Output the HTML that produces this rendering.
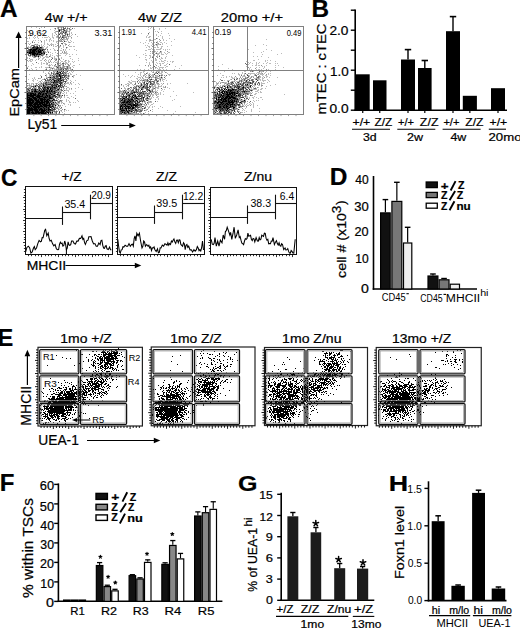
<!DOCTYPE html><html><head><meta charset="utf-8"><title>Figure</title><style>html,body{margin:0;padding:0;background:#fff;}body{width:520px;height:629px;overflow:hidden;font-family:"Liberation Sans",sans-serif;}svg{display:block;}text.k{stroke:#000;stroke-width:.22px;}</style></head><body><svg width="520" height="629" viewBox="0 0 520 629" font-family="Liberation Sans, sans-serif"><defs><filter id="soft" x="-5%" y="-5%" width="110%" height="110%"><feGaussianBlur stdDeviation="0.5"/></filter></defs><g><path fill="#000" d="M59 30h1v1h-1zM33 47h1v1h-1zM37 47h1v1h-1zM40 47h1v1h-1zM36 48h2v1h-2zM30 49h2v1h-2zM33 49h4v1h-4zM39 49h1v1h-1zM30 50h1v1h-1zM32 50h4v1h-4zM38 50h1v1h-1zM40 50h1v1h-1zM42 50h1v1h-1zM30 51h1v1h-1zM32 51h3v1h-3zM36 51h1v1h-1zM38 51h3v1h-3zM27 52h1v1h-1zM29 52h6v1h-6zM38 52h3v1h-3zM29 53h2v1h-2zM32 53h4v1h-4zM37 53h1v1h-1zM41 53h1v1h-1zM44 53h1v1h-1zM32 54h3v1h-3zM36 54h2v1h-2zM39 54h2v1h-2zM34 55h1v1h-1zM38 56h1v1h-1zM57 71h1v1h-1zM60 72h1v1h-1zM57 73h1v1h-1zM59 74h1v1h-1zM59 75h1v1h-1zM60 76h1v1h-1zM50 77h1v1h-1zM60 77h1v1h-1zM60 78h1v1h-1zM54 80h1v1h-1zM58 80h1v1h-1zM61 80h1v1h-1zM54 81h1v1h-1zM53 82h1v1h-1zM57 84h1v1h-1zM60 84h1v1h-1zM43 85h1v1h-1zM35 86h1v1h-1zM52 86h1v1h-1zM56 86h1v1h-1zM58 86h1v1h-1zM44 87h1v1h-1zM47 87h1v1h-1zM54 87h1v1h-1zM47 88h2v1h-2zM50 88h1v1h-1zM35 89h1v1h-1zM43 89h1v1h-1zM50 89h1v1h-1zM58 89h1v1h-1zM35 90h1v1h-1zM39 90h1v1h-1zM44 90h1v1h-1zM47 90h1v1h-1zM49 90h1v1h-1zM51 90h1v1h-1zM32 91h1v1h-1zM34 91h3v1h-3zM40 91h1v1h-1zM42 91h3v1h-3zM46 91h2v1h-2zM49 91h1v1h-1zM51 91h1v1h-1zM54 91h1v1h-1zM39 92h1v1h-1zM41 92h1v1h-1zM47 92h1v1h-1zM27 93h1v1h-1zM30 93h4v1h-4zM35 93h1v1h-1zM38 93h3v1h-3zM43 93h1v1h-1zM45 93h2v1h-2zM50 93h1v1h-1zM54 93h1v1h-1zM27 94h1v1h-1zM30 94h2v1h-2zM33 94h3v1h-3zM38 94h1v1h-1zM40 94h1v1h-1zM42 94h2v1h-2zM46 94h1v1h-1zM51 94h1v1h-1zM57 94h1v1h-1zM27 95h9v1h-9zM37 95h3v1h-3zM42 95h1v1h-1zM46 95h2v1h-2zM49 95h1v1h-1zM54 95h1v1h-1zM27 96h1v1h-1zM30 96h4v1h-4zM36 96h7v1h-7zM45 96h1v1h-1zM47 96h1v1h-1zM49 96h1v1h-1zM27 97h3v1h-3zM32 97h4v1h-4zM37 97h3v1h-3zM43 97h4v1h-4zM49 97h2v1h-2zM27 98h1v1h-1zM29 98h3v1h-3zM33 98h4v1h-4zM39 98h4v1h-4zM44 98h1v1h-1zM49 98h3v1h-3zM27 99h6v1h-6zM34 99h3v1h-3zM38 99h1v1h-1zM40 99h6v1h-6zM47 99h2v1h-2zM53 99h1v1h-1zM27 100h7v1h-7zM35 100h4v1h-4zM40 100h3v1h-3zM44 100h1v1h-1zM46 100h2v1h-2zM49 100h1v1h-1zM52 100h1v1h-1zM27 101h4v1h-4zM32 101h2v1h-2zM36 101h4v1h-4zM41 101h2v1h-2zM44 101h5v1h-5zM27 102h7v1h-7zM35 102h10v1h-10zM46 102h3v1h-3zM53 102h1v1h-1zM27 103h6v1h-6zM34 103h4v1h-4zM39 103h4v1h-4zM44 103h1v1h-1zM46 103h2v1h-2zM49 103h1v1h-1zM51 103h1v1h-1zM27 104h1v1h-1zM29 104h3v1h-3zM33 104h8v1h-8zM42 104h5v1h-5zM49 104h1v1h-1zM27 105h6v1h-6zM34 105h2v1h-2zM37 105h2v1h-2zM40 105h2v1h-2zM43 105h7v1h-7zM55 105h1v1h-1zM27 106h1v1h-1zM30 106h1v1h-1zM32 106h11v1h-11zM44 106h3v1h-3zM49 106h1v1h-1zM52 106h1v1h-1zM27 107h3v1h-3zM31 107h1v1h-1zM33 107h7v1h-7zM43 107h1v1h-1zM46 107h1v1h-1zM48 107h1v1h-1zM50 107h1v1h-1zM28 108h5v1h-5zM34 108h3v1h-3zM38 108h1v1h-1zM40 108h2v1h-2zM44 108h1v1h-1zM48 108h1v1h-1zM27 109h11v1h-11zM39 109h4v1h-4zM44 109h1v1h-1zM46 109h1v1h-1zM48 109h3v1h-3zM27 110h6v1h-6zM34 110h4v1h-4zM39 110h1v1h-1zM41 110h5v1h-5zM48 110h1v1h-1zM27 111h3v1h-3zM32 111h1v1h-1zM35 111h4v1h-4zM41 111h4v1h-4zM46 111h1v1h-1zM27 112h3v1h-3zM31 112h3v1h-3zM35 112h9v1h-9zM45 112h1v1h-1zM47 112h2v1h-2zM50 112h1v1h-1zM52 112h1v1h-1zM27 113h3v1h-3zM32 113h5v1h-5zM38 113h2v1h-2zM41 113h5v1h-5zM48 113h1v1h-1z"/><path fill="#383838" d="M63 29h1v1h-1zM64 30h1v1h-1zM59 31h1v1h-1zM63 32h1v1h-1zM65 32h1v1h-1zM59 34h1v1h-1zM67 34h1v1h-1zM58 36h1v1h-1zM62 37h1v1h-1zM64 41h1v1h-1zM34 46h1v1h-1zM37 46h1v1h-1zM32 47h1v1h-1zM34 47h3v1h-3zM38 47h1v1h-1zM41 47h1v1h-1zM27 48h1v1h-1zM32 48h4v1h-4zM38 48h2v1h-2zM29 49h1v1h-1zM32 49h1v1h-1zM37 49h2v1h-2zM40 49h1v1h-1zM42 49h2v1h-2zM29 50h1v1h-1zM31 50h1v1h-1zM36 50h2v1h-2zM39 50h1v1h-1zM41 50h1v1h-1zM29 51h1v1h-1zM31 51h1v1h-1zM35 51h1v1h-1zM37 51h1v1h-1zM41 51h1v1h-1zM43 51h1v1h-1zM28 52h1v1h-1zM35 52h3v1h-3zM41 52h1v1h-1zM43 52h2v1h-2zM31 53h1v1h-1zM36 53h1v1h-1zM38 53h2v1h-2zM42 53h1v1h-1zM30 54h1v1h-1zM35 54h1v1h-1zM38 54h1v1h-1zM46 54h1v1h-1zM30 55h1v1h-1zM36 55h1v1h-1zM35 56h1v1h-1zM57 67h1v1h-1zM63 69h1v1h-1zM58 70h1v1h-1zM61 71h1v1h-1zM63 71h1v1h-1zM59 72h1v1h-1zM56 73h1v1h-1zM58 73h1v1h-1zM60 73h1v1h-1zM62 73h1v1h-1zM56 75h1v1h-1zM60 75h1v1h-1zM62 75h2v1h-2zM65 75h1v1h-1zM53 76h1v1h-1zM56 76h2v1h-2zM59 76h1v1h-1zM64 76h1v1h-1zM54 77h1v1h-1zM62 77h1v1h-1zM55 78h1v1h-1zM58 78h2v1h-2zM50 79h1v1h-1zM52 79h2v1h-2zM57 79h4v1h-4zM45 80h1v1h-1zM51 80h1v1h-1zM55 80h2v1h-2zM60 80h1v1h-1zM63 80h1v1h-1zM56 81h2v1h-2zM59 81h2v1h-2zM65 81h1v1h-1zM46 82h1v1h-1zM51 82h1v1h-1zM54 82h4v1h-4zM60 82h2v1h-2zM45 83h1v1h-1zM53 83h1v1h-1zM59 83h3v1h-3zM43 84h1v1h-1zM46 84h1v1h-1zM48 84h3v1h-3zM52 84h1v1h-1zM54 84h1v1h-1zM56 84h1v1h-1zM51 85h6v1h-6zM58 85h3v1h-3zM33 86h1v1h-1zM38 86h1v1h-1zM41 86h1v1h-1zM43 86h1v1h-1zM45 86h1v1h-1zM48 86h1v1h-1zM60 86h1v1h-1zM39 87h1v1h-1zM42 87h1v1h-1zM45 87h2v1h-2zM48 87h6v1h-6zM55 87h1v1h-1zM61 87h1v1h-1zM40 88h1v1h-1zM43 88h3v1h-3zM51 88h2v1h-2zM54 88h2v1h-2zM59 88h1v1h-1zM28 89h1v1h-1zM31 89h2v1h-2zM34 89h1v1h-1zM37 89h1v1h-1zM39 89h1v1h-1zM41 89h1v1h-1zM44 89h5v1h-5zM52 89h1v1h-1zM57 89h1v1h-1zM29 90h1v1h-1zM34 90h1v1h-1zM42 90h2v1h-2zM45 90h2v1h-2zM52 90h1v1h-1zM56 90h1v1h-1zM27 91h1v1h-1zM31 91h1v1h-1zM37 91h2v1h-2zM41 91h1v1h-1zM48 91h1v1h-1zM50 91h1v1h-1zM52 91h2v1h-2zM28 92h5v1h-5zM34 92h5v1h-5zM40 92h1v1h-1zM42 92h3v1h-3zM46 92h1v1h-1zM48 92h3v1h-3zM52 92h1v1h-1zM54 92h2v1h-2zM58 92h1v1h-1zM28 93h2v1h-2zM34 93h1v1h-1zM41 93h2v1h-2zM44 93h1v1h-1zM47 93h3v1h-3zM53 93h1v1h-1zM28 94h2v1h-2zM32 94h1v1h-1zM36 94h2v1h-2zM39 94h1v1h-1zM41 94h1v1h-1zM44 94h2v1h-2zM48 94h2v1h-2zM52 94h1v1h-1zM36 95h1v1h-1zM40 95h2v1h-2zM43 95h3v1h-3zM48 95h1v1h-1zM50 95h1v1h-1zM53 95h1v1h-1zM59 95h1v1h-1zM62 95h1v1h-1zM28 96h2v1h-2zM35 96h1v1h-1zM43 96h2v1h-2zM46 96h1v1h-1zM48 96h1v1h-1zM50 96h1v1h-1zM52 96h2v1h-2zM55 96h2v1h-2zM30 97h2v1h-2zM36 97h1v1h-1zM40 97h3v1h-3zM47 97h2v1h-2zM51 97h2v1h-2zM55 97h1v1h-1zM28 98h1v1h-1zM32 98h1v1h-1zM37 98h2v1h-2zM43 98h1v1h-1zM45 98h4v1h-4zM52 98h1v1h-1zM33 99h1v1h-1zM37 99h1v1h-1zM39 99h1v1h-1zM46 99h1v1h-1zM49 99h1v1h-1zM54 99h1v1h-1zM34 100h1v1h-1zM39 100h1v1h-1zM43 100h1v1h-1zM45 100h1v1h-1zM48 100h1v1h-1zM50 100h1v1h-1zM54 100h1v1h-1zM56 100h1v1h-1zM31 101h1v1h-1zM34 101h2v1h-2zM40 101h1v1h-1zM43 101h1v1h-1zM50 101h2v1h-2zM34 102h1v1h-1zM45 102h1v1h-1zM49 102h2v1h-2zM55 102h1v1h-1zM33 103h1v1h-1zM38 103h1v1h-1zM43 103h1v1h-1zM45 103h1v1h-1zM48 103h1v1h-1zM28 104h1v1h-1zM32 104h1v1h-1zM41 104h1v1h-1zM47 104h2v1h-2zM50 104h4v1h-4zM33 105h1v1h-1zM36 105h1v1h-1zM39 105h1v1h-1zM42 105h1v1h-1zM50 105h1v1h-1zM52 105h1v1h-1zM58 105h1v1h-1zM28 106h2v1h-2zM31 106h1v1h-1zM43 106h1v1h-1zM47 106h2v1h-2zM50 106h2v1h-2zM53 106h1v1h-1zM30 107h1v1h-1zM32 107h1v1h-1zM40 107h3v1h-3zM44 107h2v1h-2zM47 107h1v1h-1zM49 107h1v1h-1zM51 107h1v1h-1zM53 107h1v1h-1zM27 108h1v1h-1zM33 108h1v1h-1zM37 108h1v1h-1zM39 108h1v1h-1zM42 108h2v1h-2zM45 108h3v1h-3zM49 108h1v1h-1zM52 108h1v1h-1zM54 108h1v1h-1zM38 109h1v1h-1zM43 109h1v1h-1zM45 109h1v1h-1zM47 109h1v1h-1zM53 109h2v1h-2zM33 110h1v1h-1zM38 110h1v1h-1zM40 110h1v1h-1zM46 110h2v1h-2zM49 110h4v1h-4zM30 111h2v1h-2zM33 111h2v1h-2zM39 111h2v1h-2zM47 111h3v1h-3zM30 112h1v1h-1zM34 112h1v1h-1zM44 112h1v1h-1zM46 112h1v1h-1zM59 112h1v1h-1zM30 113h2v1h-2zM37 113h1v1h-1zM40 113h1v1h-1zM46 113h1v1h-1zM50 113h1v1h-1z"/><path fill="#666" d="M63 27h1v1h-1zM55 28h1v1h-1zM63 28h3v1h-3zM67 28h1v1h-1zM69 28h1v1h-1zM72 28h1v1h-1zM59 29h1v1h-1zM61 29h1v1h-1zM58 31h1v1h-1zM63 31h1v1h-1zM66 31h1v1h-1zM58 32h1v1h-1zM66 32h1v1h-1zM60 33h1v1h-1zM62 33h1v1h-1zM65 33h1v1h-1zM65 34h1v1h-1zM28 35h1v1h-1zM63 35h2v1h-2zM67 35h1v1h-1zM60 36h1v1h-1zM62 36h1v1h-1zM59 37h1v1h-1zM63 37h1v1h-1zM61 38h1v1h-1zM62 39h1v1h-1zM41 41h1v1h-1zM32 42h1v1h-1zM61 43h2v1h-2zM32 45h2v1h-2zM39 45h1v1h-1zM60 45h1v1h-1zM33 46h1v1h-1zM36 46h1v1h-1zM39 46h1v1h-1zM39 47h1v1h-1zM66 47h1v1h-1zM31 48h1v1h-1zM40 48h2v1h-2zM28 49h1v1h-1zM41 49h1v1h-1zM44 49h2v1h-2zM47 49h1v1h-1zM27 50h2v1h-2zM57 50h1v1h-1zM27 51h2v1h-2zM48 52h1v1h-1zM28 53h1v1h-1zM40 53h1v1h-1zM43 53h1v1h-1zM28 54h1v1h-1zM31 54h1v1h-1zM41 54h1v1h-1zM43 54h1v1h-1zM28 55h1v1h-1zM32 55h2v1h-2zM35 55h1v1h-1zM38 55h1v1h-1zM41 55h2v1h-2zM34 56h1v1h-1zM36 56h1v1h-1zM49 56h1v1h-1zM52 58h1v1h-1zM51 59h1v1h-1zM56 59h1v1h-1zM59 59h1v1h-1zM36 62h1v1h-1zM57 63h1v1h-1zM62 63h2v1h-2zM55 64h1v1h-1zM59 65h1v1h-1zM63 65h1v1h-1zM56 66h1v1h-1zM67 66h1v1h-1zM49 67h1v1h-1zM60 67h1v1h-1zM67 67h1v1h-1zM27 68h1v1h-1zM52 68h1v1h-1zM61 68h1v1h-1zM65 68h1v1h-1zM67 68h1v1h-1zM46 69h1v1h-1zM58 69h1v1h-1zM60 69h2v1h-2zM66 69h1v1h-1zM72 69h1v1h-1zM52 70h1v1h-1zM59 70h1v1h-1zM61 70h1v1h-1zM63 70h2v1h-2zM67 71h1v1h-1zM51 72h1v1h-1zM57 72h2v1h-2zM62 72h1v1h-1zM64 72h1v1h-1zM51 73h1v1h-1zM53 73h1v1h-1zM61 73h1v1h-1zM63 73h1v1h-1zM65 73h1v1h-1zM53 74h1v1h-1zM55 74h1v1h-1zM57 74h2v1h-2zM60 74h1v1h-1zM63 74h1v1h-1zM45 75h1v1h-1zM50 75h1v1h-1zM52 75h1v1h-1zM57 75h2v1h-2zM61 75h1v1h-1zM64 75h1v1h-1zM66 75h1v1h-1zM68 75h1v1h-1zM41 76h1v1h-1zM54 76h1v1h-1zM58 76h1v1h-1zM61 76h1v1h-1zM68 76h1v1h-1zM72 76h1v1h-1zM41 77h1v1h-1zM48 77h2v1h-2zM52 77h2v1h-2zM56 77h2v1h-2zM61 77h1v1h-1zM63 77h2v1h-2zM66 77h1v1h-1zM46 78h1v1h-1zM53 78h2v1h-2zM56 78h2v1h-2zM61 78h1v1h-1zM65 78h1v1h-1zM67 78h2v1h-2zM44 79h2v1h-2zM47 79h1v1h-1zM49 79h1v1h-1zM56 79h1v1h-1zM62 79h2v1h-2zM66 79h1v1h-1zM47 80h3v1h-3zM53 80h1v1h-1zM57 80h1v1h-1zM59 80h1v1h-1zM62 80h1v1h-1zM50 81h1v1h-1zM55 81h1v1h-1zM58 81h1v1h-1zM63 81h2v1h-2zM45 82h1v1h-1zM48 82h1v1h-1zM52 82h1v1h-1zM58 82h2v1h-2zM62 82h1v1h-1zM65 82h1v1h-1zM27 83h1v1h-1zM41 83h1v1h-1zM43 83h1v1h-1zM46 83h1v1h-1zM50 83h1v1h-1zM54 83h3v1h-3zM64 83h1v1h-1zM38 84h1v1h-1zM45 84h1v1h-1zM47 84h1v1h-1zM51 84h1v1h-1zM55 84h1v1h-1zM35 85h3v1h-3zM39 85h1v1h-1zM44 85h1v1h-1zM46 85h1v1h-1zM61 85h2v1h-2zM64 85h1v1h-1zM31 86h2v1h-2zM39 86h1v1h-1zM44 86h1v1h-1zM47 86h1v1h-1zM49 86h3v1h-3zM54 86h2v1h-2zM59 86h1v1h-1zM62 86h2v1h-2zM33 87h1v1h-1zM38 87h1v1h-1zM43 87h1v1h-1zM56 87h2v1h-2zM59 87h1v1h-1zM63 87h1v1h-1zM27 88h1v1h-1zM29 88h2v1h-2zM32 88h1v1h-1zM34 88h2v1h-2zM38 88h2v1h-2zM42 88h1v1h-1zM53 88h1v1h-1zM56 88h1v1h-1zM27 89h1v1h-1zM33 89h1v1h-1zM36 89h1v1h-1zM49 89h1v1h-1zM51 89h1v1h-1zM53 89h3v1h-3zM61 89h1v1h-1zM28 90h1v1h-1zM31 90h3v1h-3zM36 90h1v1h-1zM38 90h1v1h-1zM40 90h2v1h-2zM48 90h1v1h-1zM50 90h1v1h-1zM54 90h2v1h-2zM57 90h2v1h-2zM61 90h2v1h-2zM64 90h1v1h-1zM29 91h1v1h-1zM33 91h1v1h-1zM39 91h1v1h-1zM45 91h1v1h-1zM55 91h1v1h-1zM27 92h1v1h-1zM33 92h1v1h-1zM45 92h1v1h-1zM51 92h1v1h-1zM53 92h1v1h-1zM56 92h1v1h-1zM60 92h1v1h-1zM36 93h2v1h-2zM51 93h2v1h-2zM55 93h1v1h-1zM58 93h1v1h-1zM60 93h1v1h-1zM47 94h1v1h-1zM50 94h1v1h-1zM53 94h1v1h-1zM56 94h1v1h-1zM58 94h1v1h-1zM52 95h1v1h-1zM55 95h1v1h-1zM58 95h1v1h-1zM64 95h1v1h-1zM34 96h1v1h-1zM51 96h1v1h-1zM54 96h1v1h-1zM59 96h1v1h-1zM57 97h1v1h-1zM53 98h1v1h-1zM75 98h1v1h-1zM51 100h1v1h-1zM53 100h1v1h-1zM55 100h1v1h-1zM60 100h1v1h-1zM49 101h1v1h-1zM52 101h1v1h-1zM59 101h1v1h-1zM52 102h1v1h-1zM58 102h1v1h-1zM52 103h2v1h-2zM56 103h1v1h-1zM54 104h1v1h-1zM57 104h1v1h-1zM53 105h1v1h-1zM54 107h2v1h-2zM61 107h1v1h-1zM51 108h1v1h-1zM51 109h2v1h-2zM55 109h1v1h-1zM64 109h1v1h-1zM45 111h1v1h-1zM50 111h1v1h-1zM52 111h1v1h-1zM54 111h1v1h-1zM56 111h1v1h-1zM59 111h1v1h-1zM49 112h1v1h-1zM56 112h1v1h-1zM52 113h1v1h-1zM56 113h1v1h-1z"/><path fill="#939393" d="M44 27h1v1h-1zM61 27h1v1h-1zM65 27h1v1h-1zM39 28h1v1h-1zM61 28h1v1h-1zM60 29h1v1h-1zM62 29h1v1h-1zM64 29h1v1h-1zM66 29h1v1h-1zM69 29h2v1h-2zM58 30h1v1h-1zM60 30h2v1h-2zM63 30h1v1h-1zM65 30h2v1h-2zM56 31h2v1h-2zM61 31h2v1h-2zM65 31h1v1h-1zM69 31h1v1h-1zM60 32h2v1h-2zM58 33h1v1h-1zM61 33h1v1h-1zM64 33h1v1h-1zM69 33h1v1h-1zM56 34h1v1h-1zM62 34h1v1h-1zM69 34h1v1h-1zM75 34h1v1h-1zM62 35h1v1h-1zM65 35h1v1h-1zM57 36h1v1h-1zM63 36h1v1h-1zM68 36h1v1h-1zM64 37h3v1h-3zM71 37h1v1h-1zM59 38h1v1h-1zM63 38h1v1h-1zM66 38h1v1h-1zM60 39h1v1h-1zM67 39h1v1h-1zM58 40h2v1h-2zM61 40h1v1h-1zM32 41h1v1h-1zM60 41h3v1h-3zM34 42h1v1h-1zM69 42h1v1h-1zM29 44h1v1h-1zM35 44h1v1h-1zM37 44h1v1h-1zM65 44h2v1h-2zM31 45h1v1h-1zM34 45h1v1h-1zM49 45h1v1h-1zM51 45h1v1h-1zM57 45h1v1h-1zM68 45h1v1h-1zM35 46h1v1h-1zM27 47h1v1h-1zM30 47h1v1h-1zM42 47h1v1h-1zM28 48h1v1h-1zM30 48h1v1h-1zM42 48h1v1h-1zM63 49h1v1h-1zM43 50h2v1h-2zM44 51h1v1h-1zM64 51h1v1h-1zM42 52h1v1h-1zM62 52h1v1h-1zM64 52h1v1h-1zM57 53h1v1h-1zM42 54h1v1h-1zM44 54h1v1h-1zM29 55h1v1h-1zM37 55h1v1h-1zM39 55h1v1h-1zM32 56h1v1h-1zM37 56h1v1h-1zM34 57h1v1h-1zM38 57h1v1h-1zM29 58h1v1h-1zM38 59h1v1h-1zM45 59h1v1h-1zM27 60h1v1h-1zM44 60h1v1h-1zM55 60h1v1h-1zM65 60h1v1h-1zM50 61h1v1h-1zM49 62h1v1h-1zM47 63h1v1h-1zM57 64h1v1h-1zM63 64h1v1h-1zM65 64h1v1h-1zM68 64h1v1h-1zM49 65h1v1h-1zM54 65h1v1h-1zM60 65h1v1h-1zM68 65h2v1h-2zM63 66h2v1h-2zM66 66h1v1h-1zM58 67h1v1h-1zM62 67h2v1h-2zM70 67h1v1h-1zM60 68h1v1h-1zM62 68h3v1h-3zM66 68h1v1h-1zM70 68h1v1h-1zM56 69h1v1h-1zM59 69h1v1h-1zM65 69h1v1h-1zM55 70h1v1h-1zM60 70h1v1h-1zM62 70h1v1h-1zM66 70h3v1h-3zM53 71h1v1h-1zM59 71h1v1h-1zM54 72h1v1h-1zM56 72h1v1h-1zM63 72h1v1h-1zM65 72h2v1h-2zM48 73h1v1h-1zM55 73h1v1h-1zM68 73h1v1h-1zM54 74h1v1h-1zM56 74h1v1h-1zM61 74h1v1h-1zM64 74h1v1h-1zM66 74h1v1h-1zM54 75h1v1h-1zM55 76h1v1h-1zM62 76h1v1h-1zM65 76h1v1h-1zM51 77h1v1h-1zM58 77h1v1h-1zM38 78h1v1h-1zM50 78h3v1h-3zM63 78h1v1h-1zM54 79h1v1h-1zM61 79h1v1h-1zM64 79h1v1h-1zM41 80h1v1h-1zM46 80h1v1h-1zM66 80h1v1h-1zM40 81h1v1h-1zM46 81h1v1h-1zM48 81h1v1h-1zM51 81h3v1h-3zM66 81h1v1h-1zM43 82h1v1h-1zM47 82h1v1h-1zM49 82h2v1h-2zM70 82h1v1h-1zM36 83h1v1h-1zM44 83h1v1h-1zM47 83h3v1h-3zM57 83h1v1h-1zM62 83h1v1h-1zM33 84h1v1h-1zM36 84h1v1h-1zM40 84h1v1h-1zM42 84h1v1h-1zM53 84h1v1h-1zM62 84h1v1h-1zM27 85h1v1h-1zM29 85h1v1h-1zM40 85h2v1h-2zM45 85h1v1h-1zM47 85h1v1h-1zM34 86h1v1h-1zM40 86h1v1h-1zM46 86h1v1h-1zM53 86h1v1h-1zM57 86h1v1h-1zM66 86h1v1h-1zM30 87h1v1h-1zM34 87h1v1h-1zM60 87h1v1h-1zM28 88h1v1h-1zM46 88h1v1h-1zM57 88h2v1h-2zM66 88h1v1h-1zM71 88h1v1h-1zM38 89h1v1h-1zM59 89h2v1h-2zM27 90h1v1h-1zM37 90h1v1h-1zM53 90h1v1h-1zM28 91h1v1h-1zM56 91h2v1h-2zM59 91h1v1h-1zM63 91h1v1h-1zM57 92h1v1h-1zM57 93h1v1h-1zM54 94h2v1h-2zM59 94h1v1h-1zM51 95h1v1h-1zM57 95h1v1h-1zM60 95h1v1h-1zM58 96h1v1h-1zM61 96h1v1h-1zM53 97h1v1h-1zM58 97h2v1h-2zM61 97h1v1h-1zM56 98h2v1h-2zM60 98h1v1h-1zM50 99h3v1h-3zM58 99h1v1h-1zM57 100h1v1h-1zM61 100h1v1h-1zM57 101h2v1h-2zM61 101h1v1h-1zM51 102h1v1h-1zM59 102h1v1h-1zM54 103h1v1h-1zM63 103h1v1h-1zM55 104h1v1h-1zM51 105h1v1h-1zM60 105h1v1h-1zM55 106h1v1h-1zM57 107h1v1h-1zM59 107h1v1h-1zM56 108h2v1h-2zM60 108h1v1h-1zM58 109h1v1h-1zM62 109h1v1h-1zM53 110h2v1h-2zM61 110h1v1h-1zM53 111h1v1h-1zM55 111h1v1h-1zM57 111h1v1h-1zM51 112h1v1h-1zM55 112h1v1h-1zM51 113h1v1h-1zM59 113h1v1h-1z"/><path fill="#bbbbbb" d="M31 27h1v1h-1zM36 27h1v1h-1zM41 27h1v1h-1zM57 27h1v1h-1zM59 27h2v1h-2zM62 27h1v1h-1zM67 27h1v1h-1zM70 27h1v1h-1zM54 28h1v1h-1zM57 28h1v1h-1zM68 28h1v1h-1zM74 28h1v1h-1zM50 29h1v1h-1zM55 29h1v1h-1zM67 29h1v1h-1zM71 29h1v1h-1zM27 30h1v1h-1zM43 30h1v1h-1zM54 30h1v1h-1zM67 30h1v1h-1zM69 30h2v1h-2zM28 31h2v1h-2zM36 31h1v1h-1zM39 31h1v1h-1zM55 31h1v1h-1zM64 31h1v1h-1zM67 31h2v1h-2zM39 32h1v1h-1zM54 32h2v1h-2zM62 32h1v1h-1zM64 32h1v1h-1zM69 32h1v1h-1zM71 32h1v1h-1zM32 33h1v1h-1zM37 33h1v1h-1zM39 33h1v1h-1zM42 33h1v1h-1zM52 33h1v1h-1zM55 33h1v1h-1zM59 33h1v1h-1zM66 33h2v1h-2zM71 33h1v1h-1zM30 34h1v1h-1zM33 34h1v1h-1zM44 34h1v1h-1zM52 34h1v1h-1zM61 34h1v1h-1zM66 34h1v1h-1zM68 34h1v1h-1zM72 34h1v1h-1zM40 35h1v1h-1zM52 35h1v1h-1zM54 35h1v1h-1zM57 35h2v1h-2zM60 35h1v1h-1zM69 35h1v1h-1zM71 35h1v1h-1zM34 36h1v1h-1zM37 36h1v1h-1zM48 36h1v1h-1zM52 36h1v1h-1zM56 36h1v1h-1zM64 36h4v1h-4zM69 36h2v1h-2zM77 36h1v1h-1zM29 37h1v1h-1zM33 37h1v1h-1zM35 37h1v1h-1zM37 37h1v1h-1zM42 37h1v1h-1zM44 37h4v1h-4zM49 37h1v1h-1zM52 37h2v1h-2zM56 37h3v1h-3zM60 37h2v1h-2zM68 37h1v1h-1zM27 38h1v1h-1zM29 38h1v1h-1zM34 38h1v1h-1zM38 38h1v1h-1zM50 38h1v1h-1zM53 38h1v1h-1zM64 38h1v1h-1zM67 38h2v1h-2zM71 38h1v1h-1zM46 39h1v1h-1zM49 39h2v1h-2zM61 39h1v1h-1zM63 39h4v1h-4zM33 40h1v1h-1zM35 40h1v1h-1zM38 40h1v1h-1zM40 40h1v1h-1zM44 40h1v1h-1zM46 40h1v1h-1zM49 40h1v1h-1zM51 40h1v1h-1zM53 40h1v1h-1zM60 40h1v1h-1zM63 40h2v1h-2zM67 40h1v1h-1zM70 40h1v1h-1zM27 41h2v1h-2zM44 41h1v1h-1zM49 41h1v1h-1zM53 41h1v1h-1zM56 41h2v1h-2zM59 41h1v1h-1zM65 41h2v1h-2zM68 41h1v1h-1zM71 41h1v1h-1zM38 42h1v1h-1zM41 42h1v1h-1zM44 42h1v1h-1zM56 42h1v1h-1zM63 42h1v1h-1zM68 42h1v1h-1zM70 42h1v1h-1zM73 42h1v1h-1zM28 43h1v1h-1zM30 43h1v1h-1zM44 43h1v1h-1zM47 43h1v1h-1zM51 43h1v1h-1zM57 43h2v1h-2zM64 43h2v1h-2zM34 44h1v1h-1zM36 44h1v1h-1zM41 44h1v1h-1zM44 44h1v1h-1zM47 44h2v1h-2zM50 44h4v1h-4zM55 44h1v1h-1zM62 44h1v1h-1zM69 44h1v1h-1zM36 45h3v1h-3zM41 45h1v1h-1zM43 45h1v1h-1zM53 45h1v1h-1zM63 45h1v1h-1zM65 45h1v1h-1zM28 46h1v1h-1zM30 46h2v1h-2zM41 46h2v1h-2zM44 46h1v1h-1zM47 46h1v1h-1zM53 46h1v1h-1zM55 46h2v1h-2zM59 46h2v1h-2zM63 46h1v1h-1zM69 46h3v1h-3zM73 46h2v1h-2zM28 47h2v1h-2zM31 47h1v1h-1zM43 47h1v1h-1zM46 47h2v1h-2zM58 47h2v1h-2zM63 47h1v1h-1zM67 47h1v1h-1zM43 48h1v1h-1zM45 48h2v1h-2zM53 48h1v1h-1zM61 48h1v1h-1zM66 48h1v1h-1zM50 49h1v1h-1zM54 49h1v1h-1zM65 49h1v1h-1zM69 49h1v1h-1zM74 49h1v1h-1zM47 50h1v1h-1zM54 50h2v1h-2zM58 50h1v1h-1zM60 50h2v1h-2zM63 50h1v1h-1zM65 50h1v1h-1zM76 50h1v1h-1zM42 51h1v1h-1zM45 51h1v1h-1zM47 51h2v1h-2zM62 51h1v1h-1zM66 51h1v1h-1zM45 52h2v1h-2zM50 52h1v1h-1zM55 52h1v1h-1zM65 52h2v1h-2zM27 53h1v1h-1zM52 53h1v1h-1zM60 53h2v1h-2zM63 53h5v1h-5zM27 54h1v1h-1zM47 54h1v1h-1zM50 54h1v1h-1zM66 54h1v1h-1zM69 54h1v1h-1zM72 54h1v1h-1zM76 54h1v1h-1zM31 55h1v1h-1zM40 55h1v1h-1zM43 55h1v1h-1zM46 55h1v1h-1zM50 55h1v1h-1zM52 55h1v1h-1zM56 55h2v1h-2zM59 55h2v1h-2zM65 55h1v1h-1zM29 56h2v1h-2zM33 56h1v1h-1zM39 56h2v1h-2zM42 56h1v1h-1zM45 56h3v1h-3zM50 56h1v1h-1zM54 56h1v1h-1zM57 56h1v1h-1zM69 56h2v1h-2zM27 57h1v1h-1zM33 57h1v1h-1zM35 57h1v1h-1zM40 57h1v1h-1zM43 57h2v1h-2zM46 57h3v1h-3zM51 57h2v1h-2zM54 57h1v1h-1zM61 57h1v1h-1zM27 58h1v1h-1zM38 58h2v1h-2zM42 58h2v1h-2zM54 58h3v1h-3zM58 58h2v1h-2zM61 58h1v1h-1zM70 58h1v1h-1zM78 58h1v1h-1zM30 59h3v1h-3zM36 59h1v1h-1zM42 59h1v1h-1zM49 59h1v1h-1zM54 59h2v1h-2zM58 59h1v1h-1zM63 59h1v1h-1zM72 59h1v1h-1zM29 60h2v1h-2zM32 60h1v1h-1zM35 60h1v1h-1zM40 60h2v1h-2zM46 60h1v1h-1zM48 60h1v1h-1zM50 60h1v1h-1zM56 60h1v1h-1zM58 60h1v1h-1zM60 60h1v1h-1zM66 60h1v1h-1zM68 60h1v1h-1zM78 60h1v1h-1zM28 61h1v1h-1zM30 61h2v1h-2zM45 61h1v1h-1zM48 61h1v1h-1zM54 61h1v1h-1zM57 61h1v1h-1zM61 61h2v1h-2zM64 61h2v1h-2zM68 61h2v1h-2zM72 61h1v1h-1zM74 61h1v1h-1zM41 62h1v1h-1zM46 62h1v1h-1zM48 62h1v1h-1zM51 62h1v1h-1zM53 62h1v1h-1zM55 62h3v1h-3zM60 62h1v1h-1zM63 62h1v1h-1zM65 62h2v1h-2zM68 62h1v1h-1zM73 62h1v1h-1zM32 63h1v1h-1zM38 63h1v1h-1zM41 63h1v1h-1zM43 63h2v1h-2zM46 63h1v1h-1zM59 63h2v1h-2zM64 63h4v1h-4zM70 63h1v1h-1zM33 64h1v1h-1zM41 64h1v1h-1zM46 64h2v1h-2zM49 64h1v1h-1zM51 64h1v1h-1zM58 64h1v1h-1zM60 64h3v1h-3zM67 64h1v1h-1zM70 64h1v1h-1zM79 64h1v1h-1zM31 65h1v1h-1zM48 65h1v1h-1zM50 65h1v1h-1zM52 65h1v1h-1zM55 65h1v1h-1zM57 65h2v1h-2zM62 65h1v1h-1zM73 65h2v1h-2zM28 66h1v1h-1zM41 66h1v1h-1zM49 66h1v1h-1zM54 66h2v1h-2zM57 66h4v1h-4zM62 66h1v1h-1zM65 66h1v1h-1zM68 66h2v1h-2zM72 66h1v1h-1zM27 67h1v1h-1zM35 67h2v1h-2zM39 67h1v1h-1zM41 67h1v1h-1zM45 67h4v1h-4zM50 67h2v1h-2zM53 67h1v1h-1zM56 67h1v1h-1zM59 67h1v1h-1zM61 67h1v1h-1zM64 67h1v1h-1zM66 67h1v1h-1zM68 67h2v1h-2zM73 67h1v1h-1zM31 68h1v1h-1zM46 68h1v1h-1zM50 68h2v1h-2zM53 68h2v1h-2zM56 68h4v1h-4zM68 68h2v1h-2zM29 69h1v1h-1zM32 69h1v1h-1zM36 69h1v1h-1zM45 69h1v1h-1zM49 69h2v1h-2zM52 69h1v1h-1zM54 69h2v1h-2zM57 69h1v1h-1zM62 69h1v1h-1zM67 69h2v1h-2zM70 69h2v1h-2zM47 70h1v1h-1zM65 70h1v1h-1zM70 70h1v1h-1zM76 70h1v1h-1zM43 71h1v1h-1zM49 71h1v1h-1zM54 71h3v1h-3zM58 71h1v1h-1zM60 71h1v1h-1zM62 71h1v1h-1zM65 71h2v1h-2zM71 71h1v1h-1zM73 71h1v1h-1zM43 72h1v1h-1zM48 72h1v1h-1zM53 72h1v1h-1zM69 72h1v1h-1zM72 72h1v1h-1zM45 73h1v1h-1zM49 73h1v1h-1zM52 73h1v1h-1zM54 73h1v1h-1zM59 73h1v1h-1zM64 73h1v1h-1zM66 73h2v1h-2zM70 73h1v1h-1zM29 74h1v1h-1zM46 74h1v1h-1zM49 74h3v1h-3zM65 74h1v1h-1zM68 74h1v1h-1zM70 74h2v1h-2zM76 74h1v1h-1zM40 75h1v1h-1zM46 75h1v1h-1zM49 75h1v1h-1zM51 75h1v1h-1zM53 75h1v1h-1zM55 75h1v1h-1zM67 75h1v1h-1zM69 75h1v1h-1zM73 75h2v1h-2zM80 75h1v1h-1zM46 76h1v1h-1zM49 76h4v1h-4zM66 76h2v1h-2zM69 76h1v1h-1zM73 76h1v1h-1zM34 77h1v1h-1zM46 77h2v1h-2zM55 77h1v1h-1zM65 77h1v1h-1zM67 77h2v1h-2zM73 77h1v1h-1zM32 78h1v1h-1zM34 78h1v1h-1zM39 78h2v1h-2zM44 78h1v1h-1zM47 78h1v1h-1zM49 78h1v1h-1zM62 78h1v1h-1zM28 79h1v1h-1zM33 79h1v1h-1zM35 79h1v1h-1zM42 79h2v1h-2zM48 79h1v1h-1zM51 79h1v1h-1zM55 79h1v1h-1zM65 79h1v1h-1zM68 79h1v1h-1zM32 80h2v1h-2zM37 80h1v1h-1zM50 80h1v1h-1zM52 80h1v1h-1zM67 80h1v1h-1zM70 80h1v1h-1zM75 80h1v1h-1zM33 81h1v1h-1zM39 81h1v1h-1zM42 81h1v1h-1zM44 81h2v1h-2zM47 81h1v1h-1zM49 81h1v1h-1zM61 81h2v1h-2zM71 81h1v1h-1zM38 82h1v1h-1zM40 82h2v1h-2zM44 82h1v1h-1zM63 82h1v1h-1zM67 82h2v1h-2zM73 82h1v1h-1zM28 83h2v1h-2zM31 83h3v1h-3zM35 83h1v1h-1zM37 83h1v1h-1zM39 83h2v1h-2zM42 83h1v1h-1zM51 83h2v1h-2zM58 83h1v1h-1zM65 83h4v1h-4zM70 83h2v1h-2zM78 83h1v1h-1zM29 84h1v1h-1zM31 84h1v1h-1zM39 84h1v1h-1zM41 84h1v1h-1zM44 84h1v1h-1zM58 84h1v1h-1zM61 84h1v1h-1zM63 84h3v1h-3zM69 84h1v1h-1zM71 84h1v1h-1zM75 84h1v1h-1zM79 84h1v1h-1zM28 85h1v1h-1zM30 85h2v1h-2zM33 85h2v1h-2zM42 85h1v1h-1zM48 85h3v1h-3zM57 85h1v1h-1zM27 86h1v1h-1zM29 86h2v1h-2zM36 86h2v1h-2zM42 86h1v1h-1zM61 86h1v1h-1zM64 86h2v1h-2zM28 87h2v1h-2zM31 87h1v1h-1zM35 87h2v1h-2zM40 87h1v1h-1zM58 87h1v1h-1zM62 87h1v1h-1zM67 87h2v1h-2zM78 87h1v1h-1zM33 88h1v1h-1zM36 88h1v1h-1zM41 88h1v1h-1zM49 88h1v1h-1zM61 88h1v1h-1zM63 88h2v1h-2zM69 88h1v1h-1zM75 88h1v1h-1zM29 89h2v1h-2zM40 89h1v1h-1zM42 89h1v1h-1zM56 89h1v1h-1zM63 89h1v1h-1zM66 89h1v1h-1zM69 89h1v1h-1zM71 89h1v1h-1zM82 89h1v1h-1zM30 90h1v1h-1zM59 90h2v1h-2zM65 90h4v1h-4zM30 91h1v1h-1zM58 91h1v1h-1zM60 91h2v1h-2zM68 91h1v1h-1zM75 91h1v1h-1zM59 92h1v1h-1zM61 92h1v1h-1zM64 92h1v1h-1zM66 92h1v1h-1zM59 93h1v1h-1zM62 93h2v1h-2zM66 93h1v1h-1zM70 93h1v1h-1zM73 93h1v1h-1zM60 94h1v1h-1zM64 94h1v1h-1zM61 95h1v1h-1zM66 95h2v1h-2zM75 95h1v1h-1zM57 96h1v1h-1zM60 96h1v1h-1zM64 96h1v1h-1zM71 96h1v1h-1zM54 97h1v1h-1zM56 97h1v1h-1zM60 97h1v1h-1zM64 97h1v1h-1zM67 97h2v1h-2zM73 97h1v1h-1zM54 98h1v1h-1zM69 98h1v1h-1zM56 99h1v1h-1zM66 99h1v1h-1zM59 100h1v1h-1zM62 100h1v1h-1zM66 100h1v1h-1zM68 100h1v1h-1zM77 100h1v1h-1zM53 101h3v1h-3zM60 101h1v1h-1zM66 101h1v1h-1zM69 101h1v1h-1zM78 101h1v1h-1zM54 102h1v1h-1zM56 102h2v1h-2zM61 102h2v1h-2zM69 102h2v1h-2zM73 102h1v1h-1zM75 102h1v1h-1zM50 103h1v1h-1zM55 103h1v1h-1zM57 103h3v1h-3zM61 103h1v1h-1zM64 103h1v1h-1zM56 104h1v1h-1zM58 104h1v1h-1zM64 104h1v1h-1zM68 104h1v1h-1zM70 104h1v1h-1zM54 105h1v1h-1zM56 105h1v1h-1zM59 105h1v1h-1zM62 105h1v1h-1zM70 105h1v1h-1zM54 106h1v1h-1zM57 106h4v1h-4zM65 106h1v1h-1zM52 107h1v1h-1zM56 107h1v1h-1zM79 107h1v1h-1zM53 108h1v1h-1zM55 108h1v1h-1zM58 108h1v1h-1zM61 108h1v1h-1zM59 109h1v1h-1zM65 109h1v1h-1zM56 110h1v1h-1zM58 110h1v1h-1zM60 110h1v1h-1zM64 110h1v1h-1zM66 110h1v1h-1zM68 110h1v1h-1zM51 111h1v1h-1zM61 111h1v1h-1zM64 111h1v1h-1zM54 112h1v1h-1zM62 112h1v1h-1zM47 113h1v1h-1zM49 113h1v1h-1zM53 113h3v1h-3zM58 113h1v1h-1zM64 113h1v1h-1z"/></g>
<g><path fill="#000" d="M143 86h1v1h-1zM141 89h1v1h-1zM149 90h1v1h-1zM128 92h1v1h-1zM134 92h1v1h-1zM132 93h1v1h-1zM129 95h1v1h-1zM133 95h1v1h-1zM135 95h1v1h-1zM126 96h1v1h-1zM132 96h1v1h-1zM135 96h1v1h-1zM126 97h1v1h-1zM133 97h1v1h-1zM136 97h1v1h-1zM143 97h1v1h-1zM123 98h2v1h-2zM136 98h2v1h-2zM122 99h1v1h-1zM128 99h1v1h-1zM131 99h2v1h-2zM121 100h1v1h-1zM124 100h1v1h-1zM129 100h1v1h-1zM133 100h1v1h-1zM136 100h1v1h-1zM124 101h1v1h-1zM127 101h2v1h-2zM130 101h1v1h-1zM137 101h1v1h-1zM122 102h3v1h-3zM126 102h2v1h-2zM129 102h1v1h-1zM135 103h1v1h-1zM122 104h1v1h-1zM124 104h2v1h-2zM128 104h3v1h-3zM133 104h2v1h-2zM137 104h1v1h-1zM121 105h1v1h-1zM125 105h1v1h-1zM131 105h1v1h-1zM133 105h4v1h-4zM120 106h2v1h-2zM124 106h1v1h-1zM126 106h4v1h-4zM131 106h1v1h-1zM135 106h1v1h-1zM120 107h1v1h-1zM122 107h1v1h-1zM125 107h1v1h-1zM128 107h1v1h-1zM130 107h1v1h-1zM132 107h2v1h-2zM120 108h1v1h-1zM122 108h1v1h-1zM125 108h2v1h-2zM128 108h2v1h-2zM132 108h2v1h-2zM120 109h1v1h-1zM126 109h1v1h-1zM121 110h4v1h-4zM126 110h1v1h-1zM129 110h1v1h-1zM127 111h1v1h-1zM131 111h1v1h-1zM122 112h1v1h-1zM124 112h1v1h-1zM128 112h1v1h-1z"/><path fill="#383838" d="M157 73h1v1h-1zM154 74h1v1h-1zM159 75h1v1h-1zM149 77h1v1h-1zM161 77h1v1h-1zM151 79h1v1h-1zM149 81h1v1h-1zM157 81h1v1h-1zM144 82h1v1h-1zM150 82h1v1h-1zM146 83h2v1h-2zM141 84h1v1h-1zM147 84h1v1h-1zM150 84h1v1h-1zM141 85h1v1h-1zM138 86h1v1h-1zM149 86h1v1h-1zM139 87h1v1h-1zM142 87h2v1h-2zM147 87h1v1h-1zM136 89h1v1h-1zM147 89h1v1h-1zM124 90h1v1h-1zM132 90h1v1h-1zM136 91h1v1h-1zM142 91h1v1h-1zM144 91h1v1h-1zM150 91h1v1h-1zM125 92h1v1h-1zM133 92h1v1h-1zM135 92h1v1h-1zM137 92h1v1h-1zM141 92h1v1h-1zM126 93h1v1h-1zM131 93h1v1h-1zM140 93h1v1h-1zM143 93h1v1h-1zM126 94h1v1h-1zM130 94h1v1h-1zM137 94h1v1h-1zM139 94h1v1h-1zM123 95h1v1h-1zM128 95h1v1h-1zM134 95h1v1h-1zM138 95h1v1h-1zM141 95h1v1h-1zM147 95h1v1h-1zM123 96h2v1h-2zM129 96h1v1h-1zM134 96h1v1h-1zM137 96h4v1h-4zM149 96h1v1h-1zM122 97h1v1h-1zM125 97h1v1h-1zM129 97h1v1h-1zM131 97h2v1h-2zM147 97h1v1h-1zM120 98h1v1h-1zM127 98h2v1h-2zM131 98h2v1h-2zM134 98h2v1h-2zM140 98h2v1h-2zM143 98h1v1h-1zM147 98h1v1h-1zM124 99h3v1h-3zM129 99h2v1h-2zM138 99h1v1h-1zM143 99h1v1h-1zM122 100h1v1h-1zM125 100h1v1h-1zM127 100h2v1h-2zM130 100h3v1h-3zM143 100h1v1h-1zM147 100h1v1h-1zM120 101h1v1h-1zM123 101h1v1h-1zM125 101h2v1h-2zM129 101h1v1h-1zM131 101h5v1h-5zM139 101h2v1h-2zM142 101h1v1h-1zM121 102h1v1h-1zM125 102h1v1h-1zM128 102h1v1h-1zM130 102h3v1h-3zM135 102h1v1h-1zM137 102h3v1h-3zM121 103h1v1h-1zM123 103h1v1h-1zM125 103h8v1h-8zM136 103h2v1h-2zM120 104h1v1h-1zM123 104h1v1h-1zM127 104h1v1h-1zM131 104h2v1h-2zM135 104h2v1h-2zM141 104h1v1h-1zM120 105h1v1h-1zM122 105h2v1h-2zM126 105h2v1h-2zM130 105h1v1h-1zM132 105h1v1h-1zM137 105h2v1h-2zM122 106h2v1h-2zM125 106h1v1h-1zM132 106h2v1h-2zM136 106h2v1h-2zM142 106h1v1h-1zM127 107h1v1h-1zM129 107h1v1h-1zM134 107h1v1h-1zM138 107h1v1h-1zM121 108h1v1h-1zM124 108h1v1h-1zM127 108h1v1h-1zM130 108h2v1h-2zM144 108h1v1h-1zM121 109h3v1h-3zM128 109h1v1h-1zM131 109h2v1h-2zM135 109h2v1h-2zM128 110h1v1h-1zM133 110h1v1h-1zM135 110h2v1h-2zM120 111h3v1h-3zM125 111h1v1h-1zM128 111h1v1h-1zM127 112h1v1h-1zM121 113h1v1h-1zM124 113h2v1h-2zM128 113h1v1h-1z"/><path fill="#666" d="M148 33h1v1h-1zM156 38h1v1h-1zM156 42h1v1h-1zM156 44h1v1h-1zM153 46h1v1h-1zM160 51h1v1h-1zM156 53h1v1h-1zM159 56h1v1h-1zM152 57h1v1h-1zM169 64h1v1h-1zM154 66h1v1h-1zM156 72h1v1h-1zM158 72h1v1h-1zM146 73h1v1h-1zM149 75h1v1h-1zM161 75h1v1h-1zM166 75h1v1h-1zM150 76h1v1h-1zM155 77h1v1h-1zM164 77h1v1h-1zM147 79h1v1h-1zM150 79h1v1h-1zM155 79h2v1h-2zM160 79h1v1h-1zM143 80h1v1h-1zM147 80h1v1h-1zM156 80h1v1h-1zM137 81h1v1h-1zM147 81h1v1h-1zM150 81h1v1h-1zM152 81h2v1h-2zM154 82h1v1h-1zM135 83h1v1h-1zM138 83h1v1h-1zM141 83h1v1h-1zM144 83h1v1h-1zM150 83h2v1h-2zM121 84h1v1h-1zM144 84h2v1h-2zM152 84h2v1h-2zM144 85h1v1h-1zM146 85h2v1h-2zM136 86h1v1h-1zM140 86h1v1h-1zM144 86h1v1h-1zM146 86h2v1h-2zM150 86h1v1h-1zM130 87h1v1h-1zM133 87h1v1h-1zM135 87h1v1h-1zM145 87h2v1h-2zM148 87h1v1h-1zM150 87h1v1h-1zM121 88h1v1h-1zM128 88h1v1h-1zM134 88h1v1h-1zM136 88h1v1h-1zM141 88h2v1h-2zM145 88h3v1h-3zM149 88h1v1h-1zM154 88h1v1h-1zM161 88h1v1h-1zM133 89h1v1h-1zM138 89h1v1h-1zM142 89h1v1h-1zM146 89h1v1h-1zM148 89h1v1h-1zM133 90h1v1h-1zM136 90h1v1h-1zM138 90h1v1h-1zM140 90h1v1h-1zM148 90h1v1h-1zM152 90h1v1h-1zM123 91h1v1h-1zM125 91h1v1h-1zM131 91h1v1h-1zM133 91h2v1h-2zM138 91h1v1h-1zM143 91h1v1h-1zM145 91h1v1h-1zM147 91h1v1h-1zM152 91h1v1h-1zM123 92h1v1h-1zM127 92h1v1h-1zM131 92h2v1h-2zM136 92h1v1h-1zM139 92h2v1h-2zM143 92h1v1h-1zM150 92h1v1h-1zM155 92h1v1h-1zM122 93h1v1h-1zM124 93h1v1h-1zM127 93h1v1h-1zM130 93h1v1h-1zM134 93h1v1h-1zM138 93h2v1h-2zM141 93h2v1h-2zM145 93h1v1h-1zM147 93h1v1h-1zM149 93h1v1h-1zM151 93h1v1h-1zM122 94h2v1h-2zM128 94h2v1h-2zM133 94h3v1h-3zM143 94h2v1h-2zM127 95h1v1h-1zM132 95h1v1h-1zM139 95h1v1h-1zM142 95h1v1h-1zM144 95h1v1h-1zM121 96h2v1h-2zM125 96h1v1h-1zM128 96h1v1h-1zM130 96h1v1h-1zM136 96h1v1h-1zM141 96h2v1h-2zM144 96h1v1h-1zM123 97h1v1h-1zM128 97h1v1h-1zM134 97h2v1h-2zM141 97h2v1h-2zM144 97h1v1h-1zM121 98h2v1h-2zM125 98h2v1h-2zM129 98h2v1h-2zM138 98h2v1h-2zM146 98h1v1h-1zM148 98h1v1h-1zM120 99h1v1h-1zM127 99h1v1h-1zM134 99h2v1h-2zM137 99h1v1h-1zM139 99h1v1h-1zM141 99h1v1h-1zM120 100h1v1h-1zM123 100h1v1h-1zM126 100h1v1h-1zM135 100h1v1h-1zM137 100h1v1h-1zM139 100h1v1h-1zM141 100h1v1h-1zM146 100h1v1h-1zM122 101h1v1h-1zM144 101h1v1h-1zM155 101h1v1h-1zM120 102h1v1h-1zM134 102h1v1h-1zM147 102h1v1h-1zM122 103h1v1h-1zM124 103h1v1h-1zM133 103h1v1h-1zM140 103h1v1h-1zM145 103h1v1h-1zM121 104h1v1h-1zM126 104h1v1h-1zM138 104h3v1h-3zM146 104h1v1h-1zM124 105h1v1h-1zM128 105h2v1h-2zM139 105h1v1h-1zM130 106h1v1h-1zM143 106h1v1h-1zM123 107h1v1h-1zM126 107h1v1h-1zM135 107h3v1h-3zM139 107h1v1h-1zM145 107h1v1h-1zM123 108h1v1h-1zM134 108h2v1h-2zM137 108h1v1h-1zM142 108h1v1h-1zM124 109h2v1h-2zM130 109h1v1h-1zM138 109h2v1h-2zM120 110h1v1h-1zM125 110h1v1h-1zM127 110h1v1h-1zM130 110h3v1h-3zM137 110h1v1h-1zM140 110h2v1h-2zM144 110h1v1h-1zM150 110h1v1h-1zM123 111h2v1h-2zM126 111h1v1h-1zM129 111h2v1h-2zM132 111h1v1h-1zM134 111h1v1h-1zM136 111h2v1h-2zM139 111h3v1h-3zM120 112h2v1h-2zM123 112h1v1h-1zM125 112h2v1h-2zM133 112h2v1h-2zM136 112h1v1h-1zM120 113h1v1h-1zM126 113h1v1h-1zM129 113h2v1h-2zM143 113h1v1h-1z"/><path fill="#939393" d="M158 32h1v1h-1zM159 39h1v1h-1zM150 40h1v1h-1zM160 40h1v1h-1zM158 43h1v1h-1zM160 44h1v1h-1zM152 46h1v1h-1zM150 51h1v1h-1zM152 51h1v1h-1zM154 51h1v1h-1zM167 51h1v1h-1zM152 53h1v1h-1zM154 54h1v1h-1zM156 56h1v1h-1zM157 57h1v1h-1zM155 58h1v1h-1zM145 65h1v1h-1zM148 65h1v1h-1zM150 65h1v1h-1zM156 65h1v1h-1zM160 65h1v1h-1zM155 67h1v1h-1zM138 70h1v1h-1zM147 70h1v1h-1zM154 70h2v1h-2zM157 70h1v1h-1zM160 70h1v1h-1zM163 70h2v1h-2zM153 72h1v1h-1zM165 72h1v1h-1zM155 73h1v1h-1zM145 74h1v1h-1zM143 75h1v1h-1zM153 75h1v1h-1zM155 75h1v1h-1zM162 75h1v1h-1zM164 75h1v1h-1zM145 76h1v1h-1zM153 76h1v1h-1zM158 76h1v1h-1zM142 77h1v1h-1zM151 77h1v1h-1zM156 77h1v1h-1zM148 78h1v1h-1zM155 78h1v1h-1zM157 78h2v1h-2zM145 79h1v1h-1zM149 79h1v1h-1zM138 80h1v1h-1zM140 80h1v1h-1zM142 80h1v1h-1zM144 80h1v1h-1zM146 80h1v1h-1zM148 80h1v1h-1zM150 80h1v1h-1zM154 80h2v1h-2zM158 80h1v1h-1zM160 80h1v1h-1zM144 81h1v1h-1zM151 81h1v1h-1zM154 81h1v1h-1zM158 81h1v1h-1zM143 82h1v1h-1zM148 82h1v1h-1zM153 82h1v1h-1zM156 82h1v1h-1zM143 83h1v1h-1zM152 83h3v1h-3zM157 83h2v1h-2zM163 83h1v1h-1zM134 84h2v1h-2zM151 84h1v1h-1zM128 85h1v1h-1zM136 85h2v1h-2zM140 85h1v1h-1zM149 85h1v1h-1zM152 85h1v1h-1zM134 86h1v1h-1zM145 86h1v1h-1zM158 86h1v1h-1zM165 86h1v1h-1zM131 87h1v1h-1zM136 87h1v1h-1zM141 87h1v1h-1zM144 87h1v1h-1zM155 87h1v1h-1zM165 87h1v1h-1zM129 88h1v1h-1zM133 88h1v1h-1zM135 88h1v1h-1zM153 88h1v1h-1zM127 89h2v1h-2zM130 89h1v1h-1zM135 89h1v1h-1zM137 89h1v1h-1zM149 89h1v1h-1zM152 89h1v1h-1zM126 90h1v1h-1zM131 90h1v1h-1zM135 90h1v1h-1zM146 90h2v1h-2zM150 90h1v1h-1zM120 91h2v1h-2zM132 91h1v1h-1zM135 91h1v1h-1zM140 91h1v1h-1zM149 91h1v1h-1zM151 91h1v1h-1zM124 92h1v1h-1zM130 92h1v1h-1zM138 92h1v1h-1zM142 92h1v1h-1zM146 92h1v1h-1zM149 92h1v1h-1zM153 92h1v1h-1zM157 92h1v1h-1zM129 93h1v1h-1zM144 93h1v1h-1zM146 93h1v1h-1zM148 93h1v1h-1zM121 94h1v1h-1zM127 94h1v1h-1zM131 94h2v1h-2zM140 94h3v1h-3zM147 94h2v1h-2zM121 95h1v1h-1zM140 95h1v1h-1zM146 95h1v1h-1zM148 95h1v1h-1zM150 95h1v1h-1zM156 95h1v1h-1zM120 96h1v1h-1zM127 96h1v1h-1zM131 96h1v1h-1zM148 96h1v1h-1zM124 97h1v1h-1zM142 98h1v1h-1zM145 98h1v1h-1zM121 99h1v1h-1zM123 99h1v1h-1zM133 99h1v1h-1zM145 99h2v1h-2zM150 99h1v1h-1zM140 100h1v1h-1zM142 100h1v1h-1zM144 100h1v1h-1zM121 101h1v1h-1zM136 101h1v1h-1zM141 101h1v1h-1zM150 101h1v1h-1zM133 102h1v1h-1zM120 103h1v1h-1zM138 103h1v1h-1zM144 104h1v1h-1zM140 105h2v1h-2zM139 106h2v1h-2zM121 107h1v1h-1zM124 107h1v1h-1zM131 107h1v1h-1zM141 107h1v1h-1zM144 107h1v1h-1zM129 109h1v1h-1zM134 109h1v1h-1zM140 109h1v1h-1zM142 109h1v1h-1zM147 109h1v1h-1zM134 110h1v1h-1zM138 110h1v1h-1zM142 110h1v1h-1zM138 111h1v1h-1zM148 111h1v1h-1zM129 112h1v1h-1zM131 112h1v1h-1zM123 113h1v1h-1zM131 113h2v1h-2zM136 113h1v1h-1zM138 113h1v1h-1z"/><path fill="#bbbbbb" d="M148 27h1v1h-1zM151 27h1v1h-1zM150 28h1v1h-1zM159 28h1v1h-1zM165 28h1v1h-1zM148 29h1v1h-1zM154 29h1v1h-1zM159 29h1v1h-1zM155 31h1v1h-1zM157 31h1v1h-1zM161 31h1v1h-1zM149 32h1v1h-1zM141 33h1v1h-1zM161 33h1v1h-1zM168 33h1v1h-1zM148 34h1v1h-1zM156 34h1v1h-1zM147 35h1v1h-1zM156 35h1v1h-1zM160 35h1v1h-1zM169 35h1v1h-1zM146 36h1v1h-1zM149 36h2v1h-2zM153 36h1v1h-1zM158 36h1v1h-1zM162 36h1v1h-1zM146 37h1v1h-1zM148 37h2v1h-2zM162 37h1v1h-1zM157 38h1v1h-1zM162 38h1v1h-1zM169 38h1v1h-1zM149 39h2v1h-2zM153 39h3v1h-3zM163 39h1v1h-1zM174 39h1v1h-1zM146 40h1v1h-1zM149 40h1v1h-1zM151 40h2v1h-2zM163 40h1v1h-1zM166 40h1v1h-1zM149 41h1v1h-1zM157 41h1v1h-1zM159 41h1v1h-1zM171 41h1v1h-1zM140 42h1v1h-1zM145 42h1v1h-1zM151 42h1v1h-1zM154 42h1v1h-1zM157 42h1v1h-1zM160 42h2v1h-2zM164 42h1v1h-1zM143 43h1v1h-1zM148 43h1v1h-1zM152 43h1v1h-1zM157 43h1v1h-1zM162 43h1v1h-1zM166 43h1v1h-1zM152 44h1v1h-1zM155 44h1v1h-1zM157 44h3v1h-3zM162 44h1v1h-1zM145 45h1v1h-1zM147 45h1v1h-1zM151 45h1v1h-1zM154 45h1v1h-1zM156 45h2v1h-2zM171 45h1v1h-1zM148 46h2v1h-2zM157 46h1v1h-1zM161 46h2v1h-2zM167 46h1v1h-1zM146 47h1v1h-1zM149 47h1v1h-1zM154 47h2v1h-2zM157 47h2v1h-2zM161 47h1v1h-1zM151 48h1v1h-1zM160 48h2v1h-2zM148 49h3v1h-3zM152 49h3v1h-3zM156 49h5v1h-5zM163 49h1v1h-1zM165 49h1v1h-1zM167 49h1v1h-1zM169 49h1v1h-1zM145 50h2v1h-2zM154 50h1v1h-1zM165 50h1v1h-1zM153 51h1v1h-1zM155 51h1v1h-1zM157 51h1v1h-1zM161 51h1v1h-1zM152 52h1v1h-1zM154 52h1v1h-1zM156 52h1v1h-1zM159 52h3v1h-3zM164 52h1v1h-1zM168 52h2v1h-2zM145 53h1v1h-1zM150 53h1v1h-1zM155 53h1v1h-1zM157 53h3v1h-3zM161 53h1v1h-1zM165 53h1v1h-1zM167 53h1v1h-1zM143 54h1v1h-1zM157 54h2v1h-2zM161 54h3v1h-3zM166 54h1v1h-1zM136 55h1v1h-1zM145 55h2v1h-2zM149 55h2v1h-2zM153 55h2v1h-2zM157 55h1v1h-1zM159 55h1v1h-1zM172 55h1v1h-1zM150 56h1v1h-1zM152 56h2v1h-2zM157 56h1v1h-1zM166 56h1v1h-1zM139 57h1v1h-1zM145 57h1v1h-1zM150 57h1v1h-1zM161 57h1v1h-1zM165 57h1v1h-1zM149 58h1v1h-1zM159 58h1v1h-1zM161 58h2v1h-2zM165 58h1v1h-1zM145 59h2v1h-2zM155 59h2v1h-2zM160 59h1v1h-1zM146 60h1v1h-1zM151 60h1v1h-1zM155 60h2v1h-2zM161 60h1v1h-1zM164 60h2v1h-2zM152 61h2v1h-2zM159 61h1v1h-1zM161 61h3v1h-3zM167 61h1v1h-1zM170 61h1v1h-1zM172 61h2v1h-2zM146 62h1v1h-1zM149 62h1v1h-1zM152 62h1v1h-1zM156 62h1v1h-1zM164 62h1v1h-1zM172 62h1v1h-1zM149 63h1v1h-1zM153 63h1v1h-1zM157 63h1v1h-1zM159 63h2v1h-2zM162 63h2v1h-2zM167 63h1v1h-1zM149 64h1v1h-1zM155 64h1v1h-1zM160 64h1v1h-1zM166 64h1v1h-1zM139 65h1v1h-1zM164 65h2v1h-2zM181 65h1v1h-1zM148 66h1v1h-1zM158 66h1v1h-1zM166 66h2v1h-2zM175 66h1v1h-1zM150 67h1v1h-1zM152 67h1v1h-1zM156 67h1v1h-1zM159 67h5v1h-5zM165 67h1v1h-1zM150 68h2v1h-2zM155 68h1v1h-1zM157 68h1v1h-1zM159 68h1v1h-1zM162 68h1v1h-1zM179 68h1v1h-1zM137 69h1v1h-1zM140 69h1v1h-1zM144 69h1v1h-1zM148 69h1v1h-1zM158 69h3v1h-3zM163 69h1v1h-1zM166 69h1v1h-1zM174 69h1v1h-1zM140 70h1v1h-1zM148 70h1v1h-1zM150 70h3v1h-3zM156 70h1v1h-1zM158 70h2v1h-2zM161 70h1v1h-1zM165 70h2v1h-2zM168 70h1v1h-1zM170 70h1v1h-1zM143 71h2v1h-2zM151 71h1v1h-1zM153 71h1v1h-1zM156 71h4v1h-4zM161 71h2v1h-2zM164 71h1v1h-1zM135 72h1v1h-1zM140 72h2v1h-2zM143 72h1v1h-1zM147 72h1v1h-1zM152 72h1v1h-1zM155 72h1v1h-1zM159 72h1v1h-1zM161 72h2v1h-2zM166 72h1v1h-1zM140 73h1v1h-1zM144 73h1v1h-1zM147 73h1v1h-1zM149 73h1v1h-1zM154 73h1v1h-1zM156 73h1v1h-1zM159 73h3v1h-3zM167 73h1v1h-1zM123 74h1v1h-1zM138 74h1v1h-1zM140 74h1v1h-1zM144 74h1v1h-1zM148 74h3v1h-3zM152 74h2v1h-2zM158 74h1v1h-1zM161 74h2v1h-2zM168 74h3v1h-3zM128 75h1v1h-1zM132 75h1v1h-1zM140 75h1v1h-1zM144 75h1v1h-1zM146 75h1v1h-1zM148 75h1v1h-1zM151 75h2v1h-2zM156 75h2v1h-2zM160 75h1v1h-1zM169 75h1v1h-1zM125 76h1v1h-1zM131 76h1v1h-1zM134 76h1v1h-1zM137 76h1v1h-1zM141 76h1v1h-1zM143 76h1v1h-1zM148 76h2v1h-2zM152 76h1v1h-1zM155 76h3v1h-3zM159 76h1v1h-1zM161 76h1v1h-1zM165 76h1v1h-1zM130 77h1v1h-1zM138 77h3v1h-3zM145 77h4v1h-4zM150 77h1v1h-1zM152 77h3v1h-3zM157 77h1v1h-1zM159 77h2v1h-2zM162 77h1v1h-1zM136 78h2v1h-2zM140 78h1v1h-1zM142 78h2v1h-2zM149 78h1v1h-1zM151 78h1v1h-1zM156 78h1v1h-1zM159 78h4v1h-4zM165 78h1v1h-1zM137 79h1v1h-1zM139 79h1v1h-1zM141 79h1v1h-1zM143 79h2v1h-2zM146 79h1v1h-1zM152 79h2v1h-2zM159 79h1v1h-1zM162 79h3v1h-3zM131 80h1v1h-1zM141 80h1v1h-1zM145 80h1v1h-1zM157 80h1v1h-1zM162 80h1v1h-1zM166 80h1v1h-1zM128 81h2v1h-2zM132 81h4v1h-4zM139 81h1v1h-1zM142 81h1v1h-1zM145 81h2v1h-2zM148 81h1v1h-1zM156 81h1v1h-1zM160 81h1v1h-1zM163 81h1v1h-1zM129 82h3v1h-3zM135 82h1v1h-1zM137 82h1v1h-1zM139 82h2v1h-2zM142 82h1v1h-1zM146 82h1v1h-1zM149 82h1v1h-1zM151 82h1v1h-1zM157 82h1v1h-1zM127 83h2v1h-2zM130 83h2v1h-2zM140 83h1v1h-1zM148 83h1v1h-1zM156 83h1v1h-1zM161 83h1v1h-1zM167 83h1v1h-1zM170 83h1v1h-1zM187 83h1v1h-1zM125 84h2v1h-2zM128 84h2v1h-2zM132 84h1v1h-1zM140 84h1v1h-1zM142 84h2v1h-2zM146 84h1v1h-1zM149 84h1v1h-1zM154 84h2v1h-2zM157 84h3v1h-3zM162 84h1v1h-1zM167 84h1v1h-1zM121 85h1v1h-1zM123 85h1v1h-1zM127 85h1v1h-1zM133 85h1v1h-1zM138 85h2v1h-2zM142 85h2v1h-2zM145 85h1v1h-1zM151 85h1v1h-1zM154 85h2v1h-2zM158 85h1v1h-1zM161 85h1v1h-1zM123 86h1v1h-1zM126 86h1v1h-1zM128 86h1v1h-1zM135 86h1v1h-1zM137 86h1v1h-1zM139 86h1v1h-1zM141 86h2v1h-2zM151 86h5v1h-5zM159 86h3v1h-3zM163 86h1v1h-1zM124 87h1v1h-1zM134 87h1v1h-1zM138 87h1v1h-1zM140 87h1v1h-1zM149 87h1v1h-1zM152 87h2v1h-2zM156 87h3v1h-3zM163 87h2v1h-2zM167 87h1v1h-1zM124 88h2v1h-2zM127 88h1v1h-1zM131 88h1v1h-1zM138 88h3v1h-3zM143 88h2v1h-2zM152 88h1v1h-1zM155 88h1v1h-1zM157 88h2v1h-2zM169 88h1v1h-1zM125 89h1v1h-1zM132 89h1v1h-1zM139 89h1v1h-1zM143 89h1v1h-1zM151 89h1v1h-1zM153 89h1v1h-1zM155 89h1v1h-1zM162 89h1v1h-1zM164 89h1v1h-1zM120 90h1v1h-1zM122 90h2v1h-2zM125 90h1v1h-1zM128 90h3v1h-3zM137 90h1v1h-1zM142 90h1v1h-1zM151 90h1v1h-1zM155 90h1v1h-1zM157 90h1v1h-1zM161 90h1v1h-1zM122 91h1v1h-1zM124 91h1v1h-1zM126 91h5v1h-5zM137 91h1v1h-1zM139 91h1v1h-1zM153 91h4v1h-4zM163 91h1v1h-1zM173 91h1v1h-1zM120 92h3v1h-3zM126 92h1v1h-1zM144 92h2v1h-2zM148 92h1v1h-1zM151 92h2v1h-2zM156 92h1v1h-1zM160 92h1v1h-1zM193 92h1v1h-1zM120 93h2v1h-2zM123 93h1v1h-1zM125 93h1v1h-1zM128 93h1v1h-1zM133 93h1v1h-1zM136 93h2v1h-2zM154 93h3v1h-3zM158 93h1v1h-1zM160 93h1v1h-1zM124 94h1v1h-1zM138 94h1v1h-1zM145 94h2v1h-2zM149 94h5v1h-5zM155 94h4v1h-4zM160 94h1v1h-1zM163 94h1v1h-1zM120 95h1v1h-1zM125 95h2v1h-2zM130 95h2v1h-2zM136 95h1v1h-1zM145 95h1v1h-1zM152 95h2v1h-2zM176 95h1v1h-1zM133 96h1v1h-1zM145 96h3v1h-3zM150 96h1v1h-1zM152 96h1v1h-1zM157 96h2v1h-2zM170 96h1v1h-1zM121 97h1v1h-1zM130 97h1v1h-1zM137 97h3v1h-3zM146 97h1v1h-1zM149 97h1v1h-1zM151 97h1v1h-1zM153 97h1v1h-1zM156 97h2v1h-2zM133 98h1v1h-1zM149 98h3v1h-3zM158 98h1v1h-1zM136 99h1v1h-1zM140 99h1v1h-1zM142 99h1v1h-1zM147 99h3v1h-3zM155 99h1v1h-1zM158 99h1v1h-1zM174 99h1v1h-1zM134 100h1v1h-1zM138 100h1v1h-1zM148 100h1v1h-1zM172 100h1v1h-1zM138 101h1v1h-1zM143 101h1v1h-1zM145 101h1v1h-1zM148 101h2v1h-2zM151 101h1v1h-1zM157 101h1v1h-1zM136 102h1v1h-1zM142 102h1v1h-1zM144 102h2v1h-2zM148 102h4v1h-4zM139 103h1v1h-1zM141 103h2v1h-2zM147 103h2v1h-2zM153 103h1v1h-1zM142 104h2v1h-2zM148 104h1v1h-1zM151 104h2v1h-2zM144 105h3v1h-3zM150 105h1v1h-1zM134 106h1v1h-1zM138 106h1v1h-1zM141 106h1v1h-1zM145 106h1v1h-1zM147 106h1v1h-1zM149 106h1v1h-1zM152 106h1v1h-1zM154 106h1v1h-1zM160 106h1v1h-1zM180 106h1v1h-1zM140 107h1v1h-1zM148 107h2v1h-2zM152 107h1v1h-1zM162 107h1v1h-1zM138 108h1v1h-1zM140 108h2v1h-2zM143 108h1v1h-1zM145 108h1v1h-1zM148 108h1v1h-1zM158 108h1v1h-1zM127 109h1v1h-1zM133 109h1v1h-1zM137 109h1v1h-1zM141 109h1v1h-1zM146 109h1v1h-1zM152 109h1v1h-1zM139 110h1v1h-1zM145 110h2v1h-2zM167 110h1v1h-1zM135 111h1v1h-1zM152 111h1v1h-1zM175 111h1v1h-1zM130 112h1v1h-1zM132 112h1v1h-1zM135 112h1v1h-1zM139 112h2v1h-2zM145 112h1v1h-1zM195 112h1v1h-1zM122 113h1v1h-1zM127 113h1v1h-1zM133 113h3v1h-3zM137 113h1v1h-1zM140 113h2v1h-2zM144 113h1v1h-1zM148 113h1v1h-1zM173 113h1v1h-1z"/></g>
<g><path fill="#000" d="M247 84h1v1h-1zM224 86h1v1h-1zM227 86h1v1h-1zM250 86h1v1h-1zM227 87h1v1h-1zM243 87h1v1h-1zM238 88h1v1h-1zM219 89h1v1h-1zM224 89h1v1h-1zM226 89h1v1h-1zM228 89h1v1h-1zM232 89h2v1h-2zM223 90h1v1h-1zM228 90h1v1h-1zM230 90h2v1h-2zM219 91h1v1h-1zM222 91h1v1h-1zM224 91h1v1h-1zM226 91h1v1h-1zM230 91h1v1h-1zM237 91h1v1h-1zM244 91h1v1h-1zM221 92h2v1h-2zM224 92h1v1h-1zM226 92h2v1h-2zM229 92h1v1h-1zM231 92h4v1h-4zM217 93h1v1h-1zM222 93h2v1h-2zM227 93h1v1h-1zM229 93h4v1h-4zM234 93h1v1h-1zM236 93h2v1h-2zM221 94h1v1h-1zM226 94h5v1h-5zM232 94h1v1h-1zM234 94h1v1h-1zM221 95h1v1h-1zM223 95h1v1h-1zM227 95h2v1h-2zM231 95h1v1h-1zM234 95h1v1h-1zM236 95h1v1h-1zM238 95h1v1h-1zM220 96h1v1h-1zM222 96h1v1h-1zM226 96h4v1h-4zM231 96h2v1h-2zM218 97h2v1h-2zM223 97h1v1h-1zM225 97h3v1h-3zM229 97h6v1h-6zM216 98h1v1h-1zM221 98h2v1h-2zM224 98h3v1h-3zM228 98h3v1h-3zM233 98h3v1h-3zM216 99h1v1h-1zM218 99h1v1h-1zM220 99h2v1h-2zM223 99h3v1h-3zM228 99h1v1h-1zM231 99h1v1h-1zM237 99h1v1h-1zM221 100h1v1h-1zM223 100h1v1h-1zM225 100h2v1h-2zM228 100h1v1h-1zM230 100h1v1h-1zM232 100h1v1h-1zM234 100h1v1h-1zM244 100h1v1h-1zM215 101h1v1h-1zM218 101h2v1h-2zM222 101h5v1h-5zM228 101h2v1h-2zM231 101h2v1h-2zM234 101h1v1h-1zM236 101h1v1h-1zM217 102h2v1h-2zM220 102h3v1h-3zM228 102h6v1h-6zM240 102h1v1h-1zM217 103h1v1h-1zM221 103h1v1h-1zM223 103h1v1h-1zM226 103h2v1h-2zM229 103h1v1h-1zM232 103h1v1h-1zM219 104h2v1h-2zM222 104h1v1h-1zM225 104h1v1h-1zM227 104h2v1h-2zM230 104h3v1h-3zM234 104h1v1h-1zM219 105h1v1h-1zM224 105h1v1h-1zM226 105h1v1h-1zM230 105h1v1h-1zM219 106h2v1h-2zM223 106h1v1h-1zM226 106h2v1h-2zM230 106h1v1h-1zM232 106h1v1h-1zM218 107h3v1h-3zM223 107h2v1h-2zM226 107h1v1h-1zM229 107h1v1h-1zM233 107h2v1h-2zM216 108h1v1h-1zM222 108h1v1h-1zM227 108h2v1h-2zM233 108h1v1h-1zM227 109h1v1h-1zM220 110h1v1h-1zM226 110h1v1h-1z"/><path fill="#383838" d="M247 75h1v1h-1zM234 79h1v1h-1zM256 79h1v1h-1zM246 80h1v1h-1zM249 80h1v1h-1zM257 80h1v1h-1zM228 81h1v1h-1zM246 81h1v1h-1zM253 81h1v1h-1zM232 82h1v1h-1zM238 82h1v1h-1zM250 82h1v1h-1zM258 82h1v1h-1zM243 83h1v1h-1zM250 83h1v1h-1zM238 84h1v1h-1zM240 84h1v1h-1zM245 84h1v1h-1zM255 84h1v1h-1zM237 85h1v1h-1zM242 85h1v1h-1zM250 85h1v1h-1zM230 86h1v1h-1zM235 86h1v1h-1zM237 86h3v1h-3zM243 86h1v1h-1zM214 87h1v1h-1zM217 87h1v1h-1zM221 87h1v1h-1zM230 87h1v1h-1zM234 87h1v1h-1zM236 87h1v1h-1zM238 87h2v1h-2zM242 87h1v1h-1zM247 87h1v1h-1zM218 88h1v1h-1zM225 88h1v1h-1zM232 88h1v1h-1zM242 88h2v1h-2zM245 88h1v1h-1zM217 89h1v1h-1zM221 89h2v1h-2zM229 89h2v1h-2zM234 89h3v1h-3zM239 89h3v1h-3zM243 89h1v1h-1zM246 89h1v1h-1zM249 89h1v1h-1zM220 90h1v1h-1zM227 90h1v1h-1zM229 90h1v1h-1zM232 90h2v1h-2zM235 90h1v1h-1zM238 90h1v1h-1zM243 90h1v1h-1zM251 90h1v1h-1zM218 91h1v1h-1zM223 91h1v1h-1zM225 91h1v1h-1zM227 91h3v1h-3zM231 91h2v1h-2zM234 91h1v1h-1zM242 91h2v1h-2zM246 91h1v1h-1zM214 92h2v1h-2zM219 92h1v1h-1zM228 92h1v1h-1zM230 92h1v1h-1zM235 92h1v1h-1zM237 92h2v1h-2zM244 92h1v1h-1zM219 93h1v1h-1zM224 93h3v1h-3zM233 93h1v1h-1zM235 93h1v1h-1zM239 93h1v1h-1zM215 94h1v1h-1zM217 94h1v1h-1zM219 94h2v1h-2zM223 94h3v1h-3zM233 94h1v1h-1zM235 94h1v1h-1zM238 94h3v1h-3zM243 94h1v1h-1zM215 95h2v1h-2zM218 95h3v1h-3zM222 95h1v1h-1zM224 95h3v1h-3zM229 95h2v1h-2zM232 95h2v1h-2zM239 95h2v1h-2zM242 95h1v1h-1zM216 96h1v1h-1zM223 96h3v1h-3zM230 96h1v1h-1zM233 96h1v1h-1zM235 96h2v1h-2zM239 96h1v1h-1zM214 97h1v1h-1zM216 97h1v1h-1zM220 97h3v1h-3zM228 97h1v1h-1zM235 97h1v1h-1zM241 97h3v1h-3zM218 98h1v1h-1zM223 98h1v1h-1zM227 98h1v1h-1zM232 98h1v1h-1zM236 98h2v1h-2zM244 98h1v1h-1zM219 99h1v1h-1zM222 99h1v1h-1zM226 99h2v1h-2zM229 99h1v1h-1zM232 99h1v1h-1zM234 99h3v1h-3zM241 99h1v1h-1zM218 100h3v1h-3zM222 100h1v1h-1zM224 100h1v1h-1zM227 100h1v1h-1zM229 100h1v1h-1zM231 100h1v1h-1zM233 100h1v1h-1zM236 100h1v1h-1zM214 101h1v1h-1zM216 101h1v1h-1zM220 101h1v1h-1zM227 101h1v1h-1zM230 101h1v1h-1zM233 101h1v1h-1zM235 101h1v1h-1zM238 101h1v1h-1zM241 101h2v1h-2zM214 102h3v1h-3zM219 102h1v1h-1zM223 102h5v1h-5zM236 102h1v1h-1zM214 103h1v1h-1zM218 103h1v1h-1zM220 103h1v1h-1zM222 103h1v1h-1zM224 103h2v1h-2zM228 103h1v1h-1zM230 103h1v1h-1zM233 103h1v1h-1zM236 103h1v1h-1zM241 103h1v1h-1zM216 104h1v1h-1zM218 104h1v1h-1zM221 104h1v1h-1zM223 104h2v1h-2zM226 104h1v1h-1zM229 104h1v1h-1zM233 104h1v1h-1zM237 104h3v1h-3zM215 105h4v1h-4zM220 105h4v1h-4zM225 105h1v1h-1zM227 105h3v1h-3zM232 105h1v1h-1zM234 105h2v1h-2zM238 105h1v1h-1zM215 106h1v1h-1zM217 106h2v1h-2zM221 106h2v1h-2zM224 106h2v1h-2zM228 106h1v1h-1zM231 106h1v1h-1zM233 106h1v1h-1zM214 107h1v1h-1zM217 107h1v1h-1zM221 107h1v1h-1zM225 107h1v1h-1zM227 107h2v1h-2zM230 107h1v1h-1zM239 107h1v1h-1zM215 108h1v1h-1zM217 108h1v1h-1zM219 108h3v1h-3zM224 108h3v1h-3zM219 109h5v1h-5zM225 109h1v1h-1zM229 109h2v1h-2zM238 109h1v1h-1zM216 110h1v1h-1zM222 110h2v1h-2zM228 110h1v1h-1zM232 110h1v1h-1zM234 110h1v1h-1zM219 111h1v1h-1zM224 111h1v1h-1zM227 111h1v1h-1zM234 111h1v1h-1zM215 112h1v1h-1zM224 112h1v1h-1zM226 112h1v1h-1zM228 112h2v1h-2zM220 113h2v1h-2zM224 113h2v1h-2z"/><path fill="#666" d="M245 63h1v1h-1zM246 64h1v1h-1zM255 70h1v1h-1zM252 71h1v1h-1zM259 71h1v1h-1zM245 73h1v1h-1zM241 75h1v1h-1zM255 75h2v1h-2zM248 76h1v1h-1zM258 76h1v1h-1zM247 77h1v1h-1zM257 77h2v1h-2zM237 78h1v1h-1zM245 78h1v1h-1zM236 79h1v1h-1zM244 79h1v1h-1zM248 79h1v1h-1zM252 79h1v1h-1zM221 80h2v1h-2zM241 80h1v1h-1zM244 80h1v1h-1zM251 80h2v1h-2zM239 81h1v1h-1zM241 81h1v1h-1zM252 81h1v1h-1zM256 81h1v1h-1zM231 82h1v1h-1zM237 82h1v1h-1zM243 82h3v1h-3zM247 82h3v1h-3zM252 82h2v1h-2zM228 83h1v1h-1zM231 83h1v1h-1zM233 83h1v1h-1zM240 83h1v1h-1zM251 83h2v1h-2zM255 83h1v1h-1zM259 83h1v1h-1zM227 84h1v1h-1zM231 84h1v1h-1zM236 84h1v1h-1zM242 84h2v1h-2zM257 84h1v1h-1zM259 84h1v1h-1zM228 85h2v1h-2zM232 85h3v1h-3zM241 85h1v1h-1zM245 85h3v1h-3zM251 85h1v1h-1zM222 86h1v1h-1zM229 86h1v1h-1zM234 86h1v1h-1zM240 86h1v1h-1zM218 87h1v1h-1zM220 87h1v1h-1zM222 87h1v1h-1zM225 87h1v1h-1zM228 87h1v1h-1zM231 87h1v1h-1zM237 87h1v1h-1zM244 87h2v1h-2zM248 87h1v1h-1zM250 87h1v1h-1zM214 88h1v1h-1zM219 88h1v1h-1zM221 88h1v1h-1zM223 88h2v1h-2zM227 88h1v1h-1zM231 88h1v1h-1zM237 88h1v1h-1zM240 88h2v1h-2zM248 88h1v1h-1zM254 88h2v1h-2zM216 89h1v1h-1zM231 89h1v1h-1zM238 89h1v1h-1zM242 89h1v1h-1zM247 89h1v1h-1zM215 90h1v1h-1zM217 90h1v1h-1zM221 90h2v1h-2zM225 90h1v1h-1zM234 90h1v1h-1zM236 90h2v1h-2zM240 90h1v1h-1zM245 90h1v1h-1zM250 90h1v1h-1zM221 91h1v1h-1zM233 91h1v1h-1zM235 91h2v1h-2zM238 91h2v1h-2zM241 91h1v1h-1zM245 91h1v1h-1zM247 91h3v1h-3zM217 92h1v1h-1zM220 92h1v1h-1zM225 92h1v1h-1zM236 92h1v1h-1zM240 92h1v1h-1zM242 92h1v1h-1zM220 93h1v1h-1zM228 93h1v1h-1zM238 93h1v1h-1zM240 93h1v1h-1zM245 93h3v1h-3zM216 94h1v1h-1zM218 94h1v1h-1zM231 94h1v1h-1zM247 94h1v1h-1zM214 95h1v1h-1zM235 95h1v1h-1zM237 95h1v1h-1zM245 95h1v1h-1zM250 95h1v1h-1zM215 96h1v1h-1zM217 96h3v1h-3zM221 96h1v1h-1zM234 96h1v1h-1zM237 96h2v1h-2zM240 96h1v1h-1zM245 96h1v1h-1zM224 97h1v1h-1zM236 97h1v1h-1zM240 97h1v1h-1zM214 98h2v1h-2zM219 98h1v1h-1zM231 98h1v1h-1zM239 98h1v1h-1zM246 98h2v1h-2zM217 99h1v1h-1zM230 99h1v1h-1zM233 99h1v1h-1zM238 99h1v1h-1zM248 99h1v1h-1zM215 100h3v1h-3zM235 100h1v1h-1zM237 100h2v1h-2zM221 101h1v1h-1zM237 101h1v1h-1zM243 101h3v1h-3zM250 101h1v1h-1zM234 102h1v1h-1zM237 102h1v1h-1zM239 102h1v1h-1zM241 102h1v1h-1zM244 102h1v1h-1zM215 103h2v1h-2zM219 103h1v1h-1zM231 103h1v1h-1zM235 103h1v1h-1zM217 104h1v1h-1zM235 104h2v1h-2zM231 105h1v1h-1zM233 105h1v1h-1zM236 105h1v1h-1zM239 105h1v1h-1zM216 106h1v1h-1zM229 106h1v1h-1zM234 106h2v1h-2zM240 106h1v1h-1zM242 106h1v1h-1zM215 107h2v1h-2zM222 107h1v1h-1zM231 107h1v1h-1zM214 108h1v1h-1zM218 108h1v1h-1zM223 108h1v1h-1zM234 108h1v1h-1zM236 108h1v1h-1zM215 109h1v1h-1zM224 109h1v1h-1zM226 109h1v1h-1zM231 109h1v1h-1zM233 109h2v1h-2zM221 110h1v1h-1zM224 110h2v1h-2zM227 110h1v1h-1zM231 110h1v1h-1zM214 111h1v1h-1zM217 111h1v1h-1zM220 111h2v1h-2zM226 111h1v1h-1zM228 111h2v1h-2zM237 111h1v1h-1zM219 112h2v1h-2zM225 112h1v1h-1zM231 112h1v1h-1zM233 112h1v1h-1zM238 112h1v1h-1zM214 113h1v1h-1zM217 113h1v1h-1zM227 113h1v1h-1zM230 113h2v1h-2zM234 113h1v1h-1zM239 113h1v1h-1z"/><path fill="#939393" d="M261 65h1v1h-1zM248 67h1v1h-1zM255 68h1v1h-1zM266 69h1v1h-1zM248 70h1v1h-1zM254 70h1v1h-1zM250 71h1v1h-1zM263 71h1v1h-1zM248 73h1v1h-1zM262 73h1v1h-1zM247 74h1v1h-1zM255 74h1v1h-1zM258 74h1v1h-1zM266 74h1v1h-1zM244 75h1v1h-1zM248 75h1v1h-1zM235 76h1v1h-1zM251 76h1v1h-1zM256 76h1v1h-1zM259 76h1v1h-1zM240 77h1v1h-1zM245 77h1v1h-1zM248 77h1v1h-1zM251 77h1v1h-1zM253 77h1v1h-1zM264 77h1v1h-1zM239 78h1v1h-1zM241 78h1v1h-1zM243 78h1v1h-1zM246 78h1v1h-1zM250 78h1v1h-1zM256 78h1v1h-1zM258 78h1v1h-1zM220 79h1v1h-1zM231 79h1v1h-1zM242 79h1v1h-1zM247 79h1v1h-1zM251 79h1v1h-1zM253 79h1v1h-1zM255 79h1v1h-1zM239 80h2v1h-2zM247 80h1v1h-1zM214 81h1v1h-1zM232 81h1v1h-1zM234 81h1v1h-1zM245 81h1v1h-1zM248 81h1v1h-1zM222 82h2v1h-2zM228 82h1v1h-1zM230 82h1v1h-1zM235 82h1v1h-1zM241 82h1v1h-1zM246 82h1v1h-1zM255 82h1v1h-1zM217 83h1v1h-1zM220 83h1v1h-1zM225 83h1v1h-1zM229 83h1v1h-1zM232 83h1v1h-1zM236 83h1v1h-1zM238 83h2v1h-2zM242 83h1v1h-1zM244 83h1v1h-1zM247 83h3v1h-3zM254 83h1v1h-1zM257 83h1v1h-1zM230 84h1v1h-1zM232 84h1v1h-1zM234 84h1v1h-1zM237 84h1v1h-1zM239 84h1v1h-1zM241 84h1v1h-1zM246 84h1v1h-1zM249 84h1v1h-1zM252 84h1v1h-1zM254 84h1v1h-1zM223 85h1v1h-1zM227 85h1v1h-1zM235 85h2v1h-2zM238 85h2v1h-2zM243 85h1v1h-1zM248 85h1v1h-1zM261 85h2v1h-2zM225 86h1v1h-1zM231 86h2v1h-2zM236 86h1v1h-1zM241 86h1v1h-1zM246 86h1v1h-1zM249 86h1v1h-1zM252 86h1v1h-1zM226 87h1v1h-1zM229 87h1v1h-1zM235 87h1v1h-1zM241 87h1v1h-1zM257 87h1v1h-1zM228 88h1v1h-1zM234 88h1v1h-1zM239 88h1v1h-1zM225 89h1v1h-1zM237 89h1v1h-1zM219 90h1v1h-1zM239 90h1v1h-1zM247 90h1v1h-1zM252 90h1v1h-1zM214 91h1v1h-1zM240 91h1v1h-1zM216 92h1v1h-1zM243 92h1v1h-1zM245 92h2v1h-2zM214 93h2v1h-2zM241 93h4v1h-4zM248 93h1v1h-1zM251 93h1v1h-1zM214 94h1v1h-1zM241 94h1v1h-1zM245 94h1v1h-1zM248 94h1v1h-1zM217 95h1v1h-1zM241 95h1v1h-1zM251 95h2v1h-2zM214 96h1v1h-1zM242 96h1v1h-1zM215 97h1v1h-1zM217 97h1v1h-1zM238 97h2v1h-2zM239 99h1v1h-1zM214 100h1v1h-1zM240 100h1v1h-1zM243 100h1v1h-1zM245 100h1v1h-1zM217 101h1v1h-1zM247 101h1v1h-1zM235 102h1v1h-1zM238 102h1v1h-1zM249 102h1v1h-1zM234 103h1v1h-1zM237 103h1v1h-1zM239 103h1v1h-1zM244 103h1v1h-1zM214 104h2v1h-2zM242 104h1v1h-1zM214 105h1v1h-1zM250 105h1v1h-1zM236 106h1v1h-1zM239 106h1v1h-1zM241 106h1v1h-1zM246 106h1v1h-1zM232 107h1v1h-1zM235 107h1v1h-1zM238 107h1v1h-1zM229 108h1v1h-1zM232 108h1v1h-1zM235 108h1v1h-1zM237 108h1v1h-1zM242 108h1v1h-1zM216 109h1v1h-1zM218 109h1v1h-1zM228 109h1v1h-1zM235 109h1v1h-1zM214 110h2v1h-2zM218 110h2v1h-2zM229 110h1v1h-1zM233 110h1v1h-1zM237 110h1v1h-1zM216 111h1v1h-1zM222 111h2v1h-2zM231 111h1v1h-1zM238 111h1v1h-1zM223 112h1v1h-1zM230 112h1v1h-1zM240 112h1v1h-1zM218 113h2v1h-2zM223 113h1v1h-1zM226 113h1v1h-1zM228 113h1v1h-1zM233 113h1v1h-1z"/><path fill="#bbbbbb" d="M266 39h1v1h-1zM263 44h1v1h-1zM255 45h1v1h-1zM266 45h1v1h-1zM248 49h1v1h-1zM266 49h1v1h-1zM271 50h1v1h-1zM263 51h1v1h-1zM253 52h1v1h-1zM261 52h1v1h-1zM281 53h1v1h-1zM262 54h1v1h-1zM277 54h1v1h-1zM253 56h1v1h-1zM257 56h1v1h-1zM261 56h1v1h-1zM268 57h1v1h-1zM247 59h1v1h-1zM258 59h1v1h-1zM253 60h2v1h-2zM265 60h1v1h-1zM267 60h1v1h-1zM270 60h1v1h-1zM246 61h1v1h-1zM265 61h1v1h-1zM275 61h1v1h-1zM248 62h1v1h-1zM250 62h1v1h-1zM256 62h1v1h-1zM259 62h1v1h-1zM267 62h1v1h-1zM249 63h1v1h-1zM252 63h1v1h-1zM256 63h1v1h-1zM258 63h1v1h-1zM263 63h1v1h-1zM266 63h1v1h-1zM269 63h2v1h-2zM275 63h1v1h-1zM277 63h1v1h-1zM222 64h1v1h-1zM248 64h1v1h-1zM256 64h1v1h-1zM252 65h1v1h-1zM255 65h2v1h-2zM258 65h2v1h-2zM266 65h1v1h-1zM275 65h1v1h-1zM278 65h1v1h-1zM218 66h1v1h-1zM246 66h1v1h-1zM262 66h1v1h-1zM264 66h1v1h-1zM250 67h1v1h-1zM256 67h1v1h-1zM259 67h1v1h-1zM264 67h1v1h-1zM275 67h1v1h-1zM283 67h1v1h-1zM228 68h1v1h-1zM247 68h1v1h-1zM249 68h1v1h-1zM263 68h1v1h-1zM218 69h1v1h-1zM232 69h1v1h-1zM249 69h1v1h-1zM251 69h1v1h-1zM256 69h1v1h-1zM258 69h2v1h-2zM261 69h1v1h-1zM268 69h1v1h-1zM275 69h1v1h-1zM223 70h1v1h-1zM237 70h1v1h-1zM243 70h1v1h-1zM245 70h1v1h-1zM250 70h1v1h-1zM252 70h2v1h-2zM258 70h1v1h-1zM262 70h1v1h-1zM268 70h1v1h-1zM224 71h1v1h-1zM244 71h2v1h-2zM251 71h1v1h-1zM253 71h1v1h-1zM260 71h3v1h-3zM266 71h1v1h-1zM270 71h1v1h-1zM242 72h1v1h-1zM257 72h3v1h-3zM261 72h1v1h-1zM265 72h1v1h-1zM220 73h1v1h-1zM232 73h1v1h-1zM234 73h1v1h-1zM238 73h1v1h-1zM242 73h1v1h-1zM244 73h1v1h-1zM249 73h6v1h-6zM256 73h1v1h-1zM258 73h4v1h-4zM264 73h1v1h-1zM268 73h1v1h-1zM270 73h1v1h-1zM238 74h2v1h-2zM241 74h1v1h-1zM244 74h1v1h-1zM246 74h1v1h-1zM250 74h1v1h-1zM254 74h1v1h-1zM257 74h1v1h-1zM260 74h4v1h-4zM268 74h1v1h-1zM217 75h1v1h-1zM222 75h2v1h-2zM239 75h1v1h-1zM243 75h1v1h-1zM249 75h1v1h-1zM254 75h1v1h-1zM259 75h1v1h-1zM262 75h1v1h-1zM265 75h2v1h-2zM270 75h1v1h-1zM226 76h1v1h-1zM229 76h1v1h-1zM231 76h1v1h-1zM240 76h1v1h-1zM242 76h4v1h-4zM249 76h1v1h-1zM252 76h2v1h-2zM260 76h1v1h-1zM263 76h1v1h-1zM266 76h2v1h-2zM221 77h1v1h-1zM223 77h1v1h-1zM226 77h1v1h-1zM231 77h2v1h-2zM234 77h1v1h-1zM236 77h1v1h-1zM242 77h1v1h-1zM246 77h1v1h-1zM250 77h1v1h-1zM256 77h1v1h-1zM259 77h2v1h-2zM262 77h1v1h-1zM266 77h1v1h-1zM269 77h1v1h-1zM277 77h1v1h-1zM232 78h3v1h-3zM236 78h1v1h-1zM244 78h1v1h-1zM247 78h1v1h-1zM249 78h1v1h-1zM254 78h2v1h-2zM257 78h1v1h-1zM259 78h1v1h-1zM262 78h2v1h-2zM230 79h1v1h-1zM237 79h1v1h-1zM239 79h1v1h-1zM241 79h1v1h-1zM243 79h1v1h-1zM245 79h1v1h-1zM249 79h1v1h-1zM257 79h4v1h-4zM262 79h1v1h-1zM267 79h1v1h-1zM224 80h1v1h-1zM227 80h3v1h-3zM234 80h2v1h-2zM242 80h2v1h-2zM245 80h1v1h-1zM250 80h1v1h-1zM253 80h1v1h-1zM258 80h1v1h-1zM260 80h1v1h-1zM262 80h4v1h-4zM268 80h1v1h-1zM215 81h1v1h-1zM219 81h1v1h-1zM227 81h1v1h-1zM231 81h1v1h-1zM233 81h1v1h-1zM236 81h3v1h-3zM240 81h1v1h-1zM242 81h2v1h-2zM247 81h1v1h-1zM249 81h1v1h-1zM254 81h1v1h-1zM263 81h1v1h-1zM269 81h1v1h-1zM216 82h1v1h-1zM218 82h1v1h-1zM220 82h2v1h-2zM224 82h3v1h-3zM233 82h1v1h-1zM239 82h1v1h-1zM251 82h1v1h-1zM256 82h1v1h-1zM259 82h1v1h-1zM261 82h1v1h-1zM267 82h1v1h-1zM216 83h1v1h-1zM218 83h1v1h-1zM224 83h1v1h-1zM226 83h2v1h-2zM230 83h1v1h-1zM235 83h1v1h-1zM237 83h1v1h-1zM241 83h1v1h-1zM245 83h2v1h-2zM258 83h1v1h-1zM261 83h4v1h-4zM216 84h2v1h-2zM224 84h1v1h-1zM226 84h1v1h-1zM228 84h2v1h-2zM248 84h1v1h-1zM261 84h1v1h-1zM275 84h1v1h-1zM215 85h2v1h-2zM218 85h1v1h-1zM220 85h1v1h-1zM222 85h1v1h-1zM224 85h3v1h-3zM244 85h1v1h-1zM249 85h1v1h-1zM253 85h3v1h-3zM258 85h2v1h-2zM270 85h1v1h-1zM214 86h2v1h-2zM219 86h2v1h-2zM223 86h1v1h-1zM228 86h1v1h-1zM233 86h1v1h-1zM242 86h1v1h-1zM244 86h2v1h-2zM247 86h2v1h-2zM254 86h1v1h-1zM261 86h1v1h-1zM266 86h1v1h-1zM215 87h2v1h-2zM219 87h1v1h-1zM232 87h2v1h-2zM240 87h1v1h-1zM246 87h1v1h-1zM249 87h1v1h-1zM251 87h1v1h-1zM253 87h1v1h-1zM255 87h1v1h-1zM258 87h1v1h-1zM216 88h2v1h-2zM222 88h1v1h-1zM229 88h2v1h-2zM233 88h1v1h-1zM236 88h1v1h-1zM244 88h1v1h-1zM246 88h1v1h-1zM249 88h1v1h-1zM251 88h1v1h-1zM253 88h1v1h-1zM256 88h1v1h-1zM261 88h2v1h-2zM265 88h1v1h-1zM215 89h1v1h-1zM218 89h1v1h-1zM220 89h1v1h-1zM227 89h1v1h-1zM245 89h1v1h-1zM250 89h7v1h-7zM258 89h1v1h-1zM260 89h2v1h-2zM224 90h1v1h-1zM226 90h1v1h-1zM241 90h2v1h-2zM244 90h1v1h-1zM246 90h1v1h-1zM248 90h2v1h-2zM257 90h2v1h-2zM215 91h3v1h-3zM220 91h1v1h-1zM251 91h1v1h-1zM255 91h3v1h-3zM260 91h1v1h-1zM223 92h1v1h-1zM239 92h1v1h-1zM241 92h1v1h-1zM247 92h4v1h-4zM252 92h1v1h-1zM258 92h1v1h-1zM260 92h2v1h-2zM216 93h1v1h-1zM218 93h1v1h-1zM221 93h1v1h-1zM249 93h2v1h-2zM255 93h2v1h-2zM222 94h1v1h-1zM236 94h2v1h-2zM242 94h1v1h-1zM244 94h1v1h-1zM246 94h1v1h-1zM250 94h1v1h-1zM254 94h2v1h-2zM284 94h1v1h-1zM246 95h1v1h-1zM243 96h2v1h-2zM246 96h2v1h-2zM254 96h1v1h-1zM237 97h1v1h-1zM245 97h3v1h-3zM249 97h1v1h-1zM252 97h2v1h-2zM256 97h1v1h-1zM260 97h2v1h-2zM217 98h1v1h-1zM220 98h1v1h-1zM238 98h1v1h-1zM240 98h1v1h-1zM249 98h1v1h-1zM253 98h1v1h-1zM258 98h1v1h-1zM214 99h1v1h-1zM240 99h1v1h-1zM242 99h1v1h-1zM244 99h3v1h-3zM262 99h1v1h-1zM239 100h1v1h-1zM241 100h2v1h-2zM253 100h1v1h-1zM256 100h1v1h-1zM258 100h1v1h-1zM240 101h1v1h-1zM254 101h1v1h-1zM242 102h2v1h-2zM245 102h1v1h-1zM252 102h1v1h-1zM240 103h1v1h-1zM242 103h1v1h-1zM247 103h1v1h-1zM250 103h1v1h-1zM253 103h1v1h-1zM240 104h1v1h-1zM244 104h1v1h-1zM246 104h1v1h-1zM249 104h1v1h-1zM251 104h1v1h-1zM253 104h1v1h-1zM237 105h1v1h-1zM240 105h1v1h-1zM242 105h2v1h-2zM245 105h1v1h-1zM247 105h2v1h-2zM253 105h1v1h-1zM257 105h1v1h-1zM214 106h1v1h-1zM238 106h1v1h-1zM243 106h2v1h-2zM253 106h1v1h-1zM236 107h1v1h-1zM240 107h2v1h-2zM246 107h1v1h-1zM253 107h1v1h-1zM231 108h1v1h-1zM245 108h1v1h-1zM259 108h1v1h-1zM214 109h1v1h-1zM217 109h1v1h-1zM232 109h1v1h-1zM236 109h2v1h-2zM239 109h1v1h-1zM243 109h1v1h-1zM251 109h1v1h-1zM230 110h1v1h-1zM242 110h1v1h-1zM244 110h1v1h-1zM251 110h1v1h-1zM215 111h1v1h-1zM225 111h1v1h-1zM230 111h1v1h-1zM232 111h1v1h-1zM235 111h1v1h-1zM239 111h1v1h-1zM246 111h1v1h-1zM251 111h1v1h-1zM259 111h1v1h-1zM214 112h1v1h-1zM216 112h1v1h-1zM218 112h1v1h-1zM221 112h1v1h-1zM235 112h1v1h-1zM241 112h2v1h-2zM244 112h1v1h-1zM215 113h2v1h-2zM222 113h1v1h-1zM240 113h1v1h-1z"/></g>
<rect x="26.5" y="26.5" width="88" height="88" fill="none" stroke="#808080" stroke-width="1"/>
<line x1="58.5" y1="26.5" x2="58.5" y2="70.5" stroke="#808080" stroke-width="1"/>
<line x1="26.5" y1="70.5" x2="114.5" y2="70.5" stroke="#808080" stroke-width="1"/>
<line x1="25.3" y1="32.5" x2="26.5" y2="32.5" stroke="#555" stroke-width="0.9"/>
<line x1="25.3" y1="37.5" x2="26.5" y2="37.5" stroke="#555" stroke-width="0.9"/>
<line x1="25.3" y1="43.5" x2="26.5" y2="43.5" stroke="#555" stroke-width="0.9"/>
<line x1="24.5" y1="48.5" x2="26.5" y2="48.5" stroke="#555" stroke-width="0.9"/>
<line x1="25.3" y1="54.5" x2="26.5" y2="54.5" stroke="#555" stroke-width="0.9"/>
<line x1="25.3" y1="59.5" x2="26.5" y2="59.5" stroke="#555" stroke-width="0.9"/>
<line x1="25.3" y1="65.5" x2="26.5" y2="65.5" stroke="#555" stroke-width="0.9"/>
<line x1="24.5" y1="70.5" x2="26.5" y2="70.5" stroke="#555" stroke-width="0.9"/>
<line x1="25.3" y1="76.5" x2="26.5" y2="76.5" stroke="#555" stroke-width="0.9"/>
<line x1="25.3" y1="81.5" x2="26.5" y2="81.5" stroke="#555" stroke-width="0.9"/>
<line x1="25.3" y1="87.5" x2="26.5" y2="87.5" stroke="#555" stroke-width="0.9"/>
<line x1="24.5" y1="92.5" x2="26.5" y2="92.5" stroke="#555" stroke-width="0.9"/>
<line x1="25.3" y1="98.5" x2="26.5" y2="98.5" stroke="#555" stroke-width="0.9"/>
<line x1="25.3" y1="103.5" x2="26.5" y2="103.5" stroke="#555" stroke-width="0.9"/>
<line x1="25.3" y1="109.5" x2="26.5" y2="109.5" stroke="#555" stroke-width="0.9"/>
<line x1="33.83" y1="114.5" x2="33.83" y2="116.1" stroke="#888" stroke-width="0.8"/>
<line x1="41.17" y1="114.5" x2="41.17" y2="116.1" stroke="#888" stroke-width="0.8"/>
<line x1="48.5" y1="114.5" x2="48.5" y2="116.1" stroke="#888" stroke-width="0.8"/>
<line x1="55.83" y1="114.5" x2="55.83" y2="116.1" stroke="#888" stroke-width="0.8"/>
<line x1="63.17" y1="114.5" x2="63.17" y2="116.1" stroke="#888" stroke-width="0.8"/>
<line x1="70.5" y1="114.5" x2="70.5" y2="116.1" stroke="#888" stroke-width="0.8"/>
<line x1="77.83" y1="114.5" x2="77.83" y2="116.1" stroke="#888" stroke-width="0.8"/>
<line x1="85.17" y1="114.5" x2="85.17" y2="116.1" stroke="#888" stroke-width="0.8"/>
<line x1="92.5" y1="114.5" x2="92.5" y2="116.1" stroke="#888" stroke-width="0.8"/>
<line x1="99.83" y1="114.5" x2="99.83" y2="116.1" stroke="#888" stroke-width="0.8"/>
<line x1="107.17" y1="114.5" x2="107.17" y2="116.1" stroke="#888" stroke-width="0.8"/>
<rect x="119.5" y="26.5" width="89" height="88" fill="none" stroke="#808080" stroke-width="1"/>
<line x1="153.5" y1="26.5" x2="153.5" y2="70.5" stroke="#808080" stroke-width="1"/>
<line x1="119.5" y1="70.5" x2="208.5" y2="70.5" stroke="#808080" stroke-width="1"/>
<line x1="118.3" y1="32.5" x2="119.5" y2="32.5" stroke="#555" stroke-width="0.9"/>
<line x1="118.3" y1="37.5" x2="119.5" y2="37.5" stroke="#555" stroke-width="0.9"/>
<line x1="118.3" y1="43.5" x2="119.5" y2="43.5" stroke="#555" stroke-width="0.9"/>
<line x1="117.5" y1="48.5" x2="119.5" y2="48.5" stroke="#555" stroke-width="0.9"/>
<line x1="118.3" y1="54.5" x2="119.5" y2="54.5" stroke="#555" stroke-width="0.9"/>
<line x1="118.3" y1="59.5" x2="119.5" y2="59.5" stroke="#555" stroke-width="0.9"/>
<line x1="118.3" y1="65.5" x2="119.5" y2="65.5" stroke="#555" stroke-width="0.9"/>
<line x1="117.5" y1="70.5" x2="119.5" y2="70.5" stroke="#555" stroke-width="0.9"/>
<line x1="118.3" y1="76.5" x2="119.5" y2="76.5" stroke="#555" stroke-width="0.9"/>
<line x1="118.3" y1="81.5" x2="119.5" y2="81.5" stroke="#555" stroke-width="0.9"/>
<line x1="118.3" y1="87.5" x2="119.5" y2="87.5" stroke="#555" stroke-width="0.9"/>
<line x1="117.5" y1="92.5" x2="119.5" y2="92.5" stroke="#555" stroke-width="0.9"/>
<line x1="118.3" y1="98.5" x2="119.5" y2="98.5" stroke="#555" stroke-width="0.9"/>
<line x1="118.3" y1="103.5" x2="119.5" y2="103.5" stroke="#555" stroke-width="0.9"/>
<line x1="118.3" y1="109.5" x2="119.5" y2="109.5" stroke="#555" stroke-width="0.9"/>
<line x1="126.92" y1="114.5" x2="126.92" y2="116.1" stroke="#888" stroke-width="0.8"/>
<line x1="134.33" y1="114.5" x2="134.33" y2="116.1" stroke="#888" stroke-width="0.8"/>
<line x1="141.75" y1="114.5" x2="141.75" y2="116.1" stroke="#888" stroke-width="0.8"/>
<line x1="149.17" y1="114.5" x2="149.17" y2="116.1" stroke="#888" stroke-width="0.8"/>
<line x1="156.58" y1="114.5" x2="156.58" y2="116.1" stroke="#888" stroke-width="0.8"/>
<line x1="164" y1="114.5" x2="164" y2="116.1" stroke="#888" stroke-width="0.8"/>
<line x1="171.42" y1="114.5" x2="171.42" y2="116.1" stroke="#888" stroke-width="0.8"/>
<line x1="178.83" y1="114.5" x2="178.83" y2="116.1" stroke="#888" stroke-width="0.8"/>
<line x1="186.25" y1="114.5" x2="186.25" y2="116.1" stroke="#888" stroke-width="0.8"/>
<line x1="193.67" y1="114.5" x2="193.67" y2="116.1" stroke="#888" stroke-width="0.8"/>
<line x1="201.08" y1="114.5" x2="201.08" y2="116.1" stroke="#888" stroke-width="0.8"/>
<rect x="213.5" y="26.5" width="90" height="88" fill="none" stroke="#808080" stroke-width="1"/>
<line x1="247.5" y1="26.5" x2="247.5" y2="70.5" stroke="#808080" stroke-width="1"/>
<line x1="213.5" y1="70.5" x2="303.5" y2="70.5" stroke="#808080" stroke-width="1"/>
<line x1="212.3" y1="32.5" x2="213.5" y2="32.5" stroke="#555" stroke-width="0.9"/>
<line x1="212.3" y1="37.5" x2="213.5" y2="37.5" stroke="#555" stroke-width="0.9"/>
<line x1="212.3" y1="43.5" x2="213.5" y2="43.5" stroke="#555" stroke-width="0.9"/>
<line x1="211.5" y1="48.5" x2="213.5" y2="48.5" stroke="#555" stroke-width="0.9"/>
<line x1="212.3" y1="54.5" x2="213.5" y2="54.5" stroke="#555" stroke-width="0.9"/>
<line x1="212.3" y1="59.5" x2="213.5" y2="59.5" stroke="#555" stroke-width="0.9"/>
<line x1="212.3" y1="65.5" x2="213.5" y2="65.5" stroke="#555" stroke-width="0.9"/>
<line x1="211.5" y1="70.5" x2="213.5" y2="70.5" stroke="#555" stroke-width="0.9"/>
<line x1="212.3" y1="76.5" x2="213.5" y2="76.5" stroke="#555" stroke-width="0.9"/>
<line x1="212.3" y1="81.5" x2="213.5" y2="81.5" stroke="#555" stroke-width="0.9"/>
<line x1="212.3" y1="87.5" x2="213.5" y2="87.5" stroke="#555" stroke-width="0.9"/>
<line x1="211.5" y1="92.5" x2="213.5" y2="92.5" stroke="#555" stroke-width="0.9"/>
<line x1="212.3" y1="98.5" x2="213.5" y2="98.5" stroke="#555" stroke-width="0.9"/>
<line x1="212.3" y1="103.5" x2="213.5" y2="103.5" stroke="#555" stroke-width="0.9"/>
<line x1="212.3" y1="109.5" x2="213.5" y2="109.5" stroke="#555" stroke-width="0.9"/>
<line x1="221" y1="114.5" x2="221" y2="116.1" stroke="#888" stroke-width="0.8"/>
<line x1="228.5" y1="114.5" x2="228.5" y2="116.1" stroke="#888" stroke-width="0.8"/>
<line x1="236" y1="114.5" x2="236" y2="116.1" stroke="#888" stroke-width="0.8"/>
<line x1="243.5" y1="114.5" x2="243.5" y2="116.1" stroke="#888" stroke-width="0.8"/>
<line x1="251" y1="114.5" x2="251" y2="116.1" stroke="#888" stroke-width="0.8"/>
<line x1="258.5" y1="114.5" x2="258.5" y2="116.1" stroke="#888" stroke-width="0.8"/>
<line x1="266" y1="114.5" x2="266" y2="116.1" stroke="#888" stroke-width="0.8"/>
<line x1="273.5" y1="114.5" x2="273.5" y2="116.1" stroke="#888" stroke-width="0.8"/>
<line x1="281" y1="114.5" x2="281" y2="116.1" stroke="#888" stroke-width="0.8"/>
<line x1="288.5" y1="114.5" x2="288.5" y2="116.1" stroke="#888" stroke-width="0.8"/>
<line x1="296" y1="114.5" x2="296" y2="116.1" stroke="#888" stroke-width="0.8"/>
<line x1="18.6" y1="68" x2="18.6" y2="37" stroke="#000" stroke-width="1.2"/>
<polygon points="18.6,31.4 15.5,38 21.7,38" fill="#000"/>
<line x1="61.2" y1="125.5" x2="130.3" y2="125.5" stroke="#000" stroke-width="1.1"/>
<polygon points="135.8,125.5 129.3,122.7 129.3,128.3" fill="#000"/>
<line x1="355.2" y1="9.5" x2="355.2" y2="111" stroke="#000" stroke-width="1.6"/>
<line x1="350.8" y1="110.2" x2="355.2" y2="110.2" stroke="#000" stroke-width="1.4"/>
<line x1="350.8" y1="90.2" x2="355.2" y2="90.2" stroke="#000" stroke-width="1.4"/>
<line x1="350.8" y1="70.2" x2="355.2" y2="70.2" stroke="#000" stroke-width="1.4"/>
<line x1="350.8" y1="50.2" x2="355.2" y2="50.2" stroke="#000" stroke-width="1.4"/>
<line x1="350.8" y1="30.2" x2="355.2" y2="30.2" stroke="#000" stroke-width="1.4"/>
<line x1="350.8" y1="10.2" x2="355.2" y2="10.2" stroke="#000" stroke-width="1.4"/>
<line x1="354.4" y1="110.2" x2="507" y2="110.2" stroke="#000" stroke-width="1.6"/>
<rect x="355.8" y="74.3" width="13.9" height="35.9" fill="#000"/>
<line x1="362.75" y1="110.2" x2="362.75" y2="113" stroke="#000" stroke-width="1.2"/>
<rect x="373" y="80.3" width="13.5" height="29.9" fill="#000"/>
<line x1="379.75" y1="110.2" x2="379.75" y2="113" stroke="#000" stroke-width="1.2"/>
<rect x="401" y="59.5" width="14" height="50.7" fill="#000"/>
<line x1="408" y1="59.5" x2="408" y2="49.6" stroke="#000" stroke-width="1.4"/>
<line x1="404.8" y1="49.6" x2="411.2" y2="49.6" stroke="#000" stroke-width="1.6"/>
<line x1="408" y1="110.2" x2="408" y2="113" stroke="#000" stroke-width="1.2"/>
<rect x="418" y="68" width="13.6" height="42.2" fill="#000"/>
<line x1="424.8" y1="68" x2="424.8" y2="60.5" stroke="#000" stroke-width="1.4"/>
<line x1="421.6" y1="60.5" x2="428" y2="60.5" stroke="#000" stroke-width="1.6"/>
<line x1="424.8" y1="110.2" x2="424.8" y2="113" stroke="#000" stroke-width="1.2"/>
<rect x="446" y="31.2" width="14" height="79" fill="#000"/>
<line x1="453" y1="31.2" x2="453" y2="16.6" stroke="#000" stroke-width="1.4"/>
<line x1="449.8" y1="16.6" x2="456.2" y2="16.6" stroke="#000" stroke-width="1.6"/>
<line x1="453" y1="110.2" x2="453" y2="113" stroke="#000" stroke-width="1.2"/>
<rect x="462.8" y="95.8" width="14.1" height="14.4" fill="#000"/>
<line x1="469.85" y1="110.2" x2="469.85" y2="113" stroke="#000" stroke-width="1.2"/>
<rect x="491" y="88.2" width="14" height="22" fill="#000"/>
<line x1="498" y1="110.2" x2="498" y2="113" stroke="#000" stroke-width="1.2"/>
<line x1="352" y1="129.2" x2="390" y2="129.2" stroke="#000" stroke-width="1.1"/>
<line x1="397.3" y1="129.2" x2="435.3" y2="129.2" stroke="#000" stroke-width="1.1"/>
<line x1="442.6" y1="129.2" x2="480.6" y2="129.2" stroke="#000" stroke-width="1.1"/>
<line x1="488.8" y1="129.2" x2="506" y2="129.2" stroke="#000" stroke-width="1.1"/>
<polyline points="25.5,252.3 26.9,247.45 28.3,246.2 29.6,247.73 30.9,253.1 32.2,251.93 33.5,248 34.35,246.54 35.2,249.7 36.5,248.01 37.8,243.6 39.1,240.41 40.4,241.9 41.3,241.39 42.2,237.6 43.05,237.66 43.9,234.1 44.75,230.17 45.6,229.3 46.8,235.8 48.2,233.2 49.1,238.47 50,241 51.25,240.3 52.5,243.6 53.8,245.86 55.1,244.5 56.4,248.96 57.7,249.7 58.6,249.48 59.5,244.5 60.35,242.19 61.2,243.6 62.05,243.12 62.9,246.2 63.8,245.51 64.7,241 65.55,243.87 66.4,249.7 67.25,248.04 68.1,241.9 68.95,245 69.8,245.4 70.7,244.73 71.6,241 72.9,241 74.2,243.6 75.5,244.02 76.8,241 78.1,241.08 79.4,238.4 80.7,238.54 82,235.8 82.85,239.38 83.7,238.4 84.55,242.69 85.4,244.5 86.7,240.91 88,240.2 88.85,236.69 89.7,236.7 91,236.56 92.3,241 93.6,243.91 94.9,243.6 96.2,246.12 97.5,246.2 98.8,242.95 100.1,244.5 101,240.6 101.9,240.2 102.75,245.37 103.6,248 104.45,248.34 105.3,246.2 106.15,245.59 107,248.8 108.3,249.52 109.6,247.1 110.5,249.71 111.4,249.7" fill="none" stroke="#000" stroke-width="1.05" stroke-linejoin="miter"/>
<polyline points="117.8,239.3 118.6,246 119.45,251.89 120.3,253.1 121.2,249.97 122.1,249.7 122.95,246.78 123.8,247.1 125.1,245.17 126.4,246.2 127.7,246.24 129,243.6 130.3,246.33 131.6,244.5 132.45,244.15 133.3,246.2 134.2,238.4 135,235.8 135.9,241 136.8,233.2 138.1,235.8 139.4,233.2 140.6,241 142,248 142.85,246.35 143.7,241 144.55,242.09 145.4,246.2 146.7,244.5 148,246.2 148.85,245.34 149.7,248 150.6,246.94 151.5,250.5 152.35,247.82 153.2,248 154.05,246.85 154.9,249.7 156.2,251.56 157.5,248.8 158.4,252.81 159.3,252.3 160.15,247.83 161,248 162.3,245.12 163.6,246.2 164.9,243.66 166.2,244.5 167.05,245.11 167.9,242.8 168.75,245.19 169.6,243.6 170.5,244.43 171.4,241 172.25,241.96 173.1,240.2 173.95,238.93 174.8,241.9 175.7,243.38 176.6,240.2 177.45,240.14 178.3,242.8 179.15,239.8 180,240.2 180.85,244.39 181.7,245.4 182.6,246.24 183.5,242.8 184.35,243.95 185.2,249.7 186.05,245.18 186.9,244.5 187.8,247.4 188.7,246.2 190,249.82 191.3,249.7 192.6,251.99 193.9,249.7 195.15,251.17 196.4,249.7 197.3,246.51 198.2,248 199.05,250.62 199.9,249.7 200.75,251.01 201.6,248 202.5,241 203.5,250" fill="none" stroke="#000" stroke-width="1.05" stroke-linejoin="miter"/>
<polyline points="211.2,239.3 212.25,244.13 213.3,244.5 214.15,243.22 215,237.6 216.3,246.2 217.7,241 219,246.2 220.4,240.2 222,242.8 223.2,235 224.6,239.3 225.4,231.5 226.3,230.64 227.2,227.2 228.4,230.7 229.8,235 230.6,232.4 231.8,239.3 233.2,232.4 234.1,227.2 235.3,238.4 236.7,235 238.1,229.8 239.3,237.6 240.15,236.56 241,240.2 241.85,243.1 242.7,243.6 243.6,244.59 244.5,241 245.35,238.61 246.2,239.3 247.05,238.43 247.9,233.2 248.8,236.23 249.7,235.8 250.55,235.37 251.4,239.3 252.25,240.67 253.1,238.4 253.95,238.81 254.8,241.9 256.1,237.6 257.4,241 258.3,241.1 259.2,237.6 260.05,239.95 260.9,239.3 261.75,235.17 262.6,235.8 263.5,236.35 264.4,233.2 265.25,233.41 266.1,238.4 266.95,240.09 267.8,239.3 268.7,243.81 269.6,243.6 270.45,243.64 271.3,241 272.15,241.16 273,237.6 274.4,244.5 275.6,241.9 276.45,240.68 277.3,243.6 278.2,245.06 279.1,242.8 279.95,245.76 280.8,246.2 281.65,243.77 282.5,244.5 283.7,249.7 285.1,248 286,250.14 286.9,249.7 287.75,248.56 288.6,251.4 289.45,253 290.3,253.1 291.15,250.48 292,251.4 292.9,253 293.8,253.1 295.2,239.3" fill="none" stroke="#000" stroke-width="1.05" stroke-linejoin="miter"/>
<line x1="66.4" y1="249" x2="66.4" y2="254" stroke="#000" stroke-width="1"/>
<rect x="25.5" y="186.5" width="87" height="68" fill="none" stroke="#111" stroke-width="1"/>
<line x1="23.9" y1="189.5" x2="25.5" y2="189.5" stroke="#000" stroke-width="0.8"/>
<line x1="23.9" y1="192.5" x2="25.5" y2="192.5" stroke="#000" stroke-width="0.8"/>
<line x1="23.9" y1="195.5" x2="25.5" y2="195.5" stroke="#000" stroke-width="0.8"/>
<line x1="23" y1="197.5" x2="25.5" y2="197.5" stroke="#000" stroke-width="0.8"/>
<line x1="23.9" y1="200.5" x2="25.5" y2="200.5" stroke="#000" stroke-width="0.8"/>
<line x1="23.9" y1="203.5" x2="25.5" y2="203.5" stroke="#000" stroke-width="0.8"/>
<line x1="23.9" y1="206.5" x2="25.5" y2="206.5" stroke="#000" stroke-width="0.8"/>
<line x1="23" y1="209.5" x2="25.5" y2="209.5" stroke="#000" stroke-width="0.8"/>
<line x1="23.9" y1="211.5" x2="25.5" y2="211.5" stroke="#000" stroke-width="0.8"/>
<line x1="23.9" y1="214.5" x2="25.5" y2="214.5" stroke="#000" stroke-width="0.8"/>
<line x1="23.9" y1="217.5" x2="25.5" y2="217.5" stroke="#000" stroke-width="0.8"/>
<line x1="23" y1="220.5" x2="25.5" y2="220.5" stroke="#000" stroke-width="0.8"/>
<line x1="23.9" y1="223.5" x2="25.5" y2="223.5" stroke="#000" stroke-width="0.8"/>
<line x1="23.9" y1="225.5" x2="25.5" y2="225.5" stroke="#000" stroke-width="0.8"/>
<line x1="23.9" y1="228.5" x2="25.5" y2="228.5" stroke="#000" stroke-width="0.8"/>
<line x1="23" y1="231.5" x2="25.5" y2="231.5" stroke="#000" stroke-width="0.8"/>
<line x1="23.9" y1="234.5" x2="25.5" y2="234.5" stroke="#000" stroke-width="0.8"/>
<line x1="23.9" y1="237.5" x2="25.5" y2="237.5" stroke="#000" stroke-width="0.8"/>
<line x1="23.9" y1="239.5" x2="25.5" y2="239.5" stroke="#000" stroke-width="0.8"/>
<line x1="23" y1="242.5" x2="25.5" y2="242.5" stroke="#000" stroke-width="0.8"/>
<line x1="23.9" y1="245.5" x2="25.5" y2="245.5" stroke="#000" stroke-width="0.8"/>
<line x1="23.9" y1="248.5" x2="25.5" y2="248.5" stroke="#000" stroke-width="0.8"/>
<line x1="23.9" y1="251.5" x2="25.5" y2="251.5" stroke="#000" stroke-width="0.8"/>
<line x1="28.5" y1="254.5" x2="28.5" y2="256.2" stroke="#000" stroke-width="0.8"/>
<line x1="31.5" y1="254.5" x2="31.5" y2="256.2" stroke="#000" stroke-width="0.8"/>
<line x1="35.5" y1="254.5" x2="35.5" y2="256.2" stroke="#000" stroke-width="0.8"/>
<line x1="38.5" y1="254.5" x2="38.5" y2="256.2" stroke="#000" stroke-width="0.8"/>
<line x1="41.5" y1="254.5" x2="41.5" y2="257.1" stroke="#000" stroke-width="0.8"/>
<line x1="45.5" y1="254.5" x2="45.5" y2="256.2" stroke="#000" stroke-width="0.8"/>
<line x1="48.5" y1="254.5" x2="48.5" y2="256.2" stroke="#000" stroke-width="0.8"/>
<line x1="51.5" y1="254.5" x2="51.5" y2="256.2" stroke="#000" stroke-width="0.8"/>
<line x1="55.5" y1="254.5" x2="55.5" y2="256.2" stroke="#000" stroke-width="0.8"/>
<line x1="58.5" y1="254.5" x2="58.5" y2="257.1" stroke="#000" stroke-width="0.8"/>
<line x1="62.5" y1="254.5" x2="62.5" y2="256.2" stroke="#000" stroke-width="0.8"/>
<line x1="65.5" y1="254.5" x2="65.5" y2="256.2" stroke="#000" stroke-width="0.8"/>
<line x1="68.5" y1="254.5" x2="68.5" y2="256.2" stroke="#000" stroke-width="0.8"/>
<line x1="72.5" y1="254.5" x2="72.5" y2="256.2" stroke="#000" stroke-width="0.8"/>
<line x1="75.5" y1="254.5" x2="75.5" y2="257.1" stroke="#000" stroke-width="0.8"/>
<line x1="78.5" y1="254.5" x2="78.5" y2="256.2" stroke="#000" stroke-width="0.8"/>
<line x1="82.5" y1="254.5" x2="82.5" y2="256.2" stroke="#000" stroke-width="0.8"/>
<line x1="85.5" y1="254.5" x2="85.5" y2="256.2" stroke="#000" stroke-width="0.8"/>
<line x1="88.5" y1="254.5" x2="88.5" y2="256.2" stroke="#000" stroke-width="0.8"/>
<line x1="92.5" y1="254.5" x2="92.5" y2="257.1" stroke="#000" stroke-width="0.8"/>
<line x1="95.5" y1="254.5" x2="95.5" y2="256.2" stroke="#000" stroke-width="0.8"/>
<line x1="98.5" y1="254.5" x2="98.5" y2="256.2" stroke="#000" stroke-width="0.8"/>
<line x1="102.5" y1="254.5" x2="102.5" y2="256.2" stroke="#000" stroke-width="0.8"/>
<line x1="105.5" y1="254.5" x2="105.5" y2="256.2" stroke="#000" stroke-width="0.8"/>
<line x1="108.5" y1="254.5" x2="108.5" y2="257.1" stroke="#000" stroke-width="0.8"/>
<line x1="25.5" y1="218.5" x2="62.5" y2="218.5" stroke="#111" stroke-width="1.1"/>
<line x1="62.5" y1="206.5" x2="62.5" y2="224.9" stroke="#111" stroke-width="1.1"/>
<line x1="62.5" y1="212.5" x2="90.5" y2="212.5" stroke="#111" stroke-width="1.1"/>
<line x1="90.5" y1="194.7" x2="90.5" y2="219.3" stroke="#111" stroke-width="1.1"/>
<line x1="90.5" y1="203.5" x2="112.5" y2="203.5" stroke="#111" stroke-width="1.1"/>
<rect x="117.5" y="186.5" width="87" height="68" fill="none" stroke="#111" stroke-width="1"/>
<line x1="115.9" y1="189.5" x2="117.5" y2="189.5" stroke="#000" stroke-width="0.8"/>
<line x1="115.9" y1="192.5" x2="117.5" y2="192.5" stroke="#000" stroke-width="0.8"/>
<line x1="115.9" y1="195.5" x2="117.5" y2="195.5" stroke="#000" stroke-width="0.8"/>
<line x1="115" y1="197.5" x2="117.5" y2="197.5" stroke="#000" stroke-width="0.8"/>
<line x1="115.9" y1="200.5" x2="117.5" y2="200.5" stroke="#000" stroke-width="0.8"/>
<line x1="115.9" y1="203.5" x2="117.5" y2="203.5" stroke="#000" stroke-width="0.8"/>
<line x1="115.9" y1="206.5" x2="117.5" y2="206.5" stroke="#000" stroke-width="0.8"/>
<line x1="115" y1="209.5" x2="117.5" y2="209.5" stroke="#000" stroke-width="0.8"/>
<line x1="115.9" y1="211.5" x2="117.5" y2="211.5" stroke="#000" stroke-width="0.8"/>
<line x1="115.9" y1="214.5" x2="117.5" y2="214.5" stroke="#000" stroke-width="0.8"/>
<line x1="115.9" y1="217.5" x2="117.5" y2="217.5" stroke="#000" stroke-width="0.8"/>
<line x1="115" y1="220.5" x2="117.5" y2="220.5" stroke="#000" stroke-width="0.8"/>
<line x1="115.9" y1="223.5" x2="117.5" y2="223.5" stroke="#000" stroke-width="0.8"/>
<line x1="115.9" y1="225.5" x2="117.5" y2="225.5" stroke="#000" stroke-width="0.8"/>
<line x1="115.9" y1="228.5" x2="117.5" y2="228.5" stroke="#000" stroke-width="0.8"/>
<line x1="115" y1="231.5" x2="117.5" y2="231.5" stroke="#000" stroke-width="0.8"/>
<line x1="115.9" y1="234.5" x2="117.5" y2="234.5" stroke="#000" stroke-width="0.8"/>
<line x1="115.9" y1="237.5" x2="117.5" y2="237.5" stroke="#000" stroke-width="0.8"/>
<line x1="115.9" y1="239.5" x2="117.5" y2="239.5" stroke="#000" stroke-width="0.8"/>
<line x1="115" y1="242.5" x2="117.5" y2="242.5" stroke="#000" stroke-width="0.8"/>
<line x1="115.9" y1="245.5" x2="117.5" y2="245.5" stroke="#000" stroke-width="0.8"/>
<line x1="115.9" y1="248.5" x2="117.5" y2="248.5" stroke="#000" stroke-width="0.8"/>
<line x1="115.9" y1="251.5" x2="117.5" y2="251.5" stroke="#000" stroke-width="0.8"/>
<line x1="120.5" y1="254.5" x2="120.5" y2="256.2" stroke="#000" stroke-width="0.8"/>
<line x1="123.5" y1="254.5" x2="123.5" y2="256.2" stroke="#000" stroke-width="0.8"/>
<line x1="127.5" y1="254.5" x2="127.5" y2="256.2" stroke="#000" stroke-width="0.8"/>
<line x1="130.5" y1="254.5" x2="130.5" y2="256.2" stroke="#000" stroke-width="0.8"/>
<line x1="134.5" y1="254.5" x2="134.5" y2="257.1" stroke="#000" stroke-width="0.8"/>
<line x1="137.5" y1="254.5" x2="137.5" y2="256.2" stroke="#000" stroke-width="0.8"/>
<line x1="140.5" y1="254.5" x2="140.5" y2="256.2" stroke="#000" stroke-width="0.8"/>
<line x1="144.5" y1="254.5" x2="144.5" y2="256.2" stroke="#000" stroke-width="0.8"/>
<line x1="147.5" y1="254.5" x2="147.5" y2="256.2" stroke="#000" stroke-width="0.8"/>
<line x1="150.5" y1="254.5" x2="150.5" y2="257.1" stroke="#000" stroke-width="0.8"/>
<line x1="154.5" y1="254.5" x2="154.5" y2="256.2" stroke="#000" stroke-width="0.8"/>
<line x1="157.5" y1="254.5" x2="157.5" y2="256.2" stroke="#000" stroke-width="0.8"/>
<line x1="160.5" y1="254.5" x2="160.5" y2="256.2" stroke="#000" stroke-width="0.8"/>
<line x1="164.5" y1="254.5" x2="164.5" y2="256.2" stroke="#000" stroke-width="0.8"/>
<line x1="167.5" y1="254.5" x2="167.5" y2="257.1" stroke="#000" stroke-width="0.8"/>
<line x1="170.5" y1="254.5" x2="170.5" y2="256.2" stroke="#000" stroke-width="0.8"/>
<line x1="174.5" y1="254.5" x2="174.5" y2="256.2" stroke="#000" stroke-width="0.8"/>
<line x1="177.5" y1="254.5" x2="177.5" y2="256.2" stroke="#000" stroke-width="0.8"/>
<line x1="180.5" y1="254.5" x2="180.5" y2="256.2" stroke="#000" stroke-width="0.8"/>
<line x1="184.5" y1="254.5" x2="184.5" y2="257.1" stroke="#000" stroke-width="0.8"/>
<line x1="187.5" y1="254.5" x2="187.5" y2="256.2" stroke="#000" stroke-width="0.8"/>
<line x1="190.5" y1="254.5" x2="190.5" y2="256.2" stroke="#000" stroke-width="0.8"/>
<line x1="194.5" y1="254.5" x2="194.5" y2="256.2" stroke="#000" stroke-width="0.8"/>
<line x1="197.5" y1="254.5" x2="197.5" y2="256.2" stroke="#000" stroke-width="0.8"/>
<line x1="200.5" y1="254.5" x2="200.5" y2="257.1" stroke="#000" stroke-width="0.8"/>
<line x1="117.5" y1="217.5" x2="154.5" y2="217.5" stroke="#111" stroke-width="1.1"/>
<line x1="154.5" y1="205.5" x2="154.5" y2="223.9" stroke="#111" stroke-width="1.1"/>
<line x1="154.5" y1="212.5" x2="182.5" y2="212.5" stroke="#111" stroke-width="1.1"/>
<line x1="182.5" y1="194.7" x2="182.5" y2="219.3" stroke="#111" stroke-width="1.1"/>
<line x1="182.5" y1="203.5" x2="204.5" y2="203.5" stroke="#111" stroke-width="1.1"/>
<rect x="210.5" y="187.5" width="86" height="67" fill="none" stroke="#111" stroke-width="1"/>
<line x1="208.9" y1="189.5" x2="210.5" y2="189.5" stroke="#000" stroke-width="0.8"/>
<line x1="208.9" y1="192.5" x2="210.5" y2="192.5" stroke="#000" stroke-width="0.8"/>
<line x1="208.9" y1="195.5" x2="210.5" y2="195.5" stroke="#000" stroke-width="0.8"/>
<line x1="208" y1="198.5" x2="210.5" y2="198.5" stroke="#000" stroke-width="0.8"/>
<line x1="208.9" y1="200.5" x2="210.5" y2="200.5" stroke="#000" stroke-width="0.8"/>
<line x1="208.9" y1="203.5" x2="210.5" y2="203.5" stroke="#000" stroke-width="0.8"/>
<line x1="208.9" y1="206.5" x2="210.5" y2="206.5" stroke="#000" stroke-width="0.8"/>
<line x1="208" y1="209.5" x2="210.5" y2="209.5" stroke="#000" stroke-width="0.8"/>
<line x1="208.9" y1="212.5" x2="210.5" y2="212.5" stroke="#000" stroke-width="0.8"/>
<line x1="208.9" y1="214.5" x2="210.5" y2="214.5" stroke="#000" stroke-width="0.8"/>
<line x1="208.9" y1="217.5" x2="210.5" y2="217.5" stroke="#000" stroke-width="0.8"/>
<line x1="208" y1="220.5" x2="210.5" y2="220.5" stroke="#000" stroke-width="0.8"/>
<line x1="208.9" y1="223.5" x2="210.5" y2="223.5" stroke="#000" stroke-width="0.8"/>
<line x1="208.9" y1="226.5" x2="210.5" y2="226.5" stroke="#000" stroke-width="0.8"/>
<line x1="208.9" y1="228.5" x2="210.5" y2="228.5" stroke="#000" stroke-width="0.8"/>
<line x1="208" y1="231.5" x2="210.5" y2="231.5" stroke="#000" stroke-width="0.8"/>
<line x1="208.9" y1="234.5" x2="210.5" y2="234.5" stroke="#000" stroke-width="0.8"/>
<line x1="208.9" y1="237.5" x2="210.5" y2="237.5" stroke="#000" stroke-width="0.8"/>
<line x1="208.9" y1="240.5" x2="210.5" y2="240.5" stroke="#000" stroke-width="0.8"/>
<line x1="208" y1="242.5" x2="210.5" y2="242.5" stroke="#000" stroke-width="0.8"/>
<line x1="208.9" y1="245.5" x2="210.5" y2="245.5" stroke="#000" stroke-width="0.8"/>
<line x1="208.9" y1="248.5" x2="210.5" y2="248.5" stroke="#000" stroke-width="0.8"/>
<line x1="208.9" y1="251.5" x2="210.5" y2="251.5" stroke="#000" stroke-width="0.8"/>
<line x1="213.5" y1="254.5" x2="213.5" y2="256.2" stroke="#000" stroke-width="0.8"/>
<line x1="217.5" y1="254.5" x2="217.5" y2="256.2" stroke="#000" stroke-width="0.8"/>
<line x1="220.5" y1="254.5" x2="220.5" y2="256.2" stroke="#000" stroke-width="0.8"/>
<line x1="223.5" y1="254.5" x2="223.5" y2="256.2" stroke="#000" stroke-width="0.8"/>
<line x1="227.5" y1="254.5" x2="227.5" y2="257.1" stroke="#000" stroke-width="0.8"/>
<line x1="230.5" y1="254.5" x2="230.5" y2="256.2" stroke="#000" stroke-width="0.8"/>
<line x1="233.5" y1="254.5" x2="233.5" y2="256.2" stroke="#000" stroke-width="0.8"/>
<line x1="236.5" y1="254.5" x2="236.5" y2="256.2" stroke="#000" stroke-width="0.8"/>
<line x1="240.5" y1="254.5" x2="240.5" y2="256.2" stroke="#000" stroke-width="0.8"/>
<line x1="243.5" y1="254.5" x2="243.5" y2="257.1" stroke="#000" stroke-width="0.8"/>
<line x1="246.5" y1="254.5" x2="246.5" y2="256.2" stroke="#000" stroke-width="0.8"/>
<line x1="250.5" y1="254.5" x2="250.5" y2="256.2" stroke="#000" stroke-width="0.8"/>
<line x1="253.5" y1="254.5" x2="253.5" y2="256.2" stroke="#000" stroke-width="0.8"/>
<line x1="256.5" y1="254.5" x2="256.5" y2="256.2" stroke="#000" stroke-width="0.8"/>
<line x1="259.5" y1="254.5" x2="259.5" y2="257.1" stroke="#000" stroke-width="0.8"/>
<line x1="263.5" y1="254.5" x2="263.5" y2="256.2" stroke="#000" stroke-width="0.8"/>
<line x1="266.5" y1="254.5" x2="266.5" y2="256.2" stroke="#000" stroke-width="0.8"/>
<line x1="269.5" y1="254.5" x2="269.5" y2="256.2" stroke="#000" stroke-width="0.8"/>
<line x1="273.5" y1="254.5" x2="273.5" y2="256.2" stroke="#000" stroke-width="0.8"/>
<line x1="276.5" y1="254.5" x2="276.5" y2="257.1" stroke="#000" stroke-width="0.8"/>
<line x1="279.5" y1="254.5" x2="279.5" y2="256.2" stroke="#000" stroke-width="0.8"/>
<line x1="282.5" y1="254.5" x2="282.5" y2="256.2" stroke="#000" stroke-width="0.8"/>
<line x1="286.5" y1="254.5" x2="286.5" y2="256.2" stroke="#000" stroke-width="0.8"/>
<line x1="289.5" y1="254.5" x2="289.5" y2="256.2" stroke="#000" stroke-width="0.8"/>
<line x1="292.5" y1="254.5" x2="292.5" y2="257.1" stroke="#000" stroke-width="0.8"/>
<line x1="210.5" y1="217.5" x2="247.5" y2="217.5" stroke="#111" stroke-width="1.1"/>
<line x1="247.5" y1="205.5" x2="247.5" y2="223.9" stroke="#111" stroke-width="1.1"/>
<line x1="247.5" y1="212.5" x2="275.5" y2="212.5" stroke="#111" stroke-width="1.1"/>
<line x1="275.5" y1="194.7" x2="275.5" y2="219.3" stroke="#111" stroke-width="1.1"/>
<line x1="275.5" y1="203.5" x2="296.5" y2="203.5" stroke="#111" stroke-width="1.1"/>
<line x1="65.5" y1="265.5" x2="135.8" y2="265.5" stroke="#000" stroke-width="1.1"/>
<polygon points="141.3,265.5 134.8,262.7 134.8,268.3" fill="#000"/>
<line x1="373.5" y1="176" x2="373.5" y2="289.8" stroke="#000" stroke-width="1.6"/>
<line x1="372.7" y1="289" x2="477" y2="289" stroke="#000" stroke-width="1.6"/>
<line x1="385.4" y1="212.3" x2="385.4" y2="199.6" stroke="#000" stroke-width="1.2"/>
<line x1="382.6" y1="199.6" x2="388.2" y2="199.6" stroke="#000" stroke-width="1.4"/>
<rect x="380.6" y="212.9" width="9.6" height="76.1" fill="#111" stroke="#000" stroke-width="1.2"/>
<line x1="396.85" y1="200.8" x2="396.85" y2="182.3" stroke="#000" stroke-width="1.2"/>
<line x1="394.05" y1="182.3" x2="399.65" y2="182.3" stroke="#000" stroke-width="1.4"/>
<rect x="391.9" y="201.4" width="9.9" height="87.6" fill="#777" stroke="#000" stroke-width="1.2"/>
<line x1="407.65" y1="242.4" x2="407.65" y2="227.3" stroke="#000" stroke-width="1.2"/>
<line x1="404.85" y1="227.3" x2="410.45" y2="227.3" stroke="#000" stroke-width="1.4"/>
<rect x="403.5" y="243" width="8.3" height="46" fill="#eee" stroke="#000" stroke-width="1.2"/>
<line x1="432.95" y1="275.4" x2="432.95" y2="274" stroke="#000" stroke-width="1.2"/>
<line x1="430.15" y1="274" x2="435.75" y2="274" stroke="#000" stroke-width="1.4"/>
<rect x="428" y="276" width="9.9" height="13" fill="#111" stroke="#000" stroke-width="1.2"/>
<line x1="444.05" y1="279.2" x2="444.05" y2="278.5" stroke="#000" stroke-width="1.2"/>
<line x1="441.25" y1="278.5" x2="446.85" y2="278.5" stroke="#000" stroke-width="1.4"/>
<rect x="439.1" y="279.8" width="9.9" height="9.2" fill="#777" stroke="#000" stroke-width="1.2"/>
<rect x="450.2" y="284.2" width="9.3" height="4.8" fill="#eee" stroke="#000" stroke-width="1.2"/>
<rect x="426.2" y="182" width="11.1" height="5.6" fill="#111" stroke="#000" stroke-width="1.3"/>
<rect x="426.2" y="192.4" width="11.1" height="5.2" fill="#777" stroke="#000" stroke-width="1.3"/>
<rect x="426.2" y="203.2" width="11.1" height="5" fill="#fff" stroke="#000" stroke-width="1.3"/>
<path fill="#000" d="M118 348h1v1h-1zM89 349h1v1h-1zM90 349h1v1h-1zM97 349h1v1h-1zM102 349h1v1h-1zM104 349h1v1h-1zM107 349h1v1h-1zM110 349h1v1h-1zM112 349h1v1h-1zM114 349h1v1h-1zM121 349h1v1h-1zM122 349h1v1h-1zM124 349h1v1h-1zM76 350h1v1h-1zM103 350h1v1h-1zM105 350h1v1h-1zM109 350h1v1h-1zM111 350h1v1h-1zM115 350h1v1h-1zM116 350h1v1h-1zM92 351h1v1h-1zM93 351h1v1h-1zM96 351h1v1h-1zM102 351h1v1h-1zM103 351h1v1h-1zM104 351h1v1h-1zM107 351h1v1h-1zM108 351h1v1h-1zM111 351h1v1h-1zM112 351h1v1h-1zM113 351h1v1h-1zM114 351h1v1h-1zM116 351h1v1h-1zM117 351h1v1h-1zM101 352h1v1h-1zM102 352h1v1h-1zM103 352h1v1h-1zM104 352h1v1h-1zM105 352h1v1h-1zM107 352h1v1h-1zM109 352h1v1h-1zM111 352h1v1h-1zM113 352h1v1h-1zM114 352h1v1h-1zM115 352h1v1h-1zM116 352h1v1h-1zM117 352h1v1h-1zM121 352h1v1h-1zM103 353h1v1h-1zM105 353h1v1h-1zM106 353h1v1h-1zM108 353h1v1h-1zM109 353h1v1h-1zM110 353h1v1h-1zM111 353h1v1h-1zM112 353h1v1h-1zM113 353h1v1h-1zM114 353h1v1h-1zM115 353h1v1h-1zM116 353h1v1h-1zM117 353h1v1h-1zM119 353h1v1h-1zM81 354h1v1h-1zM82 354h1v1h-1zM89 354h1v1h-1zM94 354h1v1h-1zM95 354h1v1h-1zM98 354h1v1h-1zM99 354h1v1h-1zM101 354h1v1h-1zM103 354h1v1h-1zM104 354h1v1h-1zM105 354h1v1h-1zM106 354h1v1h-1zM107 354h1v1h-1zM108 354h1v1h-1zM109 354h1v1h-1zM110 354h1v1h-1zM111 354h1v1h-1zM114 354h1v1h-1zM115 354h1v1h-1zM116 354h1v1h-1zM121 354h1v1h-1zM56 355h1v1h-1zM94 355h1v1h-1zM96 355h1v1h-1zM103 355h1v1h-1zM104 355h1v1h-1zM105 355h1v1h-1zM108 355h1v1h-1zM109 355h1v1h-1zM110 355h1v1h-1zM111 355h1v1h-1zM112 355h1v1h-1zM113 355h1v1h-1zM114 355h1v1h-1zM115 355h1v1h-1zM117 355h1v1h-1zM118 355h1v1h-1zM119 355h1v1h-1zM92 356h1v1h-1zM97 356h1v1h-1zM98 356h1v1h-1zM100 356h1v1h-1zM101 356h1v1h-1zM103 356h1v1h-1zM104 356h1v1h-1zM106 356h1v1h-1zM107 356h1v1h-1zM108 356h1v1h-1zM109 356h1v1h-1zM110 356h1v1h-1zM111 356h1v1h-1zM112 356h1v1h-1zM114 356h1v1h-1zM115 356h1v1h-1zM116 356h1v1h-1zM122 356h1v1h-1zM62 357h1v1h-1zM86 357h1v1h-1zM95 357h1v1h-1zM99 357h1v1h-1zM100 357h1v1h-1zM102 357h1v1h-1zM104 357h1v1h-1zM105 357h1v1h-1zM106 357h1v1h-1zM107 357h1v1h-1zM108 357h1v1h-1zM109 357h1v1h-1zM111 357h1v1h-1zM112 357h1v1h-1zM113 357h1v1h-1zM115 357h1v1h-1zM116 357h1v1h-1zM124 357h1v1h-1zM66 358h1v1h-1zM70 358h1v1h-1zM95 358h1v1h-1zM97 358h1v1h-1zM99 358h1v1h-1zM100 358h1v1h-1zM101 358h1v1h-1zM102 358h1v1h-1zM104 358h1v1h-1zM105 358h1v1h-1zM106 358h1v1h-1zM107 358h1v1h-1zM108 358h1v1h-1zM109 358h1v1h-1zM110 358h1v1h-1zM111 358h1v1h-1zM112 358h1v1h-1zM113 358h1v1h-1zM114 358h1v1h-1zM115 358h1v1h-1zM116 358h1v1h-1zM117 358h1v1h-1zM88 359h1v1h-1zM92 359h1v1h-1zM97 359h1v1h-1zM98 359h1v1h-1zM100 359h1v1h-1zM101 359h1v1h-1zM102 359h1v1h-1zM104 359h1v1h-1zM106 359h1v1h-1zM107 359h1v1h-1zM108 359h1v1h-1zM109 359h1v1h-1zM110 359h1v1h-1zM111 359h1v1h-1zM112 359h1v1h-1zM113 359h1v1h-1zM115 359h1v1h-1zM88 360h1v1h-1zM91 360h1v1h-1zM94 360h1v1h-1zM98 360h1v1h-1zM100 360h1v1h-1zM101 360h1v1h-1zM102 360h1v1h-1zM103 360h1v1h-1zM104 360h1v1h-1zM106 360h1v1h-1zM107 360h1v1h-1zM108 360h1v1h-1zM109 360h1v1h-1zM110 360h1v1h-1zM113 360h1v1h-1zM116 360h1v1h-1zM117 360h1v1h-1zM118 360h1v1h-1zM120 360h1v1h-1zM121 360h1v1h-1zM83 361h1v1h-1zM88 361h1v1h-1zM93 361h1v1h-1zM95 361h1v1h-1zM100 361h1v1h-1zM102 361h1v1h-1zM104 361h1v1h-1zM107 361h1v1h-1zM108 361h1v1h-1zM109 361h1v1h-1zM110 361h1v1h-1zM111 361h1v1h-1zM112 361h1v1h-1zM113 361h1v1h-1zM114 361h1v1h-1zM117 361h1v1h-1zM120 361h1v1h-1zM122 361h1v1h-1zM93 362h1v1h-1zM94 362h1v1h-1zM100 362h1v1h-1zM101 362h1v1h-1zM102 362h1v1h-1zM104 362h1v1h-1zM105 362h1v1h-1zM106 362h1v1h-1zM107 362h1v1h-1zM108 362h1v1h-1zM111 362h1v1h-1zM113 362h1v1h-1zM114 362h1v1h-1zM116 362h1v1h-1zM117 362h1v1h-1zM79 363h1v1h-1zM93 363h1v1h-1zM95 363h1v1h-1zM97 363h1v1h-1zM98 363h1v1h-1zM100 363h1v1h-1zM101 363h1v1h-1zM105 363h1v1h-1zM106 363h1v1h-1zM107 363h1v1h-1zM108 363h1v1h-1zM109 363h1v1h-1zM110 363h1v1h-1zM112 363h1v1h-1zM113 363h1v1h-1zM116 363h1v1h-1zM91 364h1v1h-1zM93 364h1v1h-1zM99 364h1v1h-1zM100 364h1v1h-1zM104 364h1v1h-1zM105 364h1v1h-1zM106 364h1v1h-1zM107 364h1v1h-1zM109 364h1v1h-1zM110 364h1v1h-1zM111 364h1v1h-1zM113 364h1v1h-1zM118 364h1v1h-1zM47 365h1v1h-1zM74 365h1v1h-1zM92 365h1v1h-1zM93 365h1v1h-1zM94 365h1v1h-1zM98 365h1v1h-1zM101 365h1v1h-1zM102 365h1v1h-1zM104 365h1v1h-1zM105 365h1v1h-1zM107 365h1v1h-1zM110 365h1v1h-1zM111 365h1v1h-1zM112 365h1v1h-1zM113 365h1v1h-1zM117 365h1v1h-1zM122 365h1v1h-1zM93 366h1v1h-1zM95 366h1v1h-1zM100 366h1v1h-1zM101 366h1v1h-1zM102 366h1v1h-1zM104 366h1v1h-1zM105 366h1v1h-1zM106 366h1v1h-1zM108 366h1v1h-1zM110 366h1v1h-1zM117 366h1v1h-1zM121 366h1v1h-1zM89 367h1v1h-1zM95 367h1v1h-1zM98 367h1v1h-1zM100 367h1v1h-1zM102 367h1v1h-1zM103 367h1v1h-1zM105 367h1v1h-1zM107 367h1v1h-1zM108 367h1v1h-1zM110 367h1v1h-1zM111 367h1v1h-1zM112 367h1v1h-1zM117 367h1v1h-1zM82 368h1v1h-1zM95 368h1v1h-1zM100 368h1v1h-1zM101 368h1v1h-1zM104 368h1v1h-1zM105 368h1v1h-1zM106 368h1v1h-1zM107 368h1v1h-1zM109 368h1v1h-1zM110 368h1v1h-1zM112 368h1v1h-1zM113 368h1v1h-1zM115 368h1v1h-1zM98 369h1v1h-1zM102 369h1v1h-1zM105 369h1v1h-1zM112 369h1v1h-1zM114 369h1v1h-1zM116 369h1v1h-1zM122 369h1v1h-1zM123 369h1v1h-1zM86 370h1v1h-1zM95 370h1v1h-1zM101 370h1v1h-1zM104 370h1v1h-1zM113 370h1v1h-1zM116 370h1v1h-1zM118 370h1v1h-1zM93 371h1v1h-1zM96 371h1v1h-1zM98 371h1v1h-1zM102 371h1v1h-1zM106 371h1v1h-1zM107 371h1v1h-1zM108 371h1v1h-1zM109 371h1v1h-1zM111 371h1v1h-1zM94 372h1v1h-1zM95 372h1v1h-1zM101 372h1v1h-1zM103 372h1v1h-1zM106 372h1v1h-1zM107 372h1v1h-1zM82 373h1v1h-1zM99 373h1v1h-1zM100 373h1v1h-1zM101 373h1v1h-1zM105 373h1v1h-1zM109 373h1v1h-1zM110 373h1v1h-1zM92 374h1v1h-1zM96 374h1v1h-1zM97 374h1v1h-1zM100 374h1v1h-1zM101 374h1v1h-1zM105 374h1v1h-1zM109 374h1v1h-1zM110 374h1v1h-1zM92 375h1v1h-1zM95 375h1v1h-1zM98 375h1v1h-1zM101 375h1v1h-1zM106 375h1v1h-1zM107 375h1v1h-1zM109 375h1v1h-1zM116 375h1v1h-1zM84 376h1v1h-1zM90 376h1v1h-1zM91 376h1v1h-1zM92 376h1v1h-1zM95 376h1v1h-1zM99 376h1v1h-1zM101 376h1v1h-1zM104 376h1v1h-1zM105 376h1v1h-1zM106 376h1v1h-1zM107 376h1v1h-1zM108 376h1v1h-1zM111 376h1v1h-1zM112 376h1v1h-1zM119 376h1v1h-1zM93 377h1v1h-1zM96 377h1v1h-1zM98 377h1v1h-1zM99 377h1v1h-1zM100 377h1v1h-1zM101 377h1v1h-1zM105 377h1v1h-1zM106 377h1v1h-1zM107 377h1v1h-1zM111 377h1v1h-1zM116 377h1v1h-1zM50 378h1v1h-1zM90 378h1v1h-1zM91 378h1v1h-1zM92 378h1v1h-1zM94 378h1v1h-1zM95 378h1v1h-1zM96 378h1v1h-1zM99 378h1v1h-1zM101 378h1v1h-1zM102 378h1v1h-1zM106 378h1v1h-1zM109 378h1v1h-1zM111 378h1v1h-1zM86 379h1v1h-1zM87 379h1v1h-1zM90 379h1v1h-1zM91 379h1v1h-1zM92 379h1v1h-1zM94 379h1v1h-1zM97 379h1v1h-1zM100 379h1v1h-1zM102 379h1v1h-1zM103 379h1v1h-1zM105 379h1v1h-1zM107 379h1v1h-1zM112 379h1v1h-1zM113 379h1v1h-1zM116 379h1v1h-1zM64 380h1v1h-1zM81 380h1v1h-1zM87 380h1v1h-1zM91 380h1v1h-1zM95 380h1v1h-1zM96 380h1v1h-1zM98 380h1v1h-1zM101 380h1v1h-1zM103 380h1v1h-1zM105 380h1v1h-1zM112 380h1v1h-1zM78 381h1v1h-1zM82 381h1v1h-1zM88 381h1v1h-1zM89 381h1v1h-1zM90 381h1v1h-1zM91 381h1v1h-1zM92 381h1v1h-1zM94 381h1v1h-1zM95 381h1v1h-1zM97 381h1v1h-1zM98 381h1v1h-1zM99 381h1v1h-1zM100 381h1v1h-1zM101 381h1v1h-1zM103 381h1v1h-1zM104 381h1v1h-1zM106 381h1v1h-1zM58 382h1v1h-1zM65 382h1v1h-1zM67 382h1v1h-1zM71 382h1v1h-1zM78 382h1v1h-1zM80 382h1v1h-1zM83 382h1v1h-1zM84 382h1v1h-1zM85 382h1v1h-1zM87 382h1v1h-1zM89 382h1v1h-1zM91 382h1v1h-1zM92 382h1v1h-1zM94 382h1v1h-1zM96 382h1v1h-1zM97 382h1v1h-1zM100 382h1v1h-1zM101 382h1v1h-1zM102 382h1v1h-1zM103 382h1v1h-1zM110 382h1v1h-1zM61 383h1v1h-1zM69 383h1v1h-1zM88 383h1v1h-1zM89 383h1v1h-1zM90 383h1v1h-1zM92 383h1v1h-1zM93 383h1v1h-1zM94 383h1v1h-1zM95 383h1v1h-1zM96 383h1v1h-1zM97 383h1v1h-1zM98 383h1v1h-1zM101 383h1v1h-1zM102 383h1v1h-1zM105 383h1v1h-1zM106 383h1v1h-1zM71 384h1v1h-1zM81 384h1v1h-1zM83 384h1v1h-1zM84 384h1v1h-1zM87 384h1v1h-1zM88 384h1v1h-1zM90 384h1v1h-1zM92 384h1v1h-1zM93 384h1v1h-1zM94 384h1v1h-1zM95 384h1v1h-1zM96 384h1v1h-1zM98 384h1v1h-1zM99 384h1v1h-1zM100 384h1v1h-1zM101 384h1v1h-1zM104 384h1v1h-1zM105 384h1v1h-1zM108 384h1v1h-1zM61 385h1v1h-1zM64 385h1v1h-1zM73 385h1v1h-1zM76 385h1v1h-1zM82 385h1v1h-1zM85 385h1v1h-1zM88 385h1v1h-1zM90 385h1v1h-1zM91 385h1v1h-1zM92 385h1v1h-1zM95 385h1v1h-1zM96 385h1v1h-1zM97 385h1v1h-1zM98 385h1v1h-1zM99 385h1v1h-1zM101 385h1v1h-1zM107 385h1v1h-1zM108 385h1v1h-1zM68 386h1v1h-1zM72 386h1v1h-1zM73 386h1v1h-1zM74 386h1v1h-1zM80 386h1v1h-1zM81 386h1v1h-1zM82 386h1v1h-1zM83 386h1v1h-1zM85 386h1v1h-1zM86 386h1v1h-1zM87 386h1v1h-1zM89 386h1v1h-1zM91 386h1v1h-1zM93 386h1v1h-1zM94 386h1v1h-1zM95 386h1v1h-1zM96 386h1v1h-1zM97 386h1v1h-1zM98 386h1v1h-1zM99 386h1v1h-1zM101 386h1v1h-1zM103 386h1v1h-1zM106 386h1v1h-1zM109 386h1v1h-1zM110 386h1v1h-1zM117 386h1v1h-1zM58 387h1v1h-1zM59 387h1v1h-1zM63 387h1v1h-1zM65 387h1v1h-1zM66 387h1v1h-1zM72 387h1v1h-1zM75 387h1v1h-1zM79 387h1v1h-1zM82 387h1v1h-1zM83 387h1v1h-1zM85 387h1v1h-1zM90 387h1v1h-1zM92 387h1v1h-1zM94 387h1v1h-1zM95 387h1v1h-1zM96 387h1v1h-1zM97 387h1v1h-1zM98 387h1v1h-1zM102 387h1v1h-1zM104 387h1v1h-1zM108 387h1v1h-1zM116 387h1v1h-1zM43 388h1v1h-1zM51 388h1v1h-1zM52 388h1v1h-1zM57 388h1v1h-1zM59 388h1v1h-1zM60 388h1v1h-1zM61 388h1v1h-1zM66 388h1v1h-1zM69 388h1v1h-1zM70 388h1v1h-1zM72 388h1v1h-1zM75 388h1v1h-1zM80 388h1v1h-1zM83 388h1v1h-1zM85 388h1v1h-1zM86 388h1v1h-1zM87 388h1v1h-1zM88 388h1v1h-1zM89 388h1v1h-1zM91 388h1v1h-1zM92 388h1v1h-1zM93 388h1v1h-1zM94 388h1v1h-1zM95 388h1v1h-1zM98 388h1v1h-1zM99 388h1v1h-1zM100 388h1v1h-1zM107 388h1v1h-1zM109 388h1v1h-1zM49 389h1v1h-1zM53 389h1v1h-1zM55 389h1v1h-1zM64 389h1v1h-1zM65 389h1v1h-1zM66 389h1v1h-1zM69 389h1v1h-1zM70 389h1v1h-1zM72 389h1v1h-1zM74 389h1v1h-1zM75 389h1v1h-1zM76 389h1v1h-1zM77 389h1v1h-1zM79 389h1v1h-1zM80 389h1v1h-1zM81 389h1v1h-1zM83 389h1v1h-1zM84 389h1v1h-1zM86 389h1v1h-1zM88 389h1v1h-1zM91 389h1v1h-1zM92 389h1v1h-1zM94 389h1v1h-1zM95 389h1v1h-1zM96 389h1v1h-1zM97 389h1v1h-1zM98 389h1v1h-1zM101 389h1v1h-1zM102 389h1v1h-1zM103 389h1v1h-1zM55 390h1v1h-1zM57 390h1v1h-1zM58 390h1v1h-1zM60 390h1v1h-1zM63 390h1v1h-1zM65 390h1v1h-1zM70 390h1v1h-1zM71 390h1v1h-1zM72 390h1v1h-1zM73 390h1v1h-1zM77 390h1v1h-1zM78 390h1v1h-1zM82 390h1v1h-1zM84 390h1v1h-1zM85 390h1v1h-1zM88 390h1v1h-1zM89 390h1v1h-1zM90 390h1v1h-1zM92 390h1v1h-1zM93 390h1v1h-1zM95 390h1v1h-1zM98 390h1v1h-1zM103 390h1v1h-1zM108 390h1v1h-1zM41 391h1v1h-1zM50 391h1v1h-1zM53 391h1v1h-1zM61 391h1v1h-1zM62 391h1v1h-1zM64 391h1v1h-1zM66 391h1v1h-1zM67 391h1v1h-1zM68 391h1v1h-1zM69 391h1v1h-1zM70 391h1v1h-1zM71 391h1v1h-1zM73 391h1v1h-1zM76 391h1v1h-1zM77 391h1v1h-1zM78 391h1v1h-1zM79 391h1v1h-1zM81 391h1v1h-1zM82 391h1v1h-1zM83 391h1v1h-1zM85 391h1v1h-1zM86 391h1v1h-1zM88 391h1v1h-1zM89 391h1v1h-1zM92 391h1v1h-1zM93 391h1v1h-1zM98 391h1v1h-1zM101 391h1v1h-1zM105 391h1v1h-1zM106 391h1v1h-1zM42 392h1v1h-1zM56 392h1v1h-1zM58 392h1v1h-1zM60 392h1v1h-1zM61 392h1v1h-1zM62 392h1v1h-1zM64 392h1v1h-1zM66 392h1v1h-1zM67 392h1v1h-1zM68 392h1v1h-1zM69 392h1v1h-1zM71 392h1v1h-1zM72 392h1v1h-1zM74 392h1v1h-1zM75 392h1v1h-1zM76 392h1v1h-1zM77 392h1v1h-1zM78 392h1v1h-1zM79 392h1v1h-1zM81 392h1v1h-1zM83 392h1v1h-1zM84 392h1v1h-1zM85 392h1v1h-1zM86 392h1v1h-1zM87 392h1v1h-1zM92 392h1v1h-1zM94 392h1v1h-1zM95 392h1v1h-1zM99 392h1v1h-1zM100 392h1v1h-1zM102 392h1v1h-1zM103 392h1v1h-1zM104 392h1v1h-1zM106 392h1v1h-1zM43 393h1v1h-1zM53 393h1v1h-1zM54 393h1v1h-1zM59 393h1v1h-1zM60 393h1v1h-1zM61 393h1v1h-1zM62 393h1v1h-1zM64 393h1v1h-1zM65 393h1v1h-1zM67 393h1v1h-1zM68 393h1v1h-1zM69 393h1v1h-1zM70 393h1v1h-1zM71 393h1v1h-1zM72 393h1v1h-1zM73 393h1v1h-1zM74 393h1v1h-1zM75 393h1v1h-1zM76 393h1v1h-1zM77 393h1v1h-1zM78 393h1v1h-1zM79 393h1v1h-1zM82 393h1v1h-1zM83 393h1v1h-1zM84 393h1v1h-1zM86 393h1v1h-1zM90 393h1v1h-1zM93 393h1v1h-1zM95 393h1v1h-1zM97 393h1v1h-1zM98 393h1v1h-1zM99 393h1v1h-1zM101 393h1v1h-1zM104 393h1v1h-1zM105 393h1v1h-1zM107 393h1v1h-1zM47 394h1v1h-1zM51 394h1v1h-1zM52 394h1v1h-1zM55 394h1v1h-1zM56 394h1v1h-1zM57 394h1v1h-1zM58 394h1v1h-1zM59 394h1v1h-1zM60 394h1v1h-1zM63 394h1v1h-1zM64 394h1v1h-1zM65 394h1v1h-1zM66 394h1v1h-1zM67 394h1v1h-1zM68 394h1v1h-1zM69 394h1v1h-1zM70 394h1v1h-1zM71 394h1v1h-1zM72 394h1v1h-1zM73 394h1v1h-1zM74 394h1v1h-1zM76 394h1v1h-1zM77 394h1v1h-1zM79 394h1v1h-1zM80 394h1v1h-1zM81 394h1v1h-1zM82 394h1v1h-1zM83 394h1v1h-1zM84 394h1v1h-1zM86 394h1v1h-1zM88 394h1v1h-1zM89 394h1v1h-1zM90 394h1v1h-1zM91 394h1v1h-1zM93 394h1v1h-1zM99 394h1v1h-1zM102 394h1v1h-1zM106 394h1v1h-1zM58 395h1v1h-1zM59 395h1v1h-1zM60 395h1v1h-1zM61 395h1v1h-1zM63 395h1v1h-1zM64 395h1v1h-1zM65 395h1v1h-1zM66 395h1v1h-1zM68 395h1v1h-1zM69 395h1v1h-1zM70 395h1v1h-1zM71 395h1v1h-1zM72 395h1v1h-1zM73 395h1v1h-1zM74 395h1v1h-1zM77 395h1v1h-1zM78 395h1v1h-1zM79 395h1v1h-1zM82 395h1v1h-1zM84 395h1v1h-1zM85 395h1v1h-1zM86 395h1v1h-1zM90 395h1v1h-1zM95 395h1v1h-1zM97 395h1v1h-1zM101 395h1v1h-1zM103 395h1v1h-1zM43 396h1v1h-1zM46 396h1v1h-1zM50 396h1v1h-1zM52 396h1v1h-1zM53 396h1v1h-1zM54 396h1v1h-1zM57 396h1v1h-1zM58 396h1v1h-1zM59 396h1v1h-1zM62 396h1v1h-1zM65 396h1v1h-1zM66 396h1v1h-1zM67 396h1v1h-1zM68 396h1v1h-1zM69 396h1v1h-1zM70 396h1v1h-1zM71 396h1v1h-1zM72 396h1v1h-1zM73 396h1v1h-1zM74 396h1v1h-1zM75 396h1v1h-1zM76 396h1v1h-1zM77 396h1v1h-1zM78 396h1v1h-1zM80 396h1v1h-1zM81 396h1v1h-1zM82 396h1v1h-1zM91 396h1v1h-1zM94 396h1v1h-1zM100 396h1v1h-1zM52 397h1v1h-1zM53 397h1v1h-1zM54 397h1v1h-1zM57 397h1v1h-1zM59 397h1v1h-1zM60 397h1v1h-1zM61 397h1v1h-1zM62 397h1v1h-1zM63 397h1v1h-1zM64 397h1v1h-1zM65 397h1v1h-1zM66 397h1v1h-1zM67 397h1v1h-1zM68 397h1v1h-1zM69 397h1v1h-1zM70 397h1v1h-1zM71 397h1v1h-1zM72 397h1v1h-1zM73 397h1v1h-1zM75 397h1v1h-1zM79 397h1v1h-1zM80 397h1v1h-1zM82 397h1v1h-1zM83 397h1v1h-1zM84 397h1v1h-1zM85 397h1v1h-1zM87 397h1v1h-1zM93 397h1v1h-1zM96 397h1v1h-1zM97 397h1v1h-1zM101 397h1v1h-1zM48 398h1v1h-1zM49 398h1v1h-1zM51 398h1v1h-1zM52 398h1v1h-1zM53 398h1v1h-1zM54 398h1v1h-1zM56 398h1v1h-1zM57 398h1v1h-1zM58 398h1v1h-1zM59 398h1v1h-1zM60 398h1v1h-1zM61 398h1v1h-1zM62 398h1v1h-1zM63 398h1v1h-1zM65 398h1v1h-1zM66 398h1v1h-1zM67 398h1v1h-1zM68 398h1v1h-1zM69 398h1v1h-1zM70 398h1v1h-1zM71 398h1v1h-1zM72 398h1v1h-1zM73 398h1v1h-1zM74 398h1v1h-1zM75 398h1v1h-1zM76 398h1v1h-1zM78 398h1v1h-1zM79 398h1v1h-1zM80 398h1v1h-1zM83 398h1v1h-1zM93 398h1v1h-1zM49 399h1v1h-1zM50 399h1v1h-1zM51 399h1v1h-1zM52 399h1v1h-1zM53 399h1v1h-1zM54 399h1v1h-1zM55 399h1v1h-1zM56 399h1v1h-1zM57 399h1v1h-1zM58 399h1v1h-1zM59 399h1v1h-1zM60 399h1v1h-1zM61 399h1v1h-1zM62 399h1v1h-1zM63 399h1v1h-1zM64 399h1v1h-1zM65 399h1v1h-1zM66 399h1v1h-1zM67 399h1v1h-1zM68 399h1v1h-1zM69 399h1v1h-1zM70 399h1v1h-1zM71 399h1v1h-1zM72 399h1v1h-1zM73 399h1v1h-1zM74 399h1v1h-1zM75 399h1v1h-1zM76 399h1v1h-1zM77 399h1v1h-1zM78 399h1v1h-1zM80 399h1v1h-1zM82 399h1v1h-1zM83 399h1v1h-1zM84 399h1v1h-1zM85 399h1v1h-1zM89 399h1v1h-1zM44 400h1v1h-1zM45 400h1v1h-1zM47 400h1v1h-1zM51 400h1v1h-1zM52 400h1v1h-1zM53 400h1v1h-1zM55 400h1v1h-1zM56 400h1v1h-1zM59 400h1v1h-1zM60 400h1v1h-1zM61 400h1v1h-1zM62 400h1v1h-1zM63 400h1v1h-1zM64 400h1v1h-1zM65 400h1v1h-1zM66 400h1v1h-1zM67 400h1v1h-1zM68 400h1v1h-1zM69 400h1v1h-1zM70 400h1v1h-1zM71 400h1v1h-1zM73 400h1v1h-1zM74 400h1v1h-1zM75 400h1v1h-1zM78 400h1v1h-1zM79 400h1v1h-1zM82 400h1v1h-1zM83 400h1v1h-1zM91 400h1v1h-1zM102 400h1v1h-1zM44 401h1v1h-1zM49 401h1v1h-1zM50 401h1v1h-1zM52 401h1v1h-1zM53 401h1v1h-1zM54 401h1v1h-1zM55 401h1v1h-1zM56 401h1v1h-1zM58 401h1v1h-1zM59 401h1v1h-1zM60 401h1v1h-1zM61 401h1v1h-1zM62 401h1v1h-1zM63 401h1v1h-1zM64 401h1v1h-1zM65 401h1v1h-1zM66 401h1v1h-1zM67 401h1v1h-1zM68 401h1v1h-1zM69 401h1v1h-1zM71 401h1v1h-1zM72 401h1v1h-1zM73 401h1v1h-1zM74 401h1v1h-1zM76 401h1v1h-1zM83 401h1v1h-1zM48 402h1v1h-1zM49 402h1v1h-1zM50 402h1v1h-1zM53 402h1v1h-1zM54 402h1v1h-1zM55 402h1v1h-1zM56 402h1v1h-1zM57 402h1v1h-1zM58 402h1v1h-1zM59 402h1v1h-1zM60 402h1v1h-1zM61 402h1v1h-1zM62 402h1v1h-1zM63 402h1v1h-1zM64 402h1v1h-1zM65 402h1v1h-1zM66 402h1v1h-1zM67 402h1v1h-1zM68 402h1v1h-1zM69 402h1v1h-1zM70 402h1v1h-1zM71 402h1v1h-1zM72 402h1v1h-1zM73 402h1v1h-1zM74 402h1v1h-1zM75 402h1v1h-1zM79 402h1v1h-1zM80 402h1v1h-1zM82 402h1v1h-1zM84 402h1v1h-1zM40 403h1v1h-1zM41 403h1v1h-1zM42 403h1v1h-1zM49 403h1v1h-1zM50 403h1v1h-1zM51 403h1v1h-1zM53 403h1v1h-1zM54 403h1v1h-1zM55 403h1v1h-1zM57 403h1v1h-1zM59 403h1v1h-1zM61 403h1v1h-1zM62 403h1v1h-1zM63 403h1v1h-1zM64 403h1v1h-1zM65 403h1v1h-1zM66 403h1v1h-1zM67 403h1v1h-1zM68 403h1v1h-1zM70 403h1v1h-1zM71 403h1v1h-1zM72 403h1v1h-1zM73 403h1v1h-1zM75 403h1v1h-1zM76 403h1v1h-1zM77 403h1v1h-1zM78 403h1v1h-1zM82 403h1v1h-1zM83 403h1v1h-1zM99 403h1v1h-1zM41 404h1v1h-1zM47 404h1v1h-1zM48 404h1v1h-1zM49 404h1v1h-1zM51 404h1v1h-1zM52 404h1v1h-1zM53 404h1v1h-1zM54 404h1v1h-1zM55 404h1v1h-1zM56 404h1v1h-1zM57 404h1v1h-1zM58 404h1v1h-1zM59 404h1v1h-1zM60 404h1v1h-1zM61 404h1v1h-1zM62 404h1v1h-1zM63 404h1v1h-1zM64 404h1v1h-1zM65 404h1v1h-1zM66 404h1v1h-1zM67 404h1v1h-1zM68 404h1v1h-1zM69 404h1v1h-1zM70 404h1v1h-1zM71 404h1v1h-1zM72 404h1v1h-1zM74 404h1v1h-1zM77 404h1v1h-1zM78 404h1v1h-1zM83 404h1v1h-1zM85 404h1v1h-1zM40 405h1v1h-1zM44 405h1v1h-1zM47 405h1v1h-1zM48 405h1v1h-1zM50 405h1v1h-1zM51 405h1v1h-1zM52 405h1v1h-1zM53 405h1v1h-1zM54 405h1v1h-1zM55 405h1v1h-1zM56 405h1v1h-1zM57 405h1v1h-1zM58 405h1v1h-1zM59 405h1v1h-1zM60 405h1v1h-1zM61 405h1v1h-1zM62 405h1v1h-1zM63 405h1v1h-1zM64 405h1v1h-1zM65 405h1v1h-1zM66 405h1v1h-1zM68 405h1v1h-1zM69 405h1v1h-1zM70 405h1v1h-1zM71 405h1v1h-1zM74 405h1v1h-1zM75 405h1v1h-1zM88 405h1v1h-1zM98 405h1v1h-1zM43 406h1v1h-1zM44 406h1v1h-1zM45 406h1v1h-1zM46 406h1v1h-1zM47 406h1v1h-1zM48 406h1v1h-1zM50 406h1v1h-1zM51 406h1v1h-1zM52 406h1v1h-1zM53 406h1v1h-1zM54 406h1v1h-1zM55 406h1v1h-1zM56 406h1v1h-1zM57 406h1v1h-1zM58 406h1v1h-1zM59 406h1v1h-1zM60 406h1v1h-1zM61 406h1v1h-1zM62 406h1v1h-1zM63 406h1v1h-1zM65 406h1v1h-1zM66 406h1v1h-1zM67 406h1v1h-1zM68 406h1v1h-1zM69 406h1v1h-1zM70 406h1v1h-1zM71 406h1v1h-1zM72 406h1v1h-1zM76 406h1v1h-1zM44 407h1v1h-1zM46 407h1v1h-1zM47 407h1v1h-1zM49 407h1v1h-1zM50 407h1v1h-1zM51 407h1v1h-1zM52 407h1v1h-1zM54 407h1v1h-1zM55 407h1v1h-1zM56 407h1v1h-1zM57 407h1v1h-1zM58 407h1v1h-1zM59 407h1v1h-1zM60 407h1v1h-1zM61 407h1v1h-1zM62 407h1v1h-1zM63 407h1v1h-1zM65 407h1v1h-1zM66 407h1v1h-1zM67 407h1v1h-1zM68 407h1v1h-1zM69 407h1v1h-1zM70 407h1v1h-1zM71 407h1v1h-1zM72 407h1v1h-1zM73 407h1v1h-1zM75 407h1v1h-1zM76 407h1v1h-1zM77 407h1v1h-1zM40 408h1v1h-1zM44 408h1v1h-1zM45 408h1v1h-1zM46 408h1v1h-1zM47 408h1v1h-1zM48 408h1v1h-1zM49 408h1v1h-1zM50 408h1v1h-1zM51 408h1v1h-1zM52 408h1v1h-1zM53 408h1v1h-1zM54 408h1v1h-1zM55 408h1v1h-1zM56 408h1v1h-1zM57 408h1v1h-1zM58 408h1v1h-1zM59 408h1v1h-1zM60 408h1v1h-1zM61 408h1v1h-1zM62 408h1v1h-1zM63 408h1v1h-1zM65 408h1v1h-1zM66 408h1v1h-1zM68 408h1v1h-1zM70 408h1v1h-1zM71 408h1v1h-1zM80 408h1v1h-1zM40 409h1v1h-1zM41 409h1v1h-1zM42 409h1v1h-1zM44 409h1v1h-1zM46 409h1v1h-1zM47 409h1v1h-1zM48 409h1v1h-1zM50 409h1v1h-1zM51 409h1v1h-1zM52 409h1v1h-1zM53 409h1v1h-1zM54 409h1v1h-1zM55 409h1v1h-1zM56 409h1v1h-1zM57 409h1v1h-1zM58 409h1v1h-1zM59 409h1v1h-1zM60 409h1v1h-1zM61 409h1v1h-1zM62 409h1v1h-1zM63 409h1v1h-1zM64 409h1v1h-1zM66 409h1v1h-1zM68 409h1v1h-1zM69 409h1v1h-1zM70 409h1v1h-1zM71 409h1v1h-1zM73 409h1v1h-1zM41 410h1v1h-1zM43 410h1v1h-1zM48 410h1v1h-1zM49 410h1v1h-1zM50 410h1v1h-1zM51 410h1v1h-1zM52 410h1v1h-1zM53 410h1v1h-1zM54 410h1v1h-1zM55 410h1v1h-1zM56 410h1v1h-1zM57 410h1v1h-1zM58 410h1v1h-1zM59 410h1v1h-1zM60 410h1v1h-1zM61 410h1v1h-1zM62 410h1v1h-1zM63 410h1v1h-1zM64 410h1v1h-1zM65 410h1v1h-1zM66 410h1v1h-1zM67 410h1v1h-1zM68 410h1v1h-1zM69 410h1v1h-1zM70 410h1v1h-1zM71 410h1v1h-1zM73 410h1v1h-1zM75 410h1v1h-1zM77 410h1v1h-1zM45 411h1v1h-1zM47 411h1v1h-1zM48 411h1v1h-1zM49 411h1v1h-1zM50 411h1v1h-1zM51 411h1v1h-1zM52 411h1v1h-1zM53 411h1v1h-1zM54 411h1v1h-1zM55 411h1v1h-1zM56 411h1v1h-1zM57 411h1v1h-1zM58 411h1v1h-1zM59 411h1v1h-1zM60 411h1v1h-1zM61 411h1v1h-1zM62 411h1v1h-1zM63 411h1v1h-1zM64 411h1v1h-1zM67 411h1v1h-1zM40 412h1v1h-1zM41 412h1v1h-1zM43 412h1v1h-1zM44 412h1v1h-1zM48 412h1v1h-1zM49 412h1v1h-1zM50 412h1v1h-1zM51 412h1v1h-1zM52 412h1v1h-1zM53 412h1v1h-1zM54 412h1v1h-1zM55 412h1v1h-1zM56 412h1v1h-1zM57 412h1v1h-1zM58 412h1v1h-1zM59 412h1v1h-1zM60 412h1v1h-1zM61 412h1v1h-1zM62 412h1v1h-1zM63 412h1v1h-1zM66 412h1v1h-1zM67 412h1v1h-1zM68 412h1v1h-1zM69 412h1v1h-1zM70 412h1v1h-1zM75 412h1v1h-1zM78 412h1v1h-1zM81 412h1v1h-1zM40 413h1v1h-1zM44 413h1v1h-1zM45 413h1v1h-1zM47 413h1v1h-1zM49 413h1v1h-1zM50 413h1v1h-1zM51 413h1v1h-1zM52 413h1v1h-1zM54 413h1v1h-1zM56 413h1v1h-1zM57 413h1v1h-1zM58 413h1v1h-1zM59 413h1v1h-1zM60 413h1v1h-1zM61 413h1v1h-1zM62 413h1v1h-1zM63 413h1v1h-1zM64 413h1v1h-1zM65 413h1v1h-1zM67 413h1v1h-1zM70 413h1v1h-1zM74 413h1v1h-1zM83 413h1v1h-1zM85 413h1v1h-1zM42 414h1v1h-1zM43 414h1v1h-1zM45 414h1v1h-1zM46 414h1v1h-1zM47 414h1v1h-1zM49 414h1v1h-1zM51 414h1v1h-1zM53 414h1v1h-1zM54 414h1v1h-1zM55 414h1v1h-1zM56 414h1v1h-1zM57 414h1v1h-1zM59 414h1v1h-1zM62 414h1v1h-1zM63 414h1v1h-1zM64 414h1v1h-1zM65 414h1v1h-1zM67 414h1v1h-1zM69 414h1v1h-1zM72 414h1v1h-1zM74 414h1v1h-1zM41 415h1v1h-1zM45 415h1v1h-1zM47 415h1v1h-1zM49 415h1v1h-1zM50 415h1v1h-1zM51 415h1v1h-1zM52 415h1v1h-1zM53 415h1v1h-1zM54 415h1v1h-1zM56 415h1v1h-1zM57 415h1v1h-1zM58 415h1v1h-1zM61 415h1v1h-1zM62 415h1v1h-1zM63 415h1v1h-1zM66 415h1v1h-1zM68 415h1v1h-1zM69 415h1v1h-1zM79 415h1v1h-1zM43 416h1v1h-1zM44 416h1v1h-1zM45 416h1v1h-1zM46 416h1v1h-1zM47 416h1v1h-1zM50 416h1v1h-1zM51 416h1v1h-1zM52 416h1v1h-1zM54 416h1v1h-1zM55 416h1v1h-1zM57 416h1v1h-1zM58 416h1v1h-1zM59 416h1v1h-1zM61 416h1v1h-1zM62 416h1v1h-1zM63 416h1v1h-1zM64 416h1v1h-1zM65 416h1v1h-1zM79 416h1v1h-1zM80 416h1v1h-1zM45 417h1v1h-1zM47 417h1v1h-1zM48 417h1v1h-1zM51 417h1v1h-1zM52 417h1v1h-1zM53 417h1v1h-1zM55 417h1v1h-1zM57 417h1v1h-1zM58 417h1v1h-1zM65 417h1v1h-1zM66 417h1v1h-1zM72 417h1v1h-1zM77 417h1v1h-1zM39 418h1v1h-1zM40 418h1v1h-1zM42 418h1v1h-1zM44 418h1v1h-1zM47 418h1v1h-1zM48 418h1v1h-1zM49 418h1v1h-1zM50 418h1v1h-1zM52 418h1v1h-1zM57 418h1v1h-1zM58 418h1v1h-1zM59 418h1v1h-1zM62 418h1v1h-1zM63 418h1v1h-1zM64 418h1v1h-1zM65 418h1v1h-1zM68 418h1v1h-1zM70 418h1v1h-1zM89 418h1v1h-1zM46 419h1v1h-1zM48 419h1v1h-1zM49 419h1v1h-1zM53 419h1v1h-1zM54 419h1v1h-1zM56 419h1v1h-1zM58 419h1v1h-1zM61 419h1v1h-1zM64 419h1v1h-1zM66 419h1v1h-1zM67 419h1v1h-1zM41 420h1v1h-1zM42 420h1v1h-1zM49 420h1v1h-1zM55 420h1v1h-1zM56 420h1v1h-1zM64 420h1v1h-1zM65 420h1v1h-1zM50 421h1v1h-1zM59 421h1v1h-1zM65 421h1v1h-1zM45 422h1v1h-1zM46 422h1v1h-1zM48 422h1v1h-1zM53 422h1v1h-1zM43 423h1v1h-1zM45 423h1v1h-1zM57 423h1v1h-1zM65 423h1v1h-1z"/>
<path fill="#000" d="M220 349h1v1h-1zM203 350h1v1h-1zM201 351h1v1h-1zM214 351h1v1h-1zM223 352h1v1h-1zM226 352h1v1h-1zM236 352h1v1h-1zM200 353h1v1h-1zM203 353h1v1h-1zM207 353h1v1h-1zM219 353h1v1h-1zM225 353h1v1h-1zM209 354h1v1h-1zM210 354h1v1h-1zM212 354h1v1h-1zM219 354h1v1h-1zM234 354h1v1h-1zM180 355h1v1h-1zM201 355h1v1h-1zM217 355h1v1h-1zM223 355h1v1h-1zM172 356h1v1h-1zM197 356h1v1h-1zM215 356h1v1h-1zM219 356h1v1h-1zM224 356h1v1h-1zM228 356h1v1h-1zM202 357h1v1h-1zM208 357h1v1h-1zM230 357h1v1h-1zM200 358h1v1h-1zM202 358h1v1h-1zM209 358h1v1h-1zM210 358h1v1h-1zM213 358h1v1h-1zM214 358h1v1h-1zM230 358h1v1h-1zM211 359h1v1h-1zM217 359h1v1h-1zM219 359h1v1h-1zM227 359h1v1h-1zM230 359h1v1h-1zM232 359h1v1h-1zM211 360h1v1h-1zM213 360h1v1h-1zM219 360h1v1h-1zM223 360h1v1h-1zM237 360h1v1h-1zM171 361h1v1h-1zM214 361h1v1h-1zM220 361h1v1h-1zM232 361h1v1h-1zM200 362h1v1h-1zM211 362h1v1h-1zM217 362h1v1h-1zM227 362h1v1h-1zM199 363h1v1h-1zM204 363h1v1h-1zM211 363h1v1h-1zM220 363h1v1h-1zM221 363h1v1h-1zM177 364h1v1h-1zM201 364h1v1h-1zM207 364h1v1h-1zM211 364h1v1h-1zM212 364h1v1h-1zM215 364h1v1h-1zM223 364h1v1h-1zM230 364h1v1h-1zM231 364h1v1h-1zM196 365h1v1h-1zM220 365h1v1h-1zM223 365h1v1h-1zM227 365h1v1h-1zM206 366h1v1h-1zM207 366h1v1h-1zM215 366h1v1h-1zM219 366h1v1h-1zM220 366h1v1h-1zM224 366h1v1h-1zM226 366h1v1h-1zM227 366h1v1h-1zM230 366h1v1h-1zM194 367h1v1h-1zM200 367h1v1h-1zM208 367h1v1h-1zM213 367h1v1h-1zM217 367h1v1h-1zM218 367h1v1h-1zM220 367h1v1h-1zM225 367h1v1h-1zM213 368h1v1h-1zM215 368h1v1h-1zM216 368h1v1h-1zM219 368h1v1h-1zM220 368h1v1h-1zM224 368h1v1h-1zM210 369h1v1h-1zM212 369h1v1h-1zM214 369h1v1h-1zM225 369h1v1h-1zM170 370h1v1h-1zM212 370h1v1h-1zM213 370h1v1h-1zM217 370h1v1h-1zM218 370h1v1h-1zM220 370h1v1h-1zM223 370h1v1h-1zM182 371h1v1h-1zM211 371h1v1h-1zM213 371h1v1h-1zM214 371h1v1h-1zM221 371h1v1h-1zM234 371h1v1h-1zM196 372h1v1h-1zM200 372h1v1h-1zM206 372h1v1h-1zM226 372h1v1h-1zM198 373h1v1h-1zM208 373h1v1h-1zM211 373h1v1h-1zM214 373h1v1h-1zM216 373h1v1h-1zM219 373h1v1h-1zM203 374h1v1h-1zM215 374h1v1h-1zM217 374h1v1h-1zM218 374h1v1h-1zM200 375h1v1h-1zM203 375h1v1h-1zM205 375h1v1h-1zM209 375h1v1h-1zM214 375h1v1h-1zM215 375h1v1h-1zM220 375h1v1h-1zM221 375h1v1h-1zM224 375h1v1h-1zM200 376h1v1h-1zM201 376h1v1h-1zM205 376h1v1h-1zM206 376h1v1h-1zM209 376h1v1h-1zM214 376h1v1h-1zM220 376h1v1h-1zM223 376h1v1h-1zM229 376h1v1h-1zM170 377h1v1h-1zM203 377h1v1h-1zM204 377h1v1h-1zM205 377h1v1h-1zM208 377h1v1h-1zM210 377h1v1h-1zM211 377h1v1h-1zM212 377h1v1h-1zM213 377h1v1h-1zM214 377h1v1h-1zM218 377h1v1h-1zM223 377h1v1h-1zM153 378h1v1h-1zM198 378h1v1h-1zM201 378h1v1h-1zM206 378h1v1h-1zM207 378h1v1h-1zM208 378h1v1h-1zM209 378h1v1h-1zM211 378h1v1h-1zM212 378h1v1h-1zM213 378h1v1h-1zM215 378h1v1h-1zM216 378h1v1h-1zM217 378h1v1h-1zM218 378h1v1h-1zM219 378h1v1h-1zM171 379h1v1h-1zM196 379h1v1h-1zM197 379h1v1h-1zM199 379h1v1h-1zM200 379h1v1h-1zM202 379h1v1h-1zM205 379h1v1h-1zM207 379h1v1h-1zM211 379h1v1h-1zM212 379h1v1h-1zM213 379h1v1h-1zM214 379h1v1h-1zM215 379h1v1h-1zM216 379h1v1h-1zM218 379h1v1h-1zM219 379h1v1h-1zM226 379h1v1h-1zM227 379h1v1h-1zM231 379h1v1h-1zM164 380h1v1h-1zM176 380h1v1h-1zM188 380h1v1h-1zM198 380h1v1h-1zM202 380h1v1h-1zM203 380h1v1h-1zM204 380h1v1h-1zM205 380h1v1h-1zM206 380h1v1h-1zM207 380h1v1h-1zM213 380h1v1h-1zM214 380h1v1h-1zM217 380h1v1h-1zM222 380h1v1h-1zM225 380h1v1h-1zM174 381h1v1h-1zM176 381h1v1h-1zM179 381h1v1h-1zM198 381h1v1h-1zM199 381h1v1h-1zM200 381h1v1h-1zM201 381h1v1h-1zM204 381h1v1h-1zM205 381h1v1h-1zM208 381h1v1h-1zM210 381h1v1h-1zM212 381h1v1h-1zM214 381h1v1h-1zM216 381h1v1h-1zM221 381h1v1h-1zM224 381h1v1h-1zM225 381h1v1h-1zM163 382h1v1h-1zM173 382h1v1h-1zM174 382h1v1h-1zM187 382h1v1h-1zM195 382h1v1h-1zM198 382h1v1h-1zM200 382h1v1h-1zM201 382h1v1h-1zM203 382h1v1h-1zM204 382h1v1h-1zM205 382h1v1h-1zM206 382h1v1h-1zM207 382h1v1h-1zM208 382h1v1h-1zM209 382h1v1h-1zM210 382h1v1h-1zM211 382h1v1h-1zM212 382h1v1h-1zM213 382h1v1h-1zM214 382h1v1h-1zM220 382h1v1h-1zM223 382h1v1h-1zM227 382h1v1h-1zM230 382h1v1h-1zM173 383h1v1h-1zM180 383h1v1h-1zM181 383h1v1h-1zM192 383h1v1h-1zM195 383h1v1h-1zM199 383h1v1h-1zM204 383h1v1h-1zM206 383h1v1h-1zM207 383h1v1h-1zM208 383h1v1h-1zM209 383h1v1h-1zM210 383h1v1h-1zM212 383h1v1h-1zM213 383h1v1h-1zM215 383h1v1h-1zM216 383h1v1h-1zM220 383h1v1h-1zM168 384h1v1h-1zM169 384h1v1h-1zM179 384h1v1h-1zM180 384h1v1h-1zM193 384h1v1h-1zM197 384h1v1h-1zM200 384h1v1h-1zM202 384h1v1h-1zM203 384h1v1h-1zM204 384h1v1h-1zM205 384h1v1h-1zM206 384h1v1h-1zM207 384h1v1h-1zM208 384h1v1h-1zM209 384h1v1h-1zM210 384h1v1h-1zM211 384h1v1h-1zM212 384h1v1h-1zM216 384h1v1h-1zM158 385h1v1h-1zM163 385h1v1h-1zM169 385h1v1h-1zM173 385h1v1h-1zM177 385h1v1h-1zM179 385h1v1h-1zM192 385h1v1h-1zM194 385h1v1h-1zM198 385h1v1h-1zM199 385h1v1h-1zM202 385h1v1h-1zM203 385h1v1h-1zM204 385h1v1h-1zM205 385h1v1h-1zM206 385h1v1h-1zM207 385h1v1h-1zM209 385h1v1h-1zM212 385h1v1h-1zM215 385h1v1h-1zM218 385h1v1h-1zM220 385h1v1h-1zM162 386h1v1h-1zM169 386h1v1h-1zM170 386h1v1h-1zM172 386h1v1h-1zM175 386h1v1h-1zM177 386h1v1h-1zM178 386h1v1h-1zM179 386h1v1h-1zM195 386h1v1h-1zM197 386h1v1h-1zM199 386h1v1h-1zM201 386h1v1h-1zM202 386h1v1h-1zM204 386h1v1h-1zM205 386h1v1h-1zM206 386h1v1h-1zM207 386h1v1h-1zM209 386h1v1h-1zM210 386h1v1h-1zM211 386h1v1h-1zM212 386h1v1h-1zM213 386h1v1h-1zM214 386h1v1h-1zM216 386h1v1h-1zM217 386h1v1h-1zM218 386h1v1h-1zM160 387h1v1h-1zM161 387h1v1h-1zM163 387h1v1h-1zM166 387h1v1h-1zM168 387h1v1h-1zM169 387h1v1h-1zM172 387h1v1h-1zM175 387h1v1h-1zM177 387h1v1h-1zM179 387h1v1h-1zM186 387h1v1h-1zM191 387h1v1h-1zM194 387h1v1h-1zM195 387h1v1h-1zM199 387h1v1h-1zM201 387h1v1h-1zM202 387h1v1h-1zM204 387h1v1h-1zM206 387h1v1h-1zM208 387h1v1h-1zM209 387h1v1h-1zM213 387h1v1h-1zM214 387h1v1h-1zM215 387h1v1h-1zM217 387h1v1h-1zM218 387h1v1h-1zM161 388h1v1h-1zM163 388h1v1h-1zM165 388h1v1h-1zM166 388h1v1h-1zM169 388h1v1h-1zM171 388h1v1h-1zM172 388h1v1h-1zM173 388h1v1h-1zM174 388h1v1h-1zM176 388h1v1h-1zM181 388h1v1h-1zM184 388h1v1h-1zM187 388h1v1h-1zM192 388h1v1h-1zM194 388h1v1h-1zM197 388h1v1h-1zM200 388h1v1h-1zM203 388h1v1h-1zM204 388h1v1h-1zM205 388h1v1h-1zM206 388h1v1h-1zM207 388h1v1h-1zM208 388h1v1h-1zM209 388h1v1h-1zM211 388h1v1h-1zM212 388h1v1h-1zM213 388h1v1h-1zM214 388h1v1h-1zM217 388h1v1h-1zM218 388h1v1h-1zM223 388h1v1h-1zM153 389h1v1h-1zM155 389h1v1h-1zM160 389h1v1h-1zM168 389h1v1h-1zM170 389h1v1h-1zM172 389h1v1h-1zM175 389h1v1h-1zM176 389h1v1h-1zM178 389h1v1h-1zM181 389h1v1h-1zM185 389h1v1h-1zM191 389h1v1h-1zM196 389h1v1h-1zM197 389h1v1h-1zM198 389h1v1h-1zM199 389h1v1h-1zM202 389h1v1h-1zM203 389h1v1h-1zM204 389h1v1h-1zM205 389h1v1h-1zM207 389h1v1h-1zM208 389h1v1h-1zM209 389h1v1h-1zM210 389h1v1h-1zM211 389h1v1h-1zM212 389h1v1h-1zM213 389h1v1h-1zM216 389h1v1h-1zM217 389h1v1h-1zM163 390h1v1h-1zM166 390h1v1h-1zM167 390h1v1h-1zM168 390h1v1h-1zM169 390h1v1h-1zM170 390h1v1h-1zM174 390h1v1h-1zM175 390h1v1h-1zM176 390h1v1h-1zM178 390h1v1h-1zM179 390h1v1h-1zM182 390h1v1h-1zM188 390h1v1h-1zM195 390h1v1h-1zM198 390h1v1h-1zM199 390h1v1h-1zM200 390h1v1h-1zM201 390h1v1h-1zM202 390h1v1h-1zM203 390h1v1h-1zM204 390h1v1h-1zM205 390h1v1h-1zM207 390h1v1h-1zM209 390h1v1h-1zM210 390h1v1h-1zM211 390h1v1h-1zM213 390h1v1h-1zM216 390h1v1h-1zM217 390h1v1h-1zM229 390h1v1h-1zM162 391h1v1h-1zM167 391h1v1h-1zM169 391h1v1h-1zM171 391h1v1h-1zM172 391h1v1h-1zM173 391h1v1h-1zM175 391h1v1h-1zM179 391h1v1h-1zM181 391h1v1h-1zM184 391h1v1h-1zM185 391h1v1h-1zM190 391h1v1h-1zM195 391h1v1h-1zM196 391h1v1h-1zM198 391h1v1h-1zM201 391h1v1h-1zM202 391h1v1h-1zM203 391h1v1h-1zM204 391h1v1h-1zM205 391h1v1h-1zM206 391h1v1h-1zM207 391h1v1h-1zM208 391h1v1h-1zM209 391h1v1h-1zM210 391h1v1h-1zM212 391h1v1h-1zM213 391h1v1h-1zM214 391h1v1h-1zM163 392h1v1h-1zM164 392h1v1h-1zM166 392h1v1h-1zM168 392h1v1h-1zM169 392h1v1h-1zM171 392h1v1h-1zM173 392h1v1h-1zM174 392h1v1h-1zM176 392h1v1h-1zM177 392h1v1h-1zM178 392h1v1h-1zM180 392h1v1h-1zM182 392h1v1h-1zM193 392h1v1h-1zM194 392h1v1h-1zM197 392h1v1h-1zM198 392h1v1h-1zM199 392h1v1h-1zM200 392h1v1h-1zM202 392h1v1h-1zM203 392h1v1h-1zM204 392h1v1h-1zM205 392h1v1h-1zM206 392h1v1h-1zM207 392h1v1h-1zM208 392h1v1h-1zM209 392h1v1h-1zM210 392h1v1h-1zM211 392h1v1h-1zM214 392h1v1h-1zM215 392h1v1h-1zM154 393h1v1h-1zM157 393h1v1h-1zM163 393h1v1h-1zM166 393h1v1h-1zM170 393h1v1h-1zM171 393h1v1h-1zM175 393h1v1h-1zM176 393h1v1h-1zM177 393h1v1h-1zM181 393h1v1h-1zM182 393h1v1h-1zM183 393h1v1h-1zM184 393h1v1h-1zM186 393h1v1h-1zM195 393h1v1h-1zM198 393h1v1h-1zM205 393h1v1h-1zM207 393h1v1h-1zM208 393h1v1h-1zM210 393h1v1h-1zM211 393h1v1h-1zM212 393h1v1h-1zM213 393h1v1h-1zM215 393h1v1h-1zM220 393h1v1h-1zM157 394h1v1h-1zM158 394h1v1h-1zM163 394h1v1h-1zM166 394h1v1h-1zM167 394h1v1h-1zM168 394h1v1h-1zM170 394h1v1h-1zM171 394h1v1h-1zM172 394h1v1h-1zM173 394h1v1h-1zM174 394h1v1h-1zM176 394h1v1h-1zM177 394h1v1h-1zM178 394h1v1h-1zM179 394h1v1h-1zM180 394h1v1h-1zM182 394h1v1h-1zM184 394h1v1h-1zM194 394h1v1h-1zM195 394h1v1h-1zM197 394h1v1h-1zM200 394h1v1h-1zM201 394h1v1h-1zM204 394h1v1h-1zM206 394h1v1h-1zM207 394h1v1h-1zM208 394h1v1h-1zM209 394h1v1h-1zM211 394h1v1h-1zM214 394h1v1h-1zM217 394h1v1h-1zM160 395h1v1h-1zM161 395h1v1h-1zM162 395h1v1h-1zM164 395h1v1h-1zM166 395h1v1h-1zM167 395h1v1h-1zM168 395h1v1h-1zM169 395h1v1h-1zM170 395h1v1h-1zM171 395h1v1h-1zM172 395h1v1h-1zM173 395h1v1h-1zM174 395h1v1h-1zM175 395h1v1h-1zM176 395h1v1h-1zM177 395h1v1h-1zM178 395h1v1h-1zM180 395h1v1h-1zM183 395h1v1h-1zM190 395h1v1h-1zM196 395h1v1h-1zM197 395h1v1h-1zM198 395h1v1h-1zM199 395h1v1h-1zM204 395h1v1h-1zM205 395h1v1h-1zM207 395h1v1h-1zM208 395h1v1h-1zM210 395h1v1h-1zM215 395h1v1h-1zM225 395h1v1h-1zM158 396h1v1h-1zM159 396h1v1h-1zM162 396h1v1h-1zM163 396h1v1h-1zM164 396h1v1h-1zM165 396h1v1h-1zM166 396h1v1h-1zM167 396h1v1h-1zM168 396h1v1h-1zM169 396h1v1h-1zM170 396h1v1h-1zM172 396h1v1h-1zM173 396h1v1h-1zM174 396h1v1h-1zM175 396h1v1h-1zM176 396h1v1h-1zM177 396h1v1h-1zM178 396h1v1h-1zM179 396h1v1h-1zM181 396h1v1h-1zM183 396h1v1h-1zM189 396h1v1h-1zM194 396h1v1h-1zM195 396h1v1h-1zM201 396h1v1h-1zM204 396h1v1h-1zM205 396h1v1h-1zM209 396h1v1h-1zM210 396h1v1h-1zM214 396h1v1h-1zM217 396h1v1h-1zM154 397h1v1h-1zM161 397h1v1h-1zM166 397h1v1h-1zM167 397h1v1h-1zM168 397h1v1h-1zM169 397h1v1h-1zM170 397h1v1h-1zM171 397h1v1h-1zM172 397h1v1h-1zM173 397h1v1h-1zM174 397h1v1h-1zM176 397h1v1h-1zM178 397h1v1h-1zM179 397h1v1h-1zM180 397h1v1h-1zM182 397h1v1h-1zM186 397h1v1h-1zM196 397h1v1h-1zM206 397h1v1h-1zM209 397h1v1h-1zM210 397h1v1h-1zM211 397h1v1h-1zM159 398h1v1h-1zM161 398h1v1h-1zM162 398h1v1h-1zM163 398h1v1h-1zM166 398h1v1h-1zM167 398h1v1h-1zM170 398h1v1h-1zM172 398h1v1h-1zM173 398h1v1h-1zM174 398h1v1h-1zM175 398h1v1h-1zM176 398h1v1h-1zM177 398h1v1h-1zM179 398h1v1h-1zM180 398h1v1h-1zM182 398h1v1h-1zM183 398h1v1h-1zM187 398h1v1h-1zM201 398h1v1h-1zM203 398h1v1h-1zM207 398h1v1h-1zM208 398h1v1h-1zM210 398h1v1h-1zM212 398h1v1h-1zM213 398h1v1h-1zM214 398h1v1h-1zM217 398h1v1h-1zM159 399h1v1h-1zM162 399h1v1h-1zM163 399h1v1h-1zM164 399h1v1h-1zM166 399h1v1h-1zM167 399h1v1h-1zM168 399h1v1h-1zM169 399h1v1h-1zM170 399h1v1h-1zM171 399h1v1h-1zM172 399h1v1h-1zM175 399h1v1h-1zM177 399h1v1h-1zM179 399h1v1h-1zM180 399h1v1h-1zM181 399h1v1h-1zM183 399h1v1h-1zM185 399h1v1h-1zM196 399h1v1h-1zM198 399h1v1h-1zM200 399h1v1h-1zM208 399h1v1h-1zM212 399h1v1h-1zM160 400h1v1h-1zM161 400h1v1h-1zM164 400h1v1h-1zM166 400h1v1h-1zM167 400h1v1h-1zM168 400h1v1h-1zM169 400h1v1h-1zM170 400h1v1h-1zM173 400h1v1h-1zM174 400h1v1h-1zM175 400h1v1h-1zM176 400h1v1h-1zM177 400h1v1h-1zM178 400h1v1h-1zM179 400h1v1h-1zM180 400h1v1h-1zM181 400h1v1h-1zM182 400h1v1h-1zM184 400h1v1h-1zM192 400h1v1h-1zM195 400h1v1h-1zM205 400h1v1h-1zM212 400h1v1h-1zM158 401h1v1h-1zM159 401h1v1h-1zM160 401h1v1h-1zM161 401h1v1h-1zM162 401h1v1h-1zM165 401h1v1h-1zM166 401h1v1h-1zM167 401h1v1h-1zM169 401h1v1h-1zM170 401h1v1h-1zM171 401h1v1h-1zM172 401h1v1h-1zM173 401h1v1h-1zM174 401h1v1h-1zM175 401h1v1h-1zM177 401h1v1h-1zM181 401h1v1h-1zM183 401h1v1h-1zM184 401h1v1h-1zM192 401h1v1h-1zM200 401h1v1h-1zM201 401h1v1h-1zM202 401h1v1h-1zM205 401h1v1h-1zM206 401h1v1h-1zM218 401h1v1h-1zM155 402h1v1h-1zM156 402h1v1h-1zM157 402h1v1h-1zM158 402h1v1h-1zM159 402h1v1h-1zM160 402h1v1h-1zM162 402h1v1h-1zM163 402h1v1h-1zM164 402h1v1h-1zM165 402h1v1h-1zM166 402h1v1h-1zM167 402h1v1h-1zM168 402h1v1h-1zM169 402h1v1h-1zM170 402h1v1h-1zM171 402h1v1h-1zM172 402h1v1h-1zM173 402h1v1h-1zM174 402h1v1h-1zM175 402h1v1h-1zM176 402h1v1h-1zM177 402h1v1h-1zM178 402h1v1h-1zM179 402h1v1h-1zM180 402h1v1h-1zM181 402h1v1h-1zM185 402h1v1h-1zM189 402h1v1h-1zM210 402h1v1h-1zM155 403h1v1h-1zM160 403h1v1h-1zM161 403h1v1h-1zM162 403h1v1h-1zM163 403h1v1h-1zM164 403h1v1h-1zM165 403h1v1h-1zM166 403h1v1h-1zM167 403h1v1h-1zM168 403h1v1h-1zM169 403h1v1h-1zM170 403h1v1h-1zM171 403h1v1h-1zM172 403h1v1h-1zM173 403h1v1h-1zM174 403h1v1h-1zM175 403h1v1h-1zM176 403h1v1h-1zM177 403h1v1h-1zM178 403h1v1h-1zM181 403h1v1h-1zM182 403h1v1h-1zM185 403h1v1h-1zM186 403h1v1h-1zM191 403h1v1h-1zM202 403h1v1h-1zM205 403h1v1h-1zM153 404h1v1h-1zM156 404h1v1h-1zM158 404h1v1h-1zM159 404h1v1h-1zM161 404h1v1h-1zM162 404h1v1h-1zM163 404h1v1h-1zM164 404h1v1h-1zM165 404h1v1h-1zM166 404h1v1h-1zM167 404h1v1h-1zM168 404h1v1h-1zM169 404h1v1h-1zM170 404h1v1h-1zM171 404h1v1h-1zM172 404h1v1h-1zM173 404h1v1h-1zM174 404h1v1h-1zM175 404h1v1h-1zM176 404h1v1h-1zM177 404h1v1h-1zM178 404h1v1h-1zM179 404h1v1h-1zM183 404h1v1h-1zM184 404h1v1h-1zM185 404h1v1h-1zM186 404h1v1h-1zM187 404h1v1h-1zM188 404h1v1h-1zM193 404h1v1h-1zM203 404h1v1h-1zM155 405h1v1h-1zM159 405h1v1h-1zM160 405h1v1h-1zM161 405h1v1h-1zM162 405h1v1h-1zM163 405h1v1h-1zM164 405h1v1h-1zM165 405h1v1h-1zM166 405h1v1h-1zM167 405h1v1h-1zM168 405h1v1h-1zM169 405h1v1h-1zM170 405h1v1h-1zM171 405h1v1h-1zM173 405h1v1h-1zM175 405h1v1h-1zM176 405h1v1h-1zM177 405h1v1h-1zM178 405h1v1h-1zM179 405h1v1h-1zM180 405h1v1h-1zM181 405h1v1h-1zM182 405h1v1h-1zM184 405h1v1h-1zM185 405h1v1h-1zM186 405h1v1h-1zM187 405h1v1h-1zM194 405h1v1h-1zM196 405h1v1h-1zM203 405h1v1h-1zM154 406h1v1h-1zM159 406h1v1h-1zM161 406h1v1h-1zM162 406h1v1h-1zM164 406h1v1h-1zM165 406h1v1h-1zM166 406h1v1h-1zM167 406h1v1h-1zM168 406h1v1h-1zM169 406h1v1h-1zM170 406h1v1h-1zM171 406h1v1h-1zM172 406h1v1h-1zM173 406h1v1h-1zM174 406h1v1h-1zM175 406h1v1h-1zM177 406h1v1h-1zM178 406h1v1h-1zM179 406h1v1h-1zM180 406h1v1h-1zM182 406h1v1h-1zM183 406h1v1h-1zM184 406h1v1h-1zM187 406h1v1h-1zM153 407h1v1h-1zM155 407h1v1h-1zM156 407h1v1h-1zM157 407h1v1h-1zM158 407h1v1h-1zM159 407h1v1h-1zM160 407h1v1h-1zM161 407h1v1h-1zM162 407h1v1h-1zM163 407h1v1h-1zM164 407h1v1h-1zM165 407h1v1h-1zM166 407h1v1h-1zM167 407h1v1h-1zM170 407h1v1h-1zM171 407h1v1h-1zM172 407h1v1h-1zM173 407h1v1h-1zM174 407h1v1h-1zM175 407h1v1h-1zM176 407h1v1h-1zM177 407h1v1h-1zM179 407h1v1h-1zM180 407h1v1h-1zM181 407h1v1h-1zM182 407h1v1h-1zM184 407h1v1h-1zM154 408h1v1h-1zM155 408h1v1h-1zM156 408h1v1h-1zM158 408h1v1h-1zM160 408h1v1h-1zM161 408h1v1h-1zM162 408h1v1h-1zM163 408h1v1h-1zM164 408h1v1h-1zM165 408h1v1h-1zM166 408h1v1h-1zM167 408h1v1h-1zM168 408h1v1h-1zM169 408h1v1h-1zM170 408h1v1h-1zM171 408h1v1h-1zM172 408h1v1h-1zM173 408h1v1h-1zM174 408h1v1h-1zM175 408h1v1h-1zM176 408h1v1h-1zM177 408h1v1h-1zM178 408h1v1h-1zM179 408h1v1h-1zM180 408h1v1h-1zM181 408h1v1h-1zM182 408h1v1h-1zM184 408h1v1h-1zM185 408h1v1h-1zM186 408h1v1h-1zM153 409h1v1h-1zM155 409h1v1h-1zM156 409h1v1h-1zM157 409h1v1h-1zM158 409h1v1h-1zM159 409h1v1h-1zM160 409h1v1h-1zM161 409h1v1h-1zM162 409h1v1h-1zM163 409h1v1h-1zM164 409h1v1h-1zM165 409h1v1h-1zM166 409h1v1h-1zM167 409h1v1h-1zM168 409h1v1h-1zM169 409h1v1h-1zM170 409h1v1h-1zM171 409h1v1h-1zM172 409h1v1h-1zM173 409h1v1h-1zM174 409h1v1h-1zM175 409h1v1h-1zM176 409h1v1h-1zM177 409h1v1h-1zM179 409h1v1h-1zM180 409h1v1h-1zM181 409h1v1h-1zM182 409h1v1h-1zM183 409h1v1h-1zM184 409h1v1h-1zM192 409h1v1h-1zM194 409h1v1h-1zM155 410h1v1h-1zM156 410h1v1h-1zM157 410h1v1h-1zM158 410h1v1h-1zM159 410h1v1h-1zM160 410h1v1h-1zM161 410h1v1h-1zM162 410h1v1h-1zM163 410h1v1h-1zM164 410h1v1h-1zM165 410h1v1h-1zM166 410h1v1h-1zM167 410h1v1h-1zM168 410h1v1h-1zM169 410h1v1h-1zM170 410h1v1h-1zM171 410h1v1h-1zM172 410h1v1h-1zM173 410h1v1h-1zM174 410h1v1h-1zM175 410h1v1h-1zM176 410h1v1h-1zM177 410h1v1h-1zM179 410h1v1h-1zM180 410h1v1h-1zM181 410h1v1h-1zM182 410h1v1h-1zM183 410h1v1h-1zM185 410h1v1h-1zM186 410h1v1h-1zM193 410h1v1h-1zM158 411h1v1h-1zM159 411h1v1h-1zM160 411h1v1h-1zM161 411h1v1h-1zM162 411h1v1h-1zM164 411h1v1h-1zM165 411h1v1h-1zM166 411h1v1h-1zM167 411h1v1h-1zM168 411h1v1h-1zM169 411h1v1h-1zM170 411h1v1h-1zM171 411h1v1h-1zM172 411h1v1h-1zM173 411h1v1h-1zM174 411h1v1h-1zM175 411h1v1h-1zM176 411h1v1h-1zM178 411h1v1h-1zM179 411h1v1h-1zM180 411h1v1h-1zM184 411h1v1h-1zM188 411h1v1h-1zM156 412h1v1h-1zM157 412h1v1h-1zM159 412h1v1h-1zM160 412h1v1h-1zM161 412h1v1h-1zM163 412h1v1h-1zM165 412h1v1h-1zM166 412h1v1h-1zM167 412h1v1h-1zM168 412h1v1h-1zM169 412h1v1h-1zM170 412h1v1h-1zM171 412h1v1h-1zM172 412h1v1h-1zM173 412h1v1h-1zM174 412h1v1h-1zM175 412h1v1h-1zM176 412h1v1h-1zM178 412h1v1h-1zM179 412h1v1h-1zM180 412h1v1h-1zM181 412h1v1h-1zM182 412h1v1h-1zM184 412h1v1h-1zM185 412h1v1h-1zM188 412h1v1h-1zM193 412h1v1h-1zM157 413h1v1h-1zM159 413h1v1h-1zM160 413h1v1h-1zM161 413h1v1h-1zM162 413h1v1h-1zM164 413h1v1h-1zM165 413h1v1h-1zM166 413h1v1h-1zM167 413h1v1h-1zM168 413h1v1h-1zM169 413h1v1h-1zM170 413h1v1h-1zM171 413h1v1h-1zM172 413h1v1h-1zM173 413h1v1h-1zM174 413h1v1h-1zM175 413h1v1h-1zM176 413h1v1h-1zM177 413h1v1h-1zM179 413h1v1h-1zM182 413h1v1h-1zM186 413h1v1h-1zM190 413h1v1h-1zM152 414h1v1h-1zM156 414h1v1h-1zM157 414h1v1h-1zM158 414h1v1h-1zM159 414h1v1h-1zM160 414h1v1h-1zM161 414h1v1h-1zM162 414h1v1h-1zM163 414h1v1h-1zM164 414h1v1h-1zM165 414h1v1h-1zM166 414h1v1h-1zM167 414h1v1h-1zM168 414h1v1h-1zM169 414h1v1h-1zM170 414h1v1h-1zM171 414h1v1h-1zM172 414h1v1h-1zM173 414h1v1h-1zM174 414h1v1h-1zM175 414h1v1h-1zM176 414h1v1h-1zM177 414h1v1h-1zM179 414h1v1h-1zM180 414h1v1h-1zM181 414h1v1h-1zM183 414h1v1h-1zM184 414h1v1h-1zM186 414h1v1h-1zM192 414h1v1h-1zM152 415h1v1h-1zM156 415h1v1h-1zM157 415h1v1h-1zM158 415h1v1h-1zM161 415h1v1h-1zM163 415h1v1h-1zM164 415h1v1h-1zM165 415h1v1h-1zM166 415h1v1h-1zM167 415h1v1h-1zM168 415h1v1h-1zM169 415h1v1h-1zM170 415h1v1h-1zM171 415h1v1h-1zM172 415h1v1h-1zM173 415h1v1h-1zM174 415h1v1h-1zM175 415h1v1h-1zM176 415h1v1h-1zM177 415h1v1h-1zM178 415h1v1h-1zM180 415h1v1h-1zM181 415h1v1h-1zM182 415h1v1h-1zM156 416h1v1h-1zM157 416h1v1h-1zM158 416h1v1h-1zM159 416h1v1h-1zM160 416h1v1h-1zM161 416h1v1h-1zM162 416h1v1h-1zM163 416h1v1h-1zM164 416h1v1h-1zM166 416h1v1h-1zM167 416h1v1h-1zM168 416h1v1h-1zM169 416h1v1h-1zM170 416h1v1h-1zM171 416h1v1h-1zM172 416h1v1h-1zM173 416h1v1h-1zM175 416h1v1h-1zM176 416h1v1h-1zM177 416h1v1h-1zM181 416h1v1h-1zM182 416h1v1h-1zM183 416h1v1h-1zM157 417h1v1h-1zM160 417h1v1h-1zM161 417h1v1h-1zM162 417h1v1h-1zM163 417h1v1h-1zM164 417h1v1h-1zM165 417h1v1h-1zM166 417h1v1h-1zM167 417h1v1h-1zM168 417h1v1h-1zM170 417h1v1h-1zM171 417h1v1h-1zM172 417h1v1h-1zM174 417h1v1h-1zM175 417h1v1h-1zM176 417h1v1h-1zM177 417h1v1h-1zM178 417h1v1h-1zM179 417h1v1h-1zM180 417h1v1h-1zM181 417h1v1h-1zM188 417h1v1h-1zM161 418h1v1h-1zM162 418h1v1h-1zM163 418h1v1h-1zM164 418h1v1h-1zM165 418h1v1h-1zM166 418h1v1h-1zM167 418h1v1h-1zM169 418h1v1h-1zM170 418h1v1h-1zM172 418h1v1h-1zM173 418h1v1h-1zM176 418h1v1h-1zM177 418h1v1h-1zM178 418h1v1h-1zM179 418h1v1h-1zM182 418h1v1h-1zM183 418h1v1h-1zM156 419h1v1h-1zM159 419h1v1h-1zM160 419h1v1h-1zM161 419h1v1h-1zM162 419h1v1h-1zM163 419h1v1h-1zM164 419h1v1h-1zM166 419h1v1h-1zM167 419h1v1h-1zM168 419h1v1h-1zM169 419h1v1h-1zM171 419h1v1h-1zM172 419h1v1h-1zM175 419h1v1h-1zM176 419h1v1h-1zM177 419h1v1h-1zM180 419h1v1h-1zM184 419h1v1h-1zM186 419h1v1h-1zM192 419h1v1h-1zM157 420h1v1h-1zM158 420h1v1h-1zM159 420h1v1h-1zM162 420h1v1h-1zM163 420h1v1h-1zM164 420h1v1h-1zM167 420h1v1h-1zM168 420h1v1h-1zM169 420h1v1h-1zM171 420h1v1h-1zM172 420h1v1h-1zM173 420h1v1h-1zM176 420h1v1h-1zM177 420h1v1h-1zM181 420h1v1h-1zM155 421h1v1h-1zM161 421h1v1h-1zM166 421h1v1h-1zM168 421h1v1h-1zM169 421h1v1h-1zM170 421h1v1h-1zM172 421h1v1h-1zM173 421h1v1h-1zM175 421h1v1h-1zM177 421h1v1h-1zM180 421h1v1h-1zM182 421h1v1h-1zM160 422h1v1h-1zM165 422h1v1h-1zM166 422h1v1h-1zM169 422h1v1h-1zM171 422h1v1h-1zM173 422h1v1h-1zM175 422h1v1h-1zM177 422h1v1h-1zM182 422h1v1h-1zM152 423h1v1h-1zM157 423h1v1h-1zM159 423h1v1h-1zM160 423h1v1h-1zM162 423h1v1h-1zM168 423h1v1h-1zM170 423h1v1h-1zM173 423h1v1h-1zM169 424h1v1h-1zM173 424h1v1h-1z"/>
<path fill="#000" d="M336 349h1v1h-1zM339 349h1v1h-1zM346 349h1v1h-1zM340 350h1v1h-1zM341 350h1v1h-1zM342 350h1v1h-1zM322 351h1v1h-1zM323 351h1v1h-1zM350 351h1v1h-1zM326 352h1v1h-1zM329 352h1v1h-1zM331 352h1v1h-1zM333 352h1v1h-1zM339 352h1v1h-1zM324 353h1v1h-1zM325 353h1v1h-1zM326 353h1v1h-1zM327 353h1v1h-1zM329 353h1v1h-1zM330 353h1v1h-1zM331 353h1v1h-1zM336 353h1v1h-1zM338 353h1v1h-1zM339 353h1v1h-1zM325 354h1v1h-1zM329 354h1v1h-1zM330 354h1v1h-1zM334 354h1v1h-1zM337 354h1v1h-1zM338 354h1v1h-1zM339 354h1v1h-1zM323 355h1v1h-1zM325 355h1v1h-1zM327 355h1v1h-1zM329 355h1v1h-1zM333 355h1v1h-1zM334 355h1v1h-1zM335 355h1v1h-1zM337 355h1v1h-1zM341 355h1v1h-1zM347 355h1v1h-1zM325 356h1v1h-1zM331 356h1v1h-1zM334 356h1v1h-1zM340 356h1v1h-1zM341 356h1v1h-1zM342 356h1v1h-1zM287 357h1v1h-1zM315 357h1v1h-1zM325 357h1v1h-1zM326 357h1v1h-1zM327 357h1v1h-1zM329 357h1v1h-1zM330 357h1v1h-1zM331 357h1v1h-1zM332 357h1v1h-1zM333 357h1v1h-1zM334 357h1v1h-1zM338 357h1v1h-1zM339 357h1v1h-1zM327 358h1v1h-1zM329 358h1v1h-1zM330 358h1v1h-1zM331 358h1v1h-1zM333 358h1v1h-1zM335 358h1v1h-1zM341 358h1v1h-1zM343 358h1v1h-1zM289 359h1v1h-1zM318 359h1v1h-1zM320 359h1v1h-1zM323 359h1v1h-1zM324 359h1v1h-1zM328 359h1v1h-1zM331 359h1v1h-1zM332 359h1v1h-1zM333 359h1v1h-1zM335 359h1v1h-1zM337 359h1v1h-1zM341 359h1v1h-1zM349 359h1v1h-1zM314 360h1v1h-1zM320 360h1v1h-1zM322 360h1v1h-1zM326 360h1v1h-1zM332 360h1v1h-1zM334 360h1v1h-1zM335 360h1v1h-1zM336 360h1v1h-1zM342 360h1v1h-1zM344 360h1v1h-1zM300 361h1v1h-1zM319 361h1v1h-1zM320 361h1v1h-1zM321 361h1v1h-1zM322 361h1v1h-1zM323 361h1v1h-1zM324 361h1v1h-1zM328 361h1v1h-1zM330 361h1v1h-1zM331 361h1v1h-1zM332 361h1v1h-1zM333 361h1v1h-1zM336 361h1v1h-1zM338 361h1v1h-1zM340 361h1v1h-1zM343 361h1v1h-1zM347 361h1v1h-1zM283 362h1v1h-1zM319 362h1v1h-1zM324 362h1v1h-1zM332 362h1v1h-1zM334 362h1v1h-1zM336 362h1v1h-1zM337 362h1v1h-1zM341 362h1v1h-1zM343 362h1v1h-1zM348 362h1v1h-1zM319 363h1v1h-1zM323 363h1v1h-1zM324 363h1v1h-1zM325 363h1v1h-1zM327 363h1v1h-1zM328 363h1v1h-1zM329 363h1v1h-1zM330 363h1v1h-1zM332 363h1v1h-1zM333 363h1v1h-1zM334 363h1v1h-1zM335 363h1v1h-1zM336 363h1v1h-1zM337 363h1v1h-1zM340 363h1v1h-1zM282 364h1v1h-1zM284 364h1v1h-1zM319 364h1v1h-1zM320 364h1v1h-1zM322 364h1v1h-1zM324 364h1v1h-1zM326 364h1v1h-1zM328 364h1v1h-1zM329 364h1v1h-1zM330 364h1v1h-1zM331 364h1v1h-1zM333 364h1v1h-1zM334 364h1v1h-1zM336 364h1v1h-1zM337 364h1v1h-1zM338 364h1v1h-1zM339 364h1v1h-1zM342 364h1v1h-1zM344 364h1v1h-1zM345 364h1v1h-1zM274 365h1v1h-1zM323 365h1v1h-1zM326 365h1v1h-1zM327 365h1v1h-1zM328 365h1v1h-1zM329 365h1v1h-1zM331 365h1v1h-1zM333 365h1v1h-1zM335 365h1v1h-1zM336 365h1v1h-1zM337 365h1v1h-1zM338 365h1v1h-1zM321 366h1v1h-1zM324 366h1v1h-1zM325 366h1v1h-1zM327 366h1v1h-1zM328 366h1v1h-1zM330 366h1v1h-1zM331 366h1v1h-1zM332 366h1v1h-1zM333 366h1v1h-1zM337 366h1v1h-1zM338 366h1v1h-1zM340 366h1v1h-1zM345 366h1v1h-1zM324 367h1v1h-1zM325 367h1v1h-1zM327 367h1v1h-1zM329 367h1v1h-1zM330 367h1v1h-1zM331 367h1v1h-1zM332 367h1v1h-1zM334 367h1v1h-1zM335 367h1v1h-1zM337 367h1v1h-1zM339 367h1v1h-1zM340 367h1v1h-1zM343 367h1v1h-1zM295 368h1v1h-1zM303 368h1v1h-1zM322 368h1v1h-1zM326 368h1v1h-1zM327 368h1v1h-1zM329 368h1v1h-1zM330 368h1v1h-1zM331 368h1v1h-1zM333 368h1v1h-1zM337 368h1v1h-1zM339 368h1v1h-1zM340 368h1v1h-1zM342 368h1v1h-1zM278 369h1v1h-1zM285 369h1v1h-1zM286 369h1v1h-1zM324 369h1v1h-1zM325 369h1v1h-1zM326 369h1v1h-1zM327 369h1v1h-1zM328 369h1v1h-1zM329 369h1v1h-1zM332 369h1v1h-1zM333 369h1v1h-1zM334 369h1v1h-1zM335 369h1v1h-1zM336 369h1v1h-1zM338 369h1v1h-1zM339 369h1v1h-1zM342 369h1v1h-1zM344 369h1v1h-1zM316 370h1v1h-1zM325 370h1v1h-1zM326 370h1v1h-1zM328 370h1v1h-1zM329 370h1v1h-1zM330 370h1v1h-1zM332 370h1v1h-1zM333 370h1v1h-1zM334 370h1v1h-1zM336 370h1v1h-1zM338 370h1v1h-1zM339 370h1v1h-1zM341 370h1v1h-1zM272 371h1v1h-1zM280 371h1v1h-1zM293 371h1v1h-1zM322 371h1v1h-1zM324 371h1v1h-1zM328 371h1v1h-1zM329 371h1v1h-1zM331 371h1v1h-1zM333 371h1v1h-1zM336 371h1v1h-1zM337 371h1v1h-1zM340 371h1v1h-1zM341 371h1v1h-1zM268 372h1v1h-1zM302 372h1v1h-1zM313 372h1v1h-1zM320 372h1v1h-1zM321 372h1v1h-1zM323 372h1v1h-1zM325 372h1v1h-1zM326 372h1v1h-1zM328 372h1v1h-1zM330 372h1v1h-1zM331 372h1v1h-1zM332 372h1v1h-1zM334 372h1v1h-1zM339 372h1v1h-1zM340 372h1v1h-1zM277 373h1v1h-1zM281 373h1v1h-1zM290 373h1v1h-1zM293 373h1v1h-1zM298 373h1v1h-1zM307 373h1v1h-1zM308 373h1v1h-1zM315 373h1v1h-1zM316 373h1v1h-1zM321 373h1v1h-1zM323 373h1v1h-1zM326 373h1v1h-1zM329 373h1v1h-1zM330 373h1v1h-1zM333 373h1v1h-1zM334 373h1v1h-1zM337 373h1v1h-1zM339 373h1v1h-1zM340 373h1v1h-1zM341 373h1v1h-1zM342 373h1v1h-1zM348 373h1v1h-1zM280 374h1v1h-1zM281 374h1v1h-1zM287 374h1v1h-1zM291 374h1v1h-1zM292 374h1v1h-1zM293 374h1v1h-1zM294 374h1v1h-1zM314 374h1v1h-1zM315 374h1v1h-1zM318 374h1v1h-1zM320 374h1v1h-1zM322 374h1v1h-1zM324 374h1v1h-1zM325 374h1v1h-1zM327 374h1v1h-1zM328 374h1v1h-1zM329 374h1v1h-1zM330 374h1v1h-1zM332 374h1v1h-1zM334 374h1v1h-1zM335 374h1v1h-1zM336 374h1v1h-1zM341 374h1v1h-1zM342 374h1v1h-1zM275 375h1v1h-1zM278 375h1v1h-1zM292 375h1v1h-1zM294 375h1v1h-1zM314 375h1v1h-1zM317 375h1v1h-1zM323 375h1v1h-1zM324 375h1v1h-1zM326 375h1v1h-1zM327 375h1v1h-1zM328 375h1v1h-1zM329 375h1v1h-1zM330 375h1v1h-1zM332 375h1v1h-1zM333 375h1v1h-1zM334 375h1v1h-1zM335 375h1v1h-1zM337 375h1v1h-1zM341 375h1v1h-1zM346 375h1v1h-1zM269 376h1v1h-1zM273 376h1v1h-1zM278 376h1v1h-1zM283 376h1v1h-1zM289 376h1v1h-1zM297 376h1v1h-1zM301 376h1v1h-1zM308 376h1v1h-1zM310 376h1v1h-1zM312 376h1v1h-1zM313 376h1v1h-1zM314 376h1v1h-1zM316 376h1v1h-1zM319 376h1v1h-1zM320 376h1v1h-1zM323 376h1v1h-1zM326 376h1v1h-1zM327 376h1v1h-1zM328 376h1v1h-1zM329 376h1v1h-1zM330 376h1v1h-1zM331 376h1v1h-1zM332 376h1v1h-1zM335 376h1v1h-1zM339 376h1v1h-1zM340 376h1v1h-1zM341 376h1v1h-1zM344 376h1v1h-1zM269 377h1v1h-1zM275 377h1v1h-1zM277 377h1v1h-1zM279 377h1v1h-1zM280 377h1v1h-1zM292 377h1v1h-1zM296 377h1v1h-1zM311 377h1v1h-1zM318 377h1v1h-1zM320 377h1v1h-1zM321 377h1v1h-1zM323 377h1v1h-1zM326 377h1v1h-1zM327 377h1v1h-1zM329 377h1v1h-1zM332 377h1v1h-1zM333 377h1v1h-1zM336 377h1v1h-1zM341 377h1v1h-1zM344 377h1v1h-1zM266 378h1v1h-1zM268 378h1v1h-1zM269 378h1v1h-1zM273 378h1v1h-1zM276 378h1v1h-1zM284 378h1v1h-1zM288 378h1v1h-1zM289 378h1v1h-1zM290 378h1v1h-1zM291 378h1v1h-1zM293 378h1v1h-1zM303 378h1v1h-1zM305 378h1v1h-1zM306 378h1v1h-1zM307 378h1v1h-1zM309 378h1v1h-1zM312 378h1v1h-1zM319 378h1v1h-1zM320 378h1v1h-1zM321 378h1v1h-1zM322 378h1v1h-1zM323 378h1v1h-1zM325 378h1v1h-1zM326 378h1v1h-1zM327 378h1v1h-1zM328 378h1v1h-1zM332 378h1v1h-1zM333 378h1v1h-1zM340 378h1v1h-1zM269 379h1v1h-1zM272 379h1v1h-1zM282 379h1v1h-1zM284 379h1v1h-1zM285 379h1v1h-1zM286 379h1v1h-1zM289 379h1v1h-1zM290 379h1v1h-1zM293 379h1v1h-1zM297 379h1v1h-1zM301 379h1v1h-1zM303 379h1v1h-1zM308 379h1v1h-1zM309 379h1v1h-1zM312 379h1v1h-1zM315 379h1v1h-1zM316 379h1v1h-1zM318 379h1v1h-1zM319 379h1v1h-1zM320 379h1v1h-1zM321 379h1v1h-1zM322 379h1v1h-1zM323 379h1v1h-1zM324 379h1v1h-1zM325 379h1v1h-1zM326 379h1v1h-1zM327 379h1v1h-1zM329 379h1v1h-1zM330 379h1v1h-1zM332 379h1v1h-1zM334 379h1v1h-1zM269 380h1v1h-1zM278 380h1v1h-1zM281 380h1v1h-1zM282 380h1v1h-1zM286 380h1v1h-1zM292 380h1v1h-1zM293 380h1v1h-1zM296 380h1v1h-1zM300 380h1v1h-1zM302 380h1v1h-1zM305 380h1v1h-1zM307 380h1v1h-1zM310 380h1v1h-1zM312 380h1v1h-1zM315 380h1v1h-1zM317 380h1v1h-1zM318 380h1v1h-1zM320 380h1v1h-1zM322 380h1v1h-1zM324 380h1v1h-1zM325 380h1v1h-1zM326 380h1v1h-1zM330 380h1v1h-1zM333 380h1v1h-1zM334 380h1v1h-1zM335 380h1v1h-1zM268 381h1v1h-1zM274 381h1v1h-1zM281 381h1v1h-1zM283 381h1v1h-1zM285 381h1v1h-1zM290 381h1v1h-1zM294 381h1v1h-1zM295 381h1v1h-1zM296 381h1v1h-1zM301 381h1v1h-1zM303 381h1v1h-1zM304 381h1v1h-1zM308 381h1v1h-1zM311 381h1v1h-1zM312 381h1v1h-1zM313 381h1v1h-1zM315 381h1v1h-1zM316 381h1v1h-1zM318 381h1v1h-1zM319 381h1v1h-1zM324 381h1v1h-1zM326 381h1v1h-1zM327 381h1v1h-1zM328 381h1v1h-1zM329 381h1v1h-1zM331 381h1v1h-1zM336 381h1v1h-1zM266 382h1v1h-1zM268 382h1v1h-1zM271 382h1v1h-1zM273 382h1v1h-1zM275 382h1v1h-1zM280 382h1v1h-1zM283 382h1v1h-1zM284 382h1v1h-1zM285 382h1v1h-1zM286 382h1v1h-1zM288 382h1v1h-1zM290 382h1v1h-1zM296 382h1v1h-1zM299 382h1v1h-1zM303 382h1v1h-1zM307 382h1v1h-1zM309 382h1v1h-1zM310 382h1v1h-1zM315 382h1v1h-1zM317 382h1v1h-1zM320 382h1v1h-1zM321 382h1v1h-1zM322 382h1v1h-1zM323 382h1v1h-1zM324 382h1v1h-1zM325 382h1v1h-1zM328 382h1v1h-1zM330 382h1v1h-1zM332 382h1v1h-1zM334 382h1v1h-1zM268 383h1v1h-1zM269 383h1v1h-1zM274 383h1v1h-1zM275 383h1v1h-1zM278 383h1v1h-1zM279 383h1v1h-1zM280 383h1v1h-1zM282 383h1v1h-1zM286 383h1v1h-1zM288 383h1v1h-1zM290 383h1v1h-1zM291 383h1v1h-1zM292 383h1v1h-1zM295 383h1v1h-1zM297 383h1v1h-1zM298 383h1v1h-1zM307 383h1v1h-1zM308 383h1v1h-1zM309 383h1v1h-1zM311 383h1v1h-1zM313 383h1v1h-1zM314 383h1v1h-1zM315 383h1v1h-1zM319 383h1v1h-1zM321 383h1v1h-1zM322 383h1v1h-1zM323 383h1v1h-1zM324 383h1v1h-1zM326 383h1v1h-1zM327 383h1v1h-1zM329 383h1v1h-1zM330 383h1v1h-1zM332 383h1v1h-1zM333 383h1v1h-1zM269 384h1v1h-1zM274 384h1v1h-1zM275 384h1v1h-1zM277 384h1v1h-1zM278 384h1v1h-1zM279 384h1v1h-1zM280 384h1v1h-1zM285 384h1v1h-1zM286 384h1v1h-1zM288 384h1v1h-1zM289 384h1v1h-1zM290 384h1v1h-1zM291 384h1v1h-1zM292 384h1v1h-1zM296 384h1v1h-1zM305 384h1v1h-1zM309 384h1v1h-1zM310 384h1v1h-1zM311 384h1v1h-1zM313 384h1v1h-1zM315 384h1v1h-1zM316 384h1v1h-1zM321 384h1v1h-1zM323 384h1v1h-1zM324 384h1v1h-1zM325 384h1v1h-1zM326 384h1v1h-1zM328 384h1v1h-1zM331 384h1v1h-1zM333 384h1v1h-1zM266 385h1v1h-1zM268 385h1v1h-1zM269 385h1v1h-1zM270 385h1v1h-1zM271 385h1v1h-1zM272 385h1v1h-1zM274 385h1v1h-1zM277 385h1v1h-1zM278 385h1v1h-1zM279 385h1v1h-1zM280 385h1v1h-1zM281 385h1v1h-1zM282 385h1v1h-1zM283 385h1v1h-1zM284 385h1v1h-1zM285 385h1v1h-1zM288 385h1v1h-1zM289 385h1v1h-1zM290 385h1v1h-1zM292 385h1v1h-1zM294 385h1v1h-1zM295 385h1v1h-1zM301 385h1v1h-1zM304 385h1v1h-1zM306 385h1v1h-1zM308 385h1v1h-1zM309 385h1v1h-1zM310 385h1v1h-1zM313 385h1v1h-1zM314 385h1v1h-1zM315 385h1v1h-1zM317 385h1v1h-1zM318 385h1v1h-1zM319 385h1v1h-1zM320 385h1v1h-1zM321 385h1v1h-1zM323 385h1v1h-1zM325 385h1v1h-1zM327 385h1v1h-1zM330 385h1v1h-1zM337 385h1v1h-1zM339 385h1v1h-1zM268 386h1v1h-1zM270 386h1v1h-1zM271 386h1v1h-1zM275 386h1v1h-1zM276 386h1v1h-1zM277 386h1v1h-1zM278 386h1v1h-1zM279 386h1v1h-1zM282 386h1v1h-1zM283 386h1v1h-1zM284 386h1v1h-1zM285 386h1v1h-1zM289 386h1v1h-1zM290 386h1v1h-1zM291 386h1v1h-1zM292 386h1v1h-1zM294 386h1v1h-1zM295 386h1v1h-1zM296 386h1v1h-1zM298 386h1v1h-1zM300 386h1v1h-1zM302 386h1v1h-1zM303 386h1v1h-1zM304 386h1v1h-1zM305 386h1v1h-1zM307 386h1v1h-1zM308 386h1v1h-1zM311 386h1v1h-1zM312 386h1v1h-1zM313 386h1v1h-1zM317 386h1v1h-1zM318 386h1v1h-1zM319 386h1v1h-1zM321 386h1v1h-1zM331 386h1v1h-1zM334 386h1v1h-1zM268 387h1v1h-1zM270 387h1v1h-1zM273 387h1v1h-1zM276 387h1v1h-1zM277 387h1v1h-1zM278 387h1v1h-1zM279 387h1v1h-1zM283 387h1v1h-1zM284 387h1v1h-1zM286 387h1v1h-1zM290 387h1v1h-1zM291 387h1v1h-1zM293 387h1v1h-1zM294 387h1v1h-1zM296 387h1v1h-1zM297 387h1v1h-1zM298 387h1v1h-1zM300 387h1v1h-1zM302 387h1v1h-1zM303 387h1v1h-1zM304 387h1v1h-1zM305 387h1v1h-1zM306 387h1v1h-1zM307 387h1v1h-1zM309 387h1v1h-1zM310 387h1v1h-1zM311 387h1v1h-1zM312 387h1v1h-1zM313 387h1v1h-1zM315 387h1v1h-1zM316 387h1v1h-1zM317 387h1v1h-1zM318 387h1v1h-1zM319 387h1v1h-1zM320 387h1v1h-1zM321 387h1v1h-1zM322 387h1v1h-1zM324 387h1v1h-1zM326 387h1v1h-1zM327 387h1v1h-1zM266 388h1v1h-1zM272 388h1v1h-1zM273 388h1v1h-1zM274 388h1v1h-1zM277 388h1v1h-1zM282 388h1v1h-1zM283 388h1v1h-1zM285 388h1v1h-1zM286 388h1v1h-1zM288 388h1v1h-1zM289 388h1v1h-1zM291 388h1v1h-1zM292 388h1v1h-1zM295 388h1v1h-1zM298 388h1v1h-1zM299 388h1v1h-1zM301 388h1v1h-1zM302 388h1v1h-1zM303 388h1v1h-1zM304 388h1v1h-1zM305 388h1v1h-1zM307 388h1v1h-1zM308 388h1v1h-1zM311 388h1v1h-1zM313 388h1v1h-1zM314 388h1v1h-1zM315 388h1v1h-1zM316 388h1v1h-1zM317 388h1v1h-1zM318 388h1v1h-1zM320 388h1v1h-1zM323 388h1v1h-1zM324 388h1v1h-1zM325 388h1v1h-1zM327 388h1v1h-1zM332 388h1v1h-1zM268 389h1v1h-1zM272 389h1v1h-1zM274 389h1v1h-1zM276 389h1v1h-1zM277 389h1v1h-1zM278 389h1v1h-1zM279 389h1v1h-1zM281 389h1v1h-1zM282 389h1v1h-1zM284 389h1v1h-1zM287 389h1v1h-1zM288 389h1v1h-1zM289 389h1v1h-1zM290 389h1v1h-1zM291 389h1v1h-1zM292 389h1v1h-1zM294 389h1v1h-1zM296 389h1v1h-1zM297 389h1v1h-1zM298 389h1v1h-1zM299 389h1v1h-1zM301 389h1v1h-1zM302 389h1v1h-1zM305 389h1v1h-1zM306 389h1v1h-1zM307 389h1v1h-1zM308 389h1v1h-1zM309 389h1v1h-1zM311 389h1v1h-1zM312 389h1v1h-1zM313 389h1v1h-1zM314 389h1v1h-1zM317 389h1v1h-1zM319 389h1v1h-1zM320 389h1v1h-1zM322 389h1v1h-1zM323 389h1v1h-1zM336 389h1v1h-1zM269 390h1v1h-1zM272 390h1v1h-1zM273 390h1v1h-1zM274 390h1v1h-1zM275 390h1v1h-1zM277 390h1v1h-1zM279 390h1v1h-1zM281 390h1v1h-1zM283 390h1v1h-1zM284 390h1v1h-1zM285 390h1v1h-1zM286 390h1v1h-1zM288 390h1v1h-1zM291 390h1v1h-1zM293 390h1v1h-1zM294 390h1v1h-1zM296 390h1v1h-1zM297 390h1v1h-1zM298 390h1v1h-1zM299 390h1v1h-1zM302 390h1v1h-1zM304 390h1v1h-1zM306 390h1v1h-1zM307 390h1v1h-1zM308 390h1v1h-1zM310 390h1v1h-1zM313 390h1v1h-1zM314 390h1v1h-1zM315 390h1v1h-1zM316 390h1v1h-1zM317 390h1v1h-1zM318 390h1v1h-1zM319 390h1v1h-1zM320 390h1v1h-1zM321 390h1v1h-1zM266 391h1v1h-1zM270 391h1v1h-1zM271 391h1v1h-1zM272 391h1v1h-1zM273 391h1v1h-1zM274 391h1v1h-1zM275 391h1v1h-1zM276 391h1v1h-1zM277 391h1v1h-1zM279 391h1v1h-1zM280 391h1v1h-1zM281 391h1v1h-1zM282 391h1v1h-1zM283 391h1v1h-1zM284 391h1v1h-1zM285 391h1v1h-1zM286 391h1v1h-1zM287 391h1v1h-1zM288 391h1v1h-1zM289 391h1v1h-1zM290 391h1v1h-1zM291 391h1v1h-1zM293 391h1v1h-1zM294 391h1v1h-1zM296 391h1v1h-1zM297 391h1v1h-1zM300 391h1v1h-1zM302 391h1v1h-1zM303 391h1v1h-1zM304 391h1v1h-1zM306 391h1v1h-1zM307 391h1v1h-1zM308 391h1v1h-1zM309 391h1v1h-1zM310 391h1v1h-1zM311 391h1v1h-1zM314 391h1v1h-1zM315 391h1v1h-1zM318 391h1v1h-1zM319 391h1v1h-1zM323 391h1v1h-1zM325 391h1v1h-1zM326 391h1v1h-1zM266 392h1v1h-1zM267 392h1v1h-1zM272 392h1v1h-1zM275 392h1v1h-1zM277 392h1v1h-1zM278 392h1v1h-1zM279 392h1v1h-1zM280 392h1v1h-1zM281 392h1v1h-1zM283 392h1v1h-1zM286 392h1v1h-1zM288 392h1v1h-1zM289 392h1v1h-1zM290 392h1v1h-1zM291 392h1v1h-1zM293 392h1v1h-1zM294 392h1v1h-1zM295 392h1v1h-1zM296 392h1v1h-1zM297 392h1v1h-1zM298 392h1v1h-1zM299 392h1v1h-1zM302 392h1v1h-1zM303 392h1v1h-1zM304 392h1v1h-1zM306 392h1v1h-1zM307 392h1v1h-1zM308 392h1v1h-1zM309 392h1v1h-1zM312 392h1v1h-1zM313 392h1v1h-1zM316 392h1v1h-1zM319 392h1v1h-1zM321 392h1v1h-1zM322 392h1v1h-1zM324 392h1v1h-1zM273 393h1v1h-1zM274 393h1v1h-1zM276 393h1v1h-1zM277 393h1v1h-1zM278 393h1v1h-1zM279 393h1v1h-1zM282 393h1v1h-1zM283 393h1v1h-1zM284 393h1v1h-1zM285 393h1v1h-1zM286 393h1v1h-1zM287 393h1v1h-1zM288 393h1v1h-1zM289 393h1v1h-1zM293 393h1v1h-1zM294 393h1v1h-1zM295 393h1v1h-1zM296 393h1v1h-1zM300 393h1v1h-1zM303 393h1v1h-1zM304 393h1v1h-1zM307 393h1v1h-1zM308 393h1v1h-1zM309 393h1v1h-1zM310 393h1v1h-1zM316 393h1v1h-1zM326 393h1v1h-1zM330 393h1v1h-1zM269 394h1v1h-1zM270 394h1v1h-1zM271 394h1v1h-1zM273 394h1v1h-1zM274 394h1v1h-1zM275 394h1v1h-1zM277 394h1v1h-1zM279 394h1v1h-1zM280 394h1v1h-1zM281 394h1v1h-1zM283 394h1v1h-1zM284 394h1v1h-1zM287 394h1v1h-1zM288 394h1v1h-1zM289 394h1v1h-1zM290 394h1v1h-1zM291 394h1v1h-1zM292 394h1v1h-1zM293 394h1v1h-1zM295 394h1v1h-1zM301 394h1v1h-1zM302 394h1v1h-1zM303 394h1v1h-1zM304 394h1v1h-1zM305 394h1v1h-1zM306 394h1v1h-1zM308 394h1v1h-1zM311 394h1v1h-1zM312 394h1v1h-1zM313 394h1v1h-1zM314 394h1v1h-1zM316 394h1v1h-1zM321 394h1v1h-1zM323 394h1v1h-1zM333 394h1v1h-1zM266 395h1v1h-1zM269 395h1v1h-1zM270 395h1v1h-1zM273 395h1v1h-1zM276 395h1v1h-1zM277 395h1v1h-1zM278 395h1v1h-1zM279 395h1v1h-1zM280 395h1v1h-1zM282 395h1v1h-1zM285 395h1v1h-1zM288 395h1v1h-1zM289 395h1v1h-1zM290 395h1v1h-1zM291 395h1v1h-1zM292 395h1v1h-1zM293 395h1v1h-1zM294 395h1v1h-1zM295 395h1v1h-1zM296 395h1v1h-1zM297 395h1v1h-1zM302 395h1v1h-1zM303 395h1v1h-1zM306 395h1v1h-1zM310 395h1v1h-1zM311 395h1v1h-1zM313 395h1v1h-1zM315 395h1v1h-1zM316 395h1v1h-1zM328 395h1v1h-1zM268 396h1v1h-1zM271 396h1v1h-1zM273 396h1v1h-1zM275 396h1v1h-1zM276 396h1v1h-1zM277 396h1v1h-1zM278 396h1v1h-1zM279 396h1v1h-1zM281 396h1v1h-1zM282 396h1v1h-1zM284 396h1v1h-1zM285 396h1v1h-1zM288 396h1v1h-1zM289 396h1v1h-1zM290 396h1v1h-1zM291 396h1v1h-1zM292 396h1v1h-1zM293 396h1v1h-1zM294 396h1v1h-1zM296 396h1v1h-1zM297 396h1v1h-1zM298 396h1v1h-1zM302 396h1v1h-1zM303 396h1v1h-1zM304 396h1v1h-1zM307 396h1v1h-1zM309 396h1v1h-1zM316 396h1v1h-1zM273 397h1v1h-1zM276 397h1v1h-1zM278 397h1v1h-1zM279 397h1v1h-1zM280 397h1v1h-1zM281 397h1v1h-1zM282 397h1v1h-1zM283 397h1v1h-1zM284 397h1v1h-1zM285 397h1v1h-1zM288 397h1v1h-1zM289 397h1v1h-1zM290 397h1v1h-1zM292 397h1v1h-1zM295 397h1v1h-1zM297 397h1v1h-1zM299 397h1v1h-1zM301 397h1v1h-1zM303 397h1v1h-1zM305 397h1v1h-1zM306 397h1v1h-1zM307 397h1v1h-1zM308 397h1v1h-1zM309 397h1v1h-1zM314 397h1v1h-1zM317 397h1v1h-1zM270 398h1v1h-1zM272 398h1v1h-1zM275 398h1v1h-1zM276 398h1v1h-1zM280 398h1v1h-1zM281 398h1v1h-1zM283 398h1v1h-1zM284 398h1v1h-1zM286 398h1v1h-1zM287 398h1v1h-1zM288 398h1v1h-1zM289 398h1v1h-1zM290 398h1v1h-1zM292 398h1v1h-1zM294 398h1v1h-1zM295 398h1v1h-1zM296 398h1v1h-1zM297 398h1v1h-1zM298 398h1v1h-1zM301 398h1v1h-1zM302 398h1v1h-1zM303 398h1v1h-1zM304 398h1v1h-1zM307 398h1v1h-1zM308 398h1v1h-1zM309 398h1v1h-1zM310 398h1v1h-1zM311 398h1v1h-1zM313 398h1v1h-1zM315 398h1v1h-1zM319 398h1v1h-1zM270 399h1v1h-1zM272 399h1v1h-1zM273 399h1v1h-1zM274 399h1v1h-1zM275 399h1v1h-1zM277 399h1v1h-1zM279 399h1v1h-1zM280 399h1v1h-1zM281 399h1v1h-1zM283 399h1v1h-1zM285 399h1v1h-1zM286 399h1v1h-1zM287 399h1v1h-1zM289 399h1v1h-1zM290 399h1v1h-1zM291 399h1v1h-1zM292 399h1v1h-1zM293 399h1v1h-1zM298 399h1v1h-1zM301 399h1v1h-1zM302 399h1v1h-1zM304 399h1v1h-1zM306 399h1v1h-1zM309 399h1v1h-1zM318 399h1v1h-1zM321 399h1v1h-1zM266 400h1v1h-1zM273 400h1v1h-1zM279 400h1v1h-1zM281 400h1v1h-1zM282 400h1v1h-1zM283 400h1v1h-1zM284 400h1v1h-1zM285 400h1v1h-1zM286 400h1v1h-1zM287 400h1v1h-1zM288 400h1v1h-1zM289 400h1v1h-1zM290 400h1v1h-1zM291 400h1v1h-1zM294 400h1v1h-1zM296 400h1v1h-1zM300 400h1v1h-1zM302 400h1v1h-1zM303 400h1v1h-1zM304 400h1v1h-1zM305 400h1v1h-1zM307 400h1v1h-1zM309 400h1v1h-1zM316 400h1v1h-1zM269 401h1v1h-1zM271 401h1v1h-1zM275 401h1v1h-1zM276 401h1v1h-1zM277 401h1v1h-1zM281 401h1v1h-1zM283 401h1v1h-1zM284 401h1v1h-1zM285 401h1v1h-1zM286 401h1v1h-1zM287 401h1v1h-1zM288 401h1v1h-1zM289 401h1v1h-1zM292 401h1v1h-1zM293 401h1v1h-1zM296 401h1v1h-1zM303 401h1v1h-1zM305 401h1v1h-1zM310 401h1v1h-1zM316 401h1v1h-1zM317 401h1v1h-1zM324 401h1v1h-1zM268 402h1v1h-1zM270 402h1v1h-1zM271 402h1v1h-1zM275 402h1v1h-1zM276 402h1v1h-1zM278 402h1v1h-1zM279 402h1v1h-1zM280 402h1v1h-1zM281 402h1v1h-1zM283 402h1v1h-1zM285 402h1v1h-1zM286 402h1v1h-1zM287 402h1v1h-1zM289 402h1v1h-1zM293 402h1v1h-1zM294 402h1v1h-1zM296 402h1v1h-1zM297 402h1v1h-1zM301 402h1v1h-1zM302 402h1v1h-1zM303 402h1v1h-1zM306 402h1v1h-1zM311 402h1v1h-1zM314 402h1v1h-1zM341 402h1v1h-1zM266 403h1v1h-1zM272 403h1v1h-1zM273 403h1v1h-1zM274 403h1v1h-1zM275 403h1v1h-1zM276 403h1v1h-1zM277 403h1v1h-1zM279 403h1v1h-1zM280 403h1v1h-1zM281 403h1v1h-1zM282 403h1v1h-1zM284 403h1v1h-1zM285 403h1v1h-1zM286 403h1v1h-1zM287 403h1v1h-1zM288 403h1v1h-1zM289 403h1v1h-1zM290 403h1v1h-1zM291 403h1v1h-1zM293 403h1v1h-1zM294 403h1v1h-1zM303 403h1v1h-1zM304 403h1v1h-1zM271 404h1v1h-1zM273 404h1v1h-1zM275 404h1v1h-1zM276 404h1v1h-1zM277 404h1v1h-1zM278 404h1v1h-1zM279 404h1v1h-1zM280 404h1v1h-1zM281 404h1v1h-1zM282 404h1v1h-1zM284 404h1v1h-1zM285 404h1v1h-1zM286 404h1v1h-1zM287 404h1v1h-1zM288 404h1v1h-1zM290 404h1v1h-1zM292 404h1v1h-1zM293 404h1v1h-1zM294 404h1v1h-1zM295 404h1v1h-1zM296 404h1v1h-1zM298 404h1v1h-1zM299 404h1v1h-1zM300 404h1v1h-1zM304 404h1v1h-1zM307 404h1v1h-1zM309 404h1v1h-1zM310 404h1v1h-1zM317 404h1v1h-1zM270 405h1v1h-1zM271 405h1v1h-1zM275 405h1v1h-1zM276 405h1v1h-1zM279 405h1v1h-1zM280 405h1v1h-1zM281 405h1v1h-1zM282 405h1v1h-1zM283 405h1v1h-1zM285 405h1v1h-1zM286 405h1v1h-1zM287 405h1v1h-1zM288 405h1v1h-1zM289 405h1v1h-1zM290 405h1v1h-1zM291 405h1v1h-1zM293 405h1v1h-1zM294 405h1v1h-1zM295 405h1v1h-1zM296 405h1v1h-1zM299 405h1v1h-1zM300 405h1v1h-1zM312 405h1v1h-1zM316 405h1v1h-1zM272 406h1v1h-1zM273 406h1v1h-1zM274 406h1v1h-1zM275 406h1v1h-1zM277 406h1v1h-1zM280 406h1v1h-1zM282 406h1v1h-1zM283 406h1v1h-1zM284 406h1v1h-1zM285 406h1v1h-1zM286 406h1v1h-1zM287 406h1v1h-1zM288 406h1v1h-1zM289 406h1v1h-1zM291 406h1v1h-1zM292 406h1v1h-1zM293 406h1v1h-1zM295 406h1v1h-1zM296 406h1v1h-1zM303 406h1v1h-1zM306 406h1v1h-1zM307 406h1v1h-1zM311 406h1v1h-1zM313 406h1v1h-1zM269 407h1v1h-1zM270 407h1v1h-1zM273 407h1v1h-1zM277 407h1v1h-1zM278 407h1v1h-1zM279 407h1v1h-1zM280 407h1v1h-1zM281 407h1v1h-1zM284 407h1v1h-1zM285 407h1v1h-1zM286 407h1v1h-1zM287 407h1v1h-1zM288 407h1v1h-1zM289 407h1v1h-1zM290 407h1v1h-1zM291 407h1v1h-1zM292 407h1v1h-1zM293 407h1v1h-1zM296 407h1v1h-1zM303 407h1v1h-1zM304 407h1v1h-1zM307 407h1v1h-1zM268 408h1v1h-1zM270 408h1v1h-1zM273 408h1v1h-1zM274 408h1v1h-1zM275 408h1v1h-1zM276 408h1v1h-1zM277 408h1v1h-1zM279 408h1v1h-1zM280 408h1v1h-1zM281 408h1v1h-1zM282 408h1v1h-1zM283 408h1v1h-1zM284 408h1v1h-1zM285 408h1v1h-1zM286 408h1v1h-1zM288 408h1v1h-1zM290 408h1v1h-1zM291 408h1v1h-1zM292 408h1v1h-1zM294 408h1v1h-1zM295 408h1v1h-1zM304 408h1v1h-1zM310 408h1v1h-1zM314 408h1v1h-1zM270 409h1v1h-1zM271 409h1v1h-1zM273 409h1v1h-1zM274 409h1v1h-1zM275 409h1v1h-1zM276 409h1v1h-1zM277 409h1v1h-1zM278 409h1v1h-1zM279 409h1v1h-1zM280 409h1v1h-1zM281 409h1v1h-1zM282 409h1v1h-1zM283 409h1v1h-1zM284 409h1v1h-1zM285 409h1v1h-1zM286 409h1v1h-1zM287 409h1v1h-1zM288 409h1v1h-1zM289 409h1v1h-1zM290 409h1v1h-1zM294 409h1v1h-1zM296 409h1v1h-1zM299 409h1v1h-1zM307 409h1v1h-1zM316 409h1v1h-1zM269 410h1v1h-1zM271 410h1v1h-1zM273 410h1v1h-1zM274 410h1v1h-1zM275 410h1v1h-1zM276 410h1v1h-1zM277 410h1v1h-1zM278 410h1v1h-1zM279 410h1v1h-1zM280 410h1v1h-1zM281 410h1v1h-1zM282 410h1v1h-1zM283 410h1v1h-1zM285 410h1v1h-1zM287 410h1v1h-1zM289 410h1v1h-1zM290 410h1v1h-1zM291 410h1v1h-1zM293 410h1v1h-1zM302 410h1v1h-1zM312 410h1v1h-1zM313 410h1v1h-1zM267 411h1v1h-1zM269 411h1v1h-1zM270 411h1v1h-1zM272 411h1v1h-1zM273 411h1v1h-1zM274 411h1v1h-1zM276 411h1v1h-1zM277 411h1v1h-1zM278 411h1v1h-1zM279 411h1v1h-1zM280 411h1v1h-1zM281 411h1v1h-1zM282 411h1v1h-1zM283 411h1v1h-1zM284 411h1v1h-1zM285 411h1v1h-1zM286 411h1v1h-1zM287 411h1v1h-1zM288 411h1v1h-1zM289 411h1v1h-1zM291 411h1v1h-1zM296 411h1v1h-1zM300 411h1v1h-1zM311 411h1v1h-1zM269 412h1v1h-1zM270 412h1v1h-1zM272 412h1v1h-1zM273 412h1v1h-1zM274 412h1v1h-1zM275 412h1v1h-1zM276 412h1v1h-1zM277 412h1v1h-1zM278 412h1v1h-1zM279 412h1v1h-1zM280 412h1v1h-1zM283 412h1v1h-1zM284 412h1v1h-1zM285 412h1v1h-1zM286 412h1v1h-1zM287 412h1v1h-1zM290 412h1v1h-1zM292 412h1v1h-1zM293 412h1v1h-1zM294 412h1v1h-1zM299 412h1v1h-1zM305 412h1v1h-1zM317 412h1v1h-1zM271 413h1v1h-1zM273 413h1v1h-1zM277 413h1v1h-1zM278 413h1v1h-1zM280 413h1v1h-1zM281 413h1v1h-1zM282 413h1v1h-1zM283 413h1v1h-1zM285 413h1v1h-1zM286 413h1v1h-1zM287 413h1v1h-1zM288 413h1v1h-1zM290 413h1v1h-1zM291 413h1v1h-1zM292 413h1v1h-1zM293 413h1v1h-1zM294 413h1v1h-1zM308 413h1v1h-1zM271 414h1v1h-1zM274 414h1v1h-1zM275 414h1v1h-1zM276 414h1v1h-1zM277 414h1v1h-1zM278 414h1v1h-1zM279 414h1v1h-1zM280 414h1v1h-1zM281 414h1v1h-1zM282 414h1v1h-1zM283 414h1v1h-1zM284 414h1v1h-1zM285 414h1v1h-1zM286 414h1v1h-1zM287 414h1v1h-1zM288 414h1v1h-1zM290 414h1v1h-1zM292 414h1v1h-1zM293 414h1v1h-1zM295 414h1v1h-1zM298 414h1v1h-1zM299 414h1v1h-1zM310 414h1v1h-1zM270 415h1v1h-1zM272 415h1v1h-1zM274 415h1v1h-1zM275 415h1v1h-1zM277 415h1v1h-1zM278 415h1v1h-1zM279 415h1v1h-1zM280 415h1v1h-1zM281 415h1v1h-1zM282 415h1v1h-1zM283 415h1v1h-1zM284 415h1v1h-1zM285 415h1v1h-1zM287 415h1v1h-1zM288 415h1v1h-1zM291 415h1v1h-1zM293 415h1v1h-1zM267 416h1v1h-1zM271 416h1v1h-1zM273 416h1v1h-1zM274 416h1v1h-1zM275 416h1v1h-1zM277 416h1v1h-1zM278 416h1v1h-1zM279 416h1v1h-1zM280 416h1v1h-1zM281 416h1v1h-1zM282 416h1v1h-1zM283 416h1v1h-1zM284 416h1v1h-1zM286 416h1v1h-1zM288 416h1v1h-1zM292 416h1v1h-1zM298 416h1v1h-1zM306 416h1v1h-1zM266 417h1v1h-1zM271 417h1v1h-1zM273 417h1v1h-1zM274 417h1v1h-1zM275 417h1v1h-1zM277 417h1v1h-1zM278 417h1v1h-1zM279 417h1v1h-1zM281 417h1v1h-1zM282 417h1v1h-1zM283 417h1v1h-1zM286 417h1v1h-1zM287 417h1v1h-1zM289 417h1v1h-1zM290 417h1v1h-1zM293 417h1v1h-1zM307 417h1v1h-1zM266 418h1v1h-1zM274 418h1v1h-1zM275 418h1v1h-1zM279 418h1v1h-1zM280 418h1v1h-1zM283 418h1v1h-1zM284 418h1v1h-1zM285 418h1v1h-1zM286 418h1v1h-1zM288 418h1v1h-1zM289 418h1v1h-1zM309 418h1v1h-1zM269 419h1v1h-1zM271 419h1v1h-1zM272 419h1v1h-1zM275 419h1v1h-1zM277 419h1v1h-1zM278 419h1v1h-1zM279 419h1v1h-1zM280 419h1v1h-1zM281 419h1v1h-1zM288 419h1v1h-1zM289 419h1v1h-1zM290 419h1v1h-1zM271 420h1v1h-1zM273 420h1v1h-1zM278 420h1v1h-1zM279 420h1v1h-1zM281 420h1v1h-1zM283 420h1v1h-1zM284 420h1v1h-1zM290 420h1v1h-1zM310 420h1v1h-1zM270 421h1v1h-1zM275 421h1v1h-1zM279 421h1v1h-1zM284 421h1v1h-1zM287 421h1v1h-1zM290 421h1v1h-1zM273 422h1v1h-1zM275 422h1v1h-1zM278 422h1v1h-1zM279 422h1v1h-1zM285 423h1v1h-1zM294 423h1v1h-1z"/>
<path fill="#000" d="M442 349h1v1h-1zM457 350h1v1h-1zM460 350h1v1h-1zM442 351h1v1h-1zM447 351h1v1h-1zM453 351h1v1h-1zM435 352h1v1h-1zM453 352h1v1h-1zM461 353h1v1h-1zM409 354h1v1h-1zM446 354h1v1h-1zM447 354h1v1h-1zM446 355h1v1h-1zM448 355h1v1h-1zM455 355h1v1h-1zM410 356h1v1h-1zM446 356h1v1h-1zM390 357h1v1h-1zM452 357h1v1h-1zM455 357h1v1h-1zM446 358h1v1h-1zM396 359h1v1h-1zM450 359h1v1h-1zM454 359h1v1h-1zM455 359h1v1h-1zM456 359h1v1h-1zM459 359h1v1h-1zM462 359h1v1h-1zM441 360h1v1h-1zM442 360h1v1h-1zM443 360h1v1h-1zM447 360h1v1h-1zM455 360h1v1h-1zM459 360h1v1h-1zM431 361h1v1h-1zM445 361h1v1h-1zM447 361h1v1h-1zM450 361h1v1h-1zM451 361h1v1h-1zM454 361h1v1h-1zM455 361h1v1h-1zM462 361h1v1h-1zM455 362h1v1h-1zM456 362h1v1h-1zM462 362h1v1h-1zM448 363h1v1h-1zM451 363h1v1h-1zM427 364h1v1h-1zM443 364h1v1h-1zM445 364h1v1h-1zM453 364h1v1h-1zM457 364h1v1h-1zM451 365h1v1h-1zM460 365h1v1h-1zM435 367h1v1h-1zM436 367h1v1h-1zM454 367h1v1h-1zM439 368h1v1h-1zM460 368h1v1h-1zM458 369h1v1h-1zM399 372h1v1h-1zM399 373h1v1h-1zM394 374h1v1h-1zM401 374h1v1h-1zM431 374h1v1h-1zM435 374h1v1h-1zM387 375h1v1h-1zM399 375h1v1h-1zM396 376h1v1h-1zM399 376h1v1h-1zM419 376h1v1h-1zM395 377h1v1h-1zM396 377h1v1h-1zM397 377h1v1h-1zM418 377h1v1h-1zM420 377h1v1h-1zM435 377h1v1h-1zM391 378h1v1h-1zM405 378h1v1h-1zM407 378h1v1h-1zM408 378h1v1h-1zM413 378h1v1h-1zM421 378h1v1h-1zM435 378h1v1h-1zM387 379h1v1h-1zM399 379h1v1h-1zM433 379h1v1h-1zM436 379h1v1h-1zM444 379h1v1h-1zM388 380h1v1h-1zM392 380h1v1h-1zM404 380h1v1h-1zM415 380h1v1h-1zM422 380h1v1h-1zM424 380h1v1h-1zM427 380h1v1h-1zM429 380h1v1h-1zM431 380h1v1h-1zM435 380h1v1h-1zM440 380h1v1h-1zM442 380h1v1h-1zM380 381h1v1h-1zM381 381h1v1h-1zM389 381h1v1h-1zM391 381h1v1h-1zM393 381h1v1h-1zM394 381h1v1h-1zM395 381h1v1h-1zM399 381h1v1h-1zM400 381h1v1h-1zM409 381h1v1h-1zM420 381h1v1h-1zM422 381h1v1h-1zM425 381h1v1h-1zM430 381h1v1h-1zM437 381h1v1h-1zM440 381h1v1h-1zM441 381h1v1h-1zM442 381h1v1h-1zM445 381h1v1h-1zM380 382h1v1h-1zM386 382h1v1h-1zM389 382h1v1h-1zM392 382h1v1h-1zM396 382h1v1h-1zM401 382h1v1h-1zM402 382h1v1h-1zM408 382h1v1h-1zM409 382h1v1h-1zM418 382h1v1h-1zM432 382h1v1h-1zM435 382h1v1h-1zM436 382h1v1h-1zM437 382h1v1h-1zM443 382h1v1h-1zM446 382h1v1h-1zM448 382h1v1h-1zM382 383h1v1h-1zM383 383h1v1h-1zM384 383h1v1h-1zM388 383h1v1h-1zM396 383h1v1h-1zM398 383h1v1h-1zM403 383h1v1h-1zM408 383h1v1h-1zM411 383h1v1h-1zM424 383h1v1h-1zM425 383h1v1h-1zM426 383h1v1h-1zM433 383h1v1h-1zM435 383h1v1h-1zM438 383h1v1h-1zM441 383h1v1h-1zM444 383h1v1h-1zM445 383h1v1h-1zM385 384h1v1h-1zM391 384h1v1h-1zM392 384h1v1h-1zM395 384h1v1h-1zM398 384h1v1h-1zM399 384h1v1h-1zM404 384h1v1h-1zM405 384h1v1h-1zM406 384h1v1h-1zM407 384h1v1h-1zM408 384h1v1h-1zM411 384h1v1h-1zM412 384h1v1h-1zM413 384h1v1h-1zM416 384h1v1h-1zM418 384h1v1h-1zM428 384h1v1h-1zM431 384h1v1h-1zM432 384h1v1h-1zM435 384h1v1h-1zM443 384h1v1h-1zM384 385h1v1h-1zM385 385h1v1h-1zM388 385h1v1h-1zM389 385h1v1h-1zM390 385h1v1h-1zM392 385h1v1h-1zM393 385h1v1h-1zM396 385h1v1h-1zM399 385h1v1h-1zM400 385h1v1h-1zM401 385h1v1h-1zM403 385h1v1h-1zM404 385h1v1h-1zM405 385h1v1h-1zM406 385h1v1h-1zM409 385h1v1h-1zM410 385h1v1h-1zM411 385h1v1h-1zM417 385h1v1h-1zM419 385h1v1h-1zM425 385h1v1h-1zM426 385h1v1h-1zM430 385h1v1h-1zM431 385h1v1h-1zM433 385h1v1h-1zM435 385h1v1h-1zM439 385h1v1h-1zM440 385h1v1h-1zM442 385h1v1h-1zM447 385h1v1h-1zM380 386h1v1h-1zM381 386h1v1h-1zM383 386h1v1h-1zM384 386h1v1h-1zM386 386h1v1h-1zM389 386h1v1h-1zM391 386h1v1h-1zM392 386h1v1h-1zM393 386h1v1h-1zM396 386h1v1h-1zM397 386h1v1h-1zM399 386h1v1h-1zM400 386h1v1h-1zM401 386h1v1h-1zM402 386h1v1h-1zM404 386h1v1h-1zM405 386h1v1h-1zM406 386h1v1h-1zM407 386h1v1h-1zM409 386h1v1h-1zM410 386h1v1h-1zM412 386h1v1h-1zM414 386h1v1h-1zM415 386h1v1h-1zM419 386h1v1h-1zM423 386h1v1h-1zM424 386h1v1h-1zM425 386h1v1h-1zM426 386h1v1h-1zM429 386h1v1h-1zM430 386h1v1h-1zM435 386h1v1h-1zM436 386h1v1h-1zM440 386h1v1h-1zM441 386h1v1h-1zM442 386h1v1h-1zM443 386h1v1h-1zM446 386h1v1h-1zM380 387h1v1h-1zM386 387h1v1h-1zM387 387h1v1h-1zM388 387h1v1h-1zM389 387h1v1h-1zM392 387h1v1h-1zM393 387h1v1h-1zM394 387h1v1h-1zM395 387h1v1h-1zM396 387h1v1h-1zM397 387h1v1h-1zM398 387h1v1h-1zM399 387h1v1h-1zM402 387h1v1h-1zM403 387h1v1h-1zM404 387h1v1h-1zM405 387h1v1h-1zM408 387h1v1h-1zM409 387h1v1h-1zM410 387h1v1h-1zM411 387h1v1h-1zM412 387h1v1h-1zM413 387h1v1h-1zM414 387h1v1h-1zM420 387h1v1h-1zM429 387h1v1h-1zM430 387h1v1h-1zM432 387h1v1h-1zM438 387h1v1h-1zM439 387h1v1h-1zM445 387h1v1h-1zM451 387h1v1h-1zM378 388h1v1h-1zM382 388h1v1h-1zM385 388h1v1h-1zM389 388h1v1h-1zM391 388h1v1h-1zM392 388h1v1h-1zM393 388h1v1h-1zM394 388h1v1h-1zM396 388h1v1h-1zM397 388h1v1h-1zM398 388h1v1h-1zM399 388h1v1h-1zM400 388h1v1h-1zM401 388h1v1h-1zM402 388h1v1h-1zM404 388h1v1h-1zM407 388h1v1h-1zM409 388h1v1h-1zM413 388h1v1h-1zM420 388h1v1h-1zM424 388h1v1h-1zM426 388h1v1h-1zM427 388h1v1h-1zM429 388h1v1h-1zM432 388h1v1h-1zM435 388h1v1h-1zM436 388h1v1h-1zM437 388h1v1h-1zM446 388h1v1h-1zM382 389h1v1h-1zM383 389h1v1h-1zM384 389h1v1h-1zM385 389h1v1h-1zM387 389h1v1h-1zM388 389h1v1h-1zM391 389h1v1h-1zM393 389h1v1h-1zM394 389h1v1h-1zM395 389h1v1h-1zM396 389h1v1h-1zM397 389h1v1h-1zM398 389h1v1h-1zM399 389h1v1h-1zM400 389h1v1h-1zM401 389h1v1h-1zM403 389h1v1h-1zM405 389h1v1h-1zM408 389h1v1h-1zM409 389h1v1h-1zM412 389h1v1h-1zM413 389h1v1h-1zM414 389h1v1h-1zM415 389h1v1h-1zM417 389h1v1h-1zM424 389h1v1h-1zM425 389h1v1h-1zM426 389h1v1h-1zM428 389h1v1h-1zM429 389h1v1h-1zM434 389h1v1h-1zM436 389h1v1h-1zM439 389h1v1h-1zM442 389h1v1h-1zM443 389h1v1h-1zM444 389h1v1h-1zM445 389h1v1h-1zM382 390h1v1h-1zM384 390h1v1h-1zM385 390h1v1h-1zM386 390h1v1h-1zM388 390h1v1h-1zM389 390h1v1h-1zM390 390h1v1h-1zM392 390h1v1h-1zM394 390h1v1h-1zM395 390h1v1h-1zM396 390h1v1h-1zM398 390h1v1h-1zM401 390h1v1h-1zM403 390h1v1h-1zM404 390h1v1h-1zM405 390h1v1h-1zM408 390h1v1h-1zM409 390h1v1h-1zM410 390h1v1h-1zM411 390h1v1h-1zM412 390h1v1h-1zM413 390h1v1h-1zM416 390h1v1h-1zM419 390h1v1h-1zM421 390h1v1h-1zM422 390h1v1h-1zM423 390h1v1h-1zM425 390h1v1h-1zM426 390h1v1h-1zM427 390h1v1h-1zM428 390h1v1h-1zM429 390h1v1h-1zM433 390h1v1h-1zM437 390h1v1h-1zM442 390h1v1h-1zM379 391h1v1h-1zM381 391h1v1h-1zM383 391h1v1h-1zM385 391h1v1h-1zM387 391h1v1h-1zM388 391h1v1h-1zM389 391h1v1h-1zM390 391h1v1h-1zM391 391h1v1h-1zM392 391h1v1h-1zM393 391h1v1h-1zM394 391h1v1h-1zM395 391h1v1h-1zM396 391h1v1h-1zM397 391h1v1h-1zM398 391h1v1h-1zM401 391h1v1h-1zM402 391h1v1h-1zM403 391h1v1h-1zM405 391h1v1h-1zM406 391h1v1h-1zM409 391h1v1h-1zM416 391h1v1h-1zM417 391h1v1h-1zM418 391h1v1h-1zM422 391h1v1h-1zM424 391h1v1h-1zM425 391h1v1h-1zM427 391h1v1h-1zM428 391h1v1h-1zM437 391h1v1h-1zM438 391h1v1h-1zM439 391h1v1h-1zM441 391h1v1h-1zM380 392h1v1h-1zM385 392h1v1h-1zM386 392h1v1h-1zM387 392h1v1h-1zM389 392h1v1h-1zM390 392h1v1h-1zM391 392h1v1h-1zM392 392h1v1h-1zM393 392h1v1h-1zM394 392h1v1h-1zM395 392h1v1h-1zM397 392h1v1h-1zM398 392h1v1h-1zM399 392h1v1h-1zM400 392h1v1h-1zM402 392h1v1h-1zM403 392h1v1h-1zM404 392h1v1h-1zM405 392h1v1h-1zM406 392h1v1h-1zM407 392h1v1h-1zM409 392h1v1h-1zM410 392h1v1h-1zM411 392h1v1h-1zM412 392h1v1h-1zM413 392h1v1h-1zM414 392h1v1h-1zM415 392h1v1h-1zM417 392h1v1h-1zM418 392h1v1h-1zM421 392h1v1h-1zM423 392h1v1h-1zM424 392h1v1h-1zM425 392h1v1h-1zM427 392h1v1h-1zM433 392h1v1h-1zM434 392h1v1h-1zM436 392h1v1h-1zM439 392h1v1h-1zM443 392h1v1h-1zM445 392h1v1h-1zM383 393h1v1h-1zM384 393h1v1h-1zM387 393h1v1h-1zM389 393h1v1h-1zM391 393h1v1h-1zM392 393h1v1h-1zM393 393h1v1h-1zM396 393h1v1h-1zM397 393h1v1h-1zM399 393h1v1h-1zM400 393h1v1h-1zM401 393h1v1h-1zM402 393h1v1h-1zM403 393h1v1h-1zM404 393h1v1h-1zM405 393h1v1h-1zM406 393h1v1h-1zM407 393h1v1h-1zM408 393h1v1h-1zM409 393h1v1h-1zM411 393h1v1h-1zM413 393h1v1h-1zM414 393h1v1h-1zM416 393h1v1h-1zM418 393h1v1h-1zM420 393h1v1h-1zM421 393h1v1h-1zM422 393h1v1h-1zM423 393h1v1h-1zM424 393h1v1h-1zM425 393h1v1h-1zM428 393h1v1h-1zM430 393h1v1h-1zM435 393h1v1h-1zM438 393h1v1h-1zM442 393h1v1h-1zM443 393h1v1h-1zM378 394h1v1h-1zM380 394h1v1h-1zM381 394h1v1h-1zM382 394h1v1h-1zM385 394h1v1h-1zM390 394h1v1h-1zM391 394h1v1h-1zM392 394h1v1h-1zM393 394h1v1h-1zM394 394h1v1h-1zM395 394h1v1h-1zM396 394h1v1h-1zM397 394h1v1h-1zM399 394h1v1h-1zM400 394h1v1h-1zM401 394h1v1h-1zM402 394h1v1h-1zM403 394h1v1h-1zM404 394h1v1h-1zM405 394h1v1h-1zM406 394h1v1h-1zM407 394h1v1h-1zM408 394h1v1h-1zM409 394h1v1h-1zM411 394h1v1h-1zM412 394h1v1h-1zM413 394h1v1h-1zM417 394h1v1h-1zM419 394h1v1h-1zM420 394h1v1h-1zM421 394h1v1h-1zM424 394h1v1h-1zM425 394h1v1h-1zM426 394h1v1h-1zM447 394h1v1h-1zM382 395h1v1h-1zM384 395h1v1h-1zM385 395h1v1h-1zM386 395h1v1h-1zM388 395h1v1h-1zM389 395h1v1h-1zM390 395h1v1h-1zM392 395h1v1h-1zM393 395h1v1h-1zM395 395h1v1h-1zM396 395h1v1h-1zM397 395h1v1h-1zM398 395h1v1h-1zM400 395h1v1h-1zM401 395h1v1h-1zM402 395h1v1h-1zM403 395h1v1h-1zM404 395h1v1h-1zM405 395h1v1h-1zM406 395h1v1h-1zM407 395h1v1h-1zM408 395h1v1h-1zM410 395h1v1h-1zM412 395h1v1h-1zM414 395h1v1h-1zM415 395h1v1h-1zM416 395h1v1h-1zM417 395h1v1h-1zM422 395h1v1h-1zM426 395h1v1h-1zM431 395h1v1h-1zM432 395h1v1h-1zM433 395h1v1h-1zM439 395h1v1h-1zM443 395h1v1h-1zM382 396h1v1h-1zM383 396h1v1h-1zM385 396h1v1h-1zM386 396h1v1h-1zM387 396h1v1h-1zM388 396h1v1h-1zM389 396h1v1h-1zM390 396h1v1h-1zM392 396h1v1h-1zM393 396h1v1h-1zM394 396h1v1h-1zM395 396h1v1h-1zM396 396h1v1h-1zM397 396h1v1h-1zM398 396h1v1h-1zM399 396h1v1h-1zM400 396h1v1h-1zM402 396h1v1h-1zM403 396h1v1h-1zM404 396h1v1h-1zM405 396h1v1h-1zM406 396h1v1h-1zM407 396h1v1h-1zM408 396h1v1h-1zM409 396h1v1h-1zM411 396h1v1h-1zM413 396h1v1h-1zM424 396h1v1h-1zM425 396h1v1h-1zM435 396h1v1h-1zM380 397h1v1h-1zM383 397h1v1h-1zM384 397h1v1h-1zM385 397h1v1h-1zM386 397h1v1h-1zM388 397h1v1h-1zM389 397h1v1h-1zM391 397h1v1h-1zM392 397h1v1h-1zM394 397h1v1h-1zM395 397h1v1h-1zM396 397h1v1h-1zM397 397h1v1h-1zM398 397h1v1h-1zM399 397h1v1h-1zM400 397h1v1h-1zM401 397h1v1h-1zM402 397h1v1h-1zM403 397h1v1h-1zM404 397h1v1h-1zM405 397h1v1h-1zM406 397h1v1h-1zM407 397h1v1h-1zM408 397h1v1h-1zM409 397h1v1h-1zM410 397h1v1h-1zM411 397h1v1h-1zM412 397h1v1h-1zM414 397h1v1h-1zM415 397h1v1h-1zM416 397h1v1h-1zM417 397h1v1h-1zM419 397h1v1h-1zM426 397h1v1h-1zM427 397h1v1h-1zM431 397h1v1h-1zM382 398h1v1h-1zM384 398h1v1h-1zM385 398h1v1h-1zM387 398h1v1h-1zM388 398h1v1h-1zM389 398h1v1h-1zM390 398h1v1h-1zM391 398h1v1h-1zM392 398h1v1h-1zM393 398h1v1h-1zM394 398h1v1h-1zM395 398h1v1h-1zM396 398h1v1h-1zM397 398h1v1h-1zM398 398h1v1h-1zM399 398h1v1h-1zM400 398h1v1h-1zM401 398h1v1h-1zM402 398h1v1h-1zM403 398h1v1h-1zM404 398h1v1h-1zM405 398h1v1h-1zM406 398h1v1h-1zM407 398h1v1h-1zM408 398h1v1h-1zM409 398h1v1h-1zM410 398h1v1h-1zM412 398h1v1h-1zM414 398h1v1h-1zM415 398h1v1h-1zM416 398h1v1h-1zM417 398h1v1h-1zM418 398h1v1h-1zM419 398h1v1h-1zM421 398h1v1h-1zM423 398h1v1h-1zM425 398h1v1h-1zM427 398h1v1h-1zM429 398h1v1h-1zM380 399h1v1h-1zM381 399h1v1h-1zM386 399h1v1h-1zM387 399h1v1h-1zM388 399h1v1h-1zM389 399h1v1h-1zM390 399h1v1h-1zM391 399h1v1h-1zM392 399h1v1h-1zM393 399h1v1h-1zM394 399h1v1h-1zM395 399h1v1h-1zM396 399h1v1h-1zM397 399h1v1h-1zM399 399h1v1h-1zM400 399h1v1h-1zM401 399h1v1h-1zM402 399h1v1h-1zM403 399h1v1h-1zM404 399h1v1h-1zM405 399h1v1h-1zM406 399h1v1h-1zM407 399h1v1h-1zM408 399h1v1h-1zM409 399h1v1h-1zM410 399h1v1h-1zM412 399h1v1h-1zM413 399h1v1h-1zM415 399h1v1h-1zM416 399h1v1h-1zM417 399h1v1h-1zM418 399h1v1h-1zM419 399h1v1h-1zM421 399h1v1h-1zM422 399h1v1h-1zM423 399h1v1h-1zM432 399h1v1h-1zM435 399h1v1h-1zM381 400h1v1h-1zM382 400h1v1h-1zM383 400h1v1h-1zM384 400h1v1h-1zM385 400h1v1h-1zM386 400h1v1h-1zM387 400h1v1h-1zM388 400h1v1h-1zM389 400h1v1h-1zM390 400h1v1h-1zM392 400h1v1h-1zM393 400h1v1h-1zM394 400h1v1h-1zM395 400h1v1h-1zM397 400h1v1h-1zM398 400h1v1h-1zM399 400h1v1h-1zM400 400h1v1h-1zM401 400h1v1h-1zM402 400h1v1h-1zM403 400h1v1h-1zM404 400h1v1h-1zM405 400h1v1h-1zM406 400h1v1h-1zM407 400h1v1h-1zM409 400h1v1h-1zM410 400h1v1h-1zM411 400h1v1h-1zM412 400h1v1h-1zM413 400h1v1h-1zM416 400h1v1h-1zM417 400h1v1h-1zM418 400h1v1h-1zM419 400h1v1h-1zM422 400h1v1h-1zM428 400h1v1h-1zM378 401h1v1h-1zM380 401h1v1h-1zM381 401h1v1h-1zM385 401h1v1h-1zM388 401h1v1h-1zM389 401h1v1h-1zM390 401h1v1h-1zM391 401h1v1h-1zM392 401h1v1h-1zM393 401h1v1h-1zM394 401h1v1h-1zM395 401h1v1h-1zM396 401h1v1h-1zM397 401h1v1h-1zM398 401h1v1h-1zM399 401h1v1h-1zM400 401h1v1h-1zM401 401h1v1h-1zM402 401h1v1h-1zM403 401h1v1h-1zM404 401h1v1h-1zM405 401h1v1h-1zM406 401h1v1h-1zM407 401h1v1h-1zM408 401h1v1h-1zM409 401h1v1h-1zM410 401h1v1h-1zM412 401h1v1h-1zM413 401h1v1h-1zM418 401h1v1h-1zM419 401h1v1h-1zM421 401h1v1h-1zM431 401h1v1h-1zM380 402h1v1h-1zM384 402h1v1h-1zM385 402h1v1h-1zM387 402h1v1h-1zM388 402h1v1h-1zM389 402h1v1h-1zM391 402h1v1h-1zM392 402h1v1h-1zM394 402h1v1h-1zM395 402h1v1h-1zM396 402h1v1h-1zM397 402h1v1h-1zM398 402h1v1h-1zM399 402h1v1h-1zM400 402h1v1h-1zM401 402h1v1h-1zM402 402h1v1h-1zM403 402h1v1h-1zM404 402h1v1h-1zM405 402h1v1h-1zM406 402h1v1h-1zM407 402h1v1h-1zM408 402h1v1h-1zM409 402h1v1h-1zM411 402h1v1h-1zM412 402h1v1h-1zM415 402h1v1h-1zM416 402h1v1h-1zM424 402h1v1h-1zM425 402h1v1h-1zM434 402h1v1h-1zM378 403h1v1h-1zM385 403h1v1h-1zM386 403h1v1h-1zM387 403h1v1h-1zM388 403h1v1h-1zM389 403h1v1h-1zM390 403h1v1h-1zM391 403h1v1h-1zM392 403h1v1h-1zM393 403h1v1h-1zM394 403h1v1h-1zM395 403h1v1h-1zM396 403h1v1h-1zM397 403h1v1h-1zM398 403h1v1h-1zM399 403h1v1h-1zM400 403h1v1h-1zM401 403h1v1h-1zM402 403h1v1h-1zM403 403h1v1h-1zM404 403h1v1h-1zM405 403h1v1h-1zM406 403h1v1h-1zM407 403h1v1h-1zM408 403h1v1h-1zM409 403h1v1h-1zM412 403h1v1h-1zM413 403h1v1h-1zM415 403h1v1h-1zM417 403h1v1h-1zM421 403h1v1h-1zM382 404h1v1h-1zM383 404h1v1h-1zM385 404h1v1h-1zM386 404h1v1h-1zM387 404h1v1h-1zM390 404h1v1h-1zM391 404h1v1h-1zM392 404h1v1h-1zM393 404h1v1h-1zM394 404h1v1h-1zM395 404h1v1h-1zM397 404h1v1h-1zM398 404h1v1h-1zM399 404h1v1h-1zM400 404h1v1h-1zM401 404h1v1h-1zM402 404h1v1h-1zM403 404h1v1h-1zM404 404h1v1h-1zM405 404h1v1h-1zM407 404h1v1h-1zM408 404h1v1h-1zM409 404h1v1h-1zM410 404h1v1h-1zM412 404h1v1h-1zM413 404h1v1h-1zM415 404h1v1h-1zM416 404h1v1h-1zM420 404h1v1h-1zM379 405h1v1h-1zM380 405h1v1h-1zM383 405h1v1h-1zM384 405h1v1h-1zM386 405h1v1h-1zM387 405h1v1h-1zM388 405h1v1h-1zM389 405h1v1h-1zM390 405h1v1h-1zM391 405h1v1h-1zM392 405h1v1h-1zM393 405h1v1h-1zM394 405h1v1h-1zM395 405h1v1h-1zM396 405h1v1h-1zM397 405h1v1h-1zM398 405h1v1h-1zM399 405h1v1h-1zM401 405h1v1h-1zM402 405h1v1h-1zM403 405h1v1h-1zM404 405h1v1h-1zM405 405h1v1h-1zM407 405h1v1h-1zM410 405h1v1h-1zM412 405h1v1h-1zM413 405h1v1h-1zM414 405h1v1h-1zM420 405h1v1h-1zM426 405h1v1h-1zM378 406h1v1h-1zM380 406h1v1h-1zM382 406h1v1h-1zM383 406h1v1h-1zM386 406h1v1h-1zM387 406h1v1h-1zM388 406h1v1h-1zM389 406h1v1h-1zM390 406h1v1h-1zM392 406h1v1h-1zM393 406h1v1h-1zM394 406h1v1h-1zM395 406h1v1h-1zM396 406h1v1h-1zM397 406h1v1h-1zM398 406h1v1h-1zM399 406h1v1h-1zM400 406h1v1h-1zM401 406h1v1h-1zM402 406h1v1h-1zM403 406h1v1h-1zM405 406h1v1h-1zM406 406h1v1h-1zM408 406h1v1h-1zM410 406h1v1h-1zM411 406h1v1h-1zM412 406h1v1h-1zM417 406h1v1h-1zM422 406h1v1h-1zM380 407h1v1h-1zM382 407h1v1h-1zM384 407h1v1h-1zM385 407h1v1h-1zM386 407h1v1h-1zM389 407h1v1h-1zM390 407h1v1h-1zM391 407h1v1h-1zM392 407h1v1h-1zM393 407h1v1h-1zM394 407h1v1h-1zM395 407h1v1h-1zM396 407h1v1h-1zM397 407h1v1h-1zM398 407h1v1h-1zM399 407h1v1h-1zM400 407h1v1h-1zM401 407h1v1h-1zM402 407h1v1h-1zM403 407h1v1h-1zM405 407h1v1h-1zM406 407h1v1h-1zM407 407h1v1h-1zM409 407h1v1h-1zM412 407h1v1h-1zM379 408h1v1h-1zM386 408h1v1h-1zM388 408h1v1h-1zM389 408h1v1h-1zM390 408h1v1h-1zM391 408h1v1h-1zM392 408h1v1h-1zM393 408h1v1h-1zM395 408h1v1h-1zM396 408h1v1h-1zM397 408h1v1h-1zM398 408h1v1h-1zM399 408h1v1h-1zM401 408h1v1h-1zM402 408h1v1h-1zM403 408h1v1h-1zM404 408h1v1h-1zM406 408h1v1h-1zM407 408h1v1h-1zM411 408h1v1h-1zM378 409h1v1h-1zM379 409h1v1h-1zM381 409h1v1h-1zM383 409h1v1h-1zM384 409h1v1h-1zM385 409h1v1h-1zM387 409h1v1h-1zM388 409h1v1h-1zM390 409h1v1h-1zM391 409h1v1h-1zM393 409h1v1h-1zM394 409h1v1h-1zM396 409h1v1h-1zM398 409h1v1h-1zM399 409h1v1h-1zM400 409h1v1h-1zM401 409h1v1h-1zM402 409h1v1h-1zM403 409h1v1h-1zM404 409h1v1h-1zM407 409h1v1h-1zM411 409h1v1h-1zM417 409h1v1h-1zM418 409h1v1h-1zM383 410h1v1h-1zM384 410h1v1h-1zM385 410h1v1h-1zM387 410h1v1h-1zM388 410h1v1h-1zM390 410h1v1h-1zM391 410h1v1h-1zM393 410h1v1h-1zM394 410h1v1h-1zM395 410h1v1h-1zM396 410h1v1h-1zM397 410h1v1h-1zM398 410h1v1h-1zM399 410h1v1h-1zM400 410h1v1h-1zM401 410h1v1h-1zM402 410h1v1h-1zM403 410h1v1h-1zM404 410h1v1h-1zM405 410h1v1h-1zM407 410h1v1h-1zM409 410h1v1h-1zM410 410h1v1h-1zM414 410h1v1h-1zM417 410h1v1h-1zM418 410h1v1h-1zM383 411h1v1h-1zM385 411h1v1h-1zM386 411h1v1h-1zM387 411h1v1h-1zM389 411h1v1h-1zM390 411h1v1h-1zM391 411h1v1h-1zM392 411h1v1h-1zM393 411h1v1h-1zM394 411h1v1h-1zM395 411h1v1h-1zM396 411h1v1h-1zM398 411h1v1h-1zM399 411h1v1h-1zM400 411h1v1h-1zM402 411h1v1h-1zM403 411h1v1h-1zM405 411h1v1h-1zM407 411h1v1h-1zM412 411h1v1h-1zM413 411h1v1h-1zM416 411h1v1h-1zM420 411h1v1h-1zM382 412h1v1h-1zM389 412h1v1h-1zM395 412h1v1h-1zM396 412h1v1h-1zM398 412h1v1h-1zM400 412h1v1h-1zM402 412h1v1h-1zM404 412h1v1h-1zM405 412h1v1h-1zM406 412h1v1h-1zM408 412h1v1h-1zM410 412h1v1h-1zM419 412h1v1h-1zM423 412h1v1h-1zM387 413h1v1h-1zM388 413h1v1h-1zM389 413h1v1h-1zM390 413h1v1h-1zM392 413h1v1h-1zM393 413h1v1h-1zM394 413h1v1h-1zM395 413h1v1h-1zM396 413h1v1h-1zM397 413h1v1h-1zM398 413h1v1h-1zM403 413h1v1h-1zM405 413h1v1h-1zM407 413h1v1h-1zM408 413h1v1h-1zM414 413h1v1h-1zM385 414h1v1h-1zM386 414h1v1h-1zM388 414h1v1h-1zM389 414h1v1h-1zM390 414h1v1h-1zM391 414h1v1h-1zM393 414h1v1h-1zM394 414h1v1h-1zM399 414h1v1h-1zM400 414h1v1h-1zM404 414h1v1h-1zM406 414h1v1h-1zM407 414h1v1h-1zM410 414h1v1h-1zM420 414h1v1h-1zM378 415h1v1h-1zM387 415h1v1h-1zM389 415h1v1h-1zM390 415h1v1h-1zM393 415h1v1h-1zM394 415h1v1h-1zM396 415h1v1h-1zM400 415h1v1h-1zM402 415h1v1h-1zM404 415h1v1h-1zM406 415h1v1h-1zM408 415h1v1h-1zM383 416h1v1h-1zM386 416h1v1h-1zM391 416h1v1h-1zM392 416h1v1h-1zM393 416h1v1h-1zM400 416h1v1h-1zM403 416h1v1h-1zM404 416h1v1h-1zM411 416h1v1h-1zM388 417h1v1h-1zM391 417h1v1h-1zM394 417h1v1h-1zM395 417h1v1h-1zM397 417h1v1h-1zM400 417h1v1h-1zM402 417h1v1h-1zM409 417h1v1h-1zM382 418h1v1h-1zM386 418h1v1h-1zM395 418h1v1h-1zM398 418h1v1h-1zM402 418h1v1h-1zM403 418h1v1h-1zM385 419h1v1h-1zM391 419h1v1h-1zM395 419h1v1h-1zM397 419h1v1h-1zM399 419h1v1h-1zM405 419h1v1h-1zM411 419h1v1h-1zM413 419h1v1h-1zM385 420h1v1h-1zM392 420h1v1h-1zM394 420h1v1h-1zM403 420h1v1h-1zM408 420h1v1h-1zM390 421h1v1h-1zM397 421h1v1h-1zM398 421h1v1h-1zM411 421h1v1h-1zM401 423h1v1h-1z"/>
<rect x="38" y="347.3" width="104.4" height="78.7" fill="none" stroke="#222" stroke-width="1.2"/>
<line x1="36" y1="349.92" x2="38" y2="349.92" stroke="#000" stroke-width="0.9"/>
<line x1="36" y1="352.55" x2="38" y2="352.55" stroke="#000" stroke-width="0.9"/>
<line x1="36" y1="355.17" x2="38" y2="355.17" stroke="#000" stroke-width="0.9"/>
<line x1="36" y1="357.79" x2="38" y2="357.79" stroke="#000" stroke-width="0.9"/>
<line x1="35" y1="360.42" x2="38" y2="360.42" stroke="#000" stroke-width="0.9"/>
<line x1="36" y1="363.04" x2="38" y2="363.04" stroke="#000" stroke-width="0.9"/>
<line x1="36" y1="365.66" x2="38" y2="365.66" stroke="#000" stroke-width="0.9"/>
<line x1="36" y1="368.29" x2="38" y2="368.29" stroke="#000" stroke-width="0.9"/>
<line x1="36" y1="370.91" x2="38" y2="370.91" stroke="#000" stroke-width="0.9"/>
<line x1="35" y1="373.53" x2="38" y2="373.53" stroke="#000" stroke-width="0.9"/>
<line x1="36" y1="376.16" x2="38" y2="376.16" stroke="#000" stroke-width="0.9"/>
<line x1="36" y1="378.78" x2="38" y2="378.78" stroke="#000" stroke-width="0.9"/>
<line x1="36" y1="381.4" x2="38" y2="381.4" stroke="#000" stroke-width="0.9"/>
<line x1="36" y1="384.03" x2="38" y2="384.03" stroke="#000" stroke-width="0.9"/>
<line x1="35" y1="386.65" x2="38" y2="386.65" stroke="#000" stroke-width="0.9"/>
<line x1="36" y1="389.27" x2="38" y2="389.27" stroke="#000" stroke-width="0.9"/>
<line x1="36" y1="391.9" x2="38" y2="391.9" stroke="#000" stroke-width="0.9"/>
<line x1="36" y1="394.52" x2="38" y2="394.52" stroke="#000" stroke-width="0.9"/>
<line x1="36" y1="397.14" x2="38" y2="397.14" stroke="#000" stroke-width="0.9"/>
<line x1="35" y1="399.77" x2="38" y2="399.77" stroke="#000" stroke-width="0.9"/>
<line x1="36" y1="402.39" x2="38" y2="402.39" stroke="#000" stroke-width="0.9"/>
<line x1="36" y1="405.01" x2="38" y2="405.01" stroke="#000" stroke-width="0.9"/>
<line x1="36" y1="407.64" x2="38" y2="407.64" stroke="#000" stroke-width="0.9"/>
<line x1="36" y1="410.26" x2="38" y2="410.26" stroke="#000" stroke-width="0.9"/>
<line x1="35" y1="412.88" x2="38" y2="412.88" stroke="#000" stroke-width="0.9"/>
<line x1="36" y1="415.51" x2="38" y2="415.51" stroke="#000" stroke-width="0.9"/>
<line x1="36" y1="418.13" x2="38" y2="418.13" stroke="#000" stroke-width="0.9"/>
<line x1="36" y1="420.75" x2="38" y2="420.75" stroke="#000" stroke-width="0.9"/>
<line x1="36" y1="423.38" x2="38" y2="423.38" stroke="#000" stroke-width="0.9"/>
<line x1="41.07" y1="426" x2="41.07" y2="428" stroke="#000" stroke-width="0.9"/>
<line x1="44.14" y1="426" x2="44.14" y2="428" stroke="#000" stroke-width="0.9"/>
<line x1="47.21" y1="426" x2="47.21" y2="428" stroke="#000" stroke-width="0.9"/>
<line x1="50.28" y1="426" x2="50.28" y2="428" stroke="#000" stroke-width="0.9"/>
<line x1="53.35" y1="426" x2="53.35" y2="429" stroke="#000" stroke-width="0.9"/>
<line x1="56.42" y1="426" x2="56.42" y2="428" stroke="#000" stroke-width="0.9"/>
<line x1="59.49" y1="426" x2="59.49" y2="428" stroke="#000" stroke-width="0.9"/>
<line x1="62.56" y1="426" x2="62.56" y2="428" stroke="#000" stroke-width="0.9"/>
<line x1="65.64" y1="426" x2="65.64" y2="428" stroke="#000" stroke-width="0.9"/>
<line x1="68.71" y1="426" x2="68.71" y2="429" stroke="#000" stroke-width="0.9"/>
<line x1="71.78" y1="426" x2="71.78" y2="428" stroke="#000" stroke-width="0.9"/>
<line x1="74.85" y1="426" x2="74.85" y2="428" stroke="#000" stroke-width="0.9"/>
<line x1="77.92" y1="426" x2="77.92" y2="428" stroke="#000" stroke-width="0.9"/>
<line x1="80.99" y1="426" x2="80.99" y2="428" stroke="#000" stroke-width="0.9"/>
<line x1="84.06" y1="426" x2="84.06" y2="429" stroke="#000" stroke-width="0.9"/>
<line x1="87.13" y1="426" x2="87.13" y2="428" stroke="#000" stroke-width="0.9"/>
<line x1="90.2" y1="426" x2="90.2" y2="428" stroke="#000" stroke-width="0.9"/>
<line x1="93.27" y1="426" x2="93.27" y2="428" stroke="#000" stroke-width="0.9"/>
<line x1="96.34" y1="426" x2="96.34" y2="428" stroke="#000" stroke-width="0.9"/>
<line x1="99.41" y1="426" x2="99.41" y2="429" stroke="#000" stroke-width="0.9"/>
<line x1="102.48" y1="426" x2="102.48" y2="428" stroke="#000" stroke-width="0.9"/>
<line x1="105.55" y1="426" x2="105.55" y2="428" stroke="#000" stroke-width="0.9"/>
<line x1="108.62" y1="426" x2="108.62" y2="428" stroke="#000" stroke-width="0.9"/>
<line x1="111.69" y1="426" x2="111.69" y2="428" stroke="#000" stroke-width="0.9"/>
<line x1="114.76" y1="426" x2="114.76" y2="429" stroke="#000" stroke-width="0.9"/>
<line x1="117.84" y1="426" x2="117.84" y2="428" stroke="#000" stroke-width="0.9"/>
<line x1="120.91" y1="426" x2="120.91" y2="428" stroke="#000" stroke-width="0.9"/>
<line x1="123.98" y1="426" x2="123.98" y2="428" stroke="#000" stroke-width="0.9"/>
<line x1="127.05" y1="426" x2="127.05" y2="428" stroke="#000" stroke-width="0.9"/>
<line x1="130.12" y1="426" x2="130.12" y2="429" stroke="#000" stroke-width="0.9"/>
<line x1="133.19" y1="426" x2="133.19" y2="428" stroke="#000" stroke-width="0.9"/>
<line x1="136.26" y1="426" x2="136.26" y2="428" stroke="#000" stroke-width="0.9"/>
<line x1="139.33" y1="426" x2="139.33" y2="428" stroke="#000" stroke-width="0.9"/>
<rect x="39.7" y="349.6" width="39.1" height="24.2" rx="1" fill="none" stroke="#111" stroke-width="1.25"/>
<rect x="41.1" y="351" width="36.3" height="21.4" fill="none" stroke="#999" stroke-width="0.7"/>
<rect x="39.7" y="375.75" width="39.1" height="26.15" rx="1" fill="none" stroke="#111" stroke-width="1.25"/>
<rect x="41.1" y="377.15" width="36.3" height="23.35" fill="none" stroke="#999" stroke-width="0.7"/>
<rect x="39.7" y="403.6" width="39.1" height="20.7" rx="1" fill="none" stroke="#111" stroke-width="1.25"/>
<rect x="41.1" y="405" width="36.3" height="17.9" fill="none" stroke="#999" stroke-width="0.7"/>
<rect x="80.5" y="349.6" width="46.1" height="24.2" rx="1" fill="none" stroke="#111" stroke-width="1.25"/>
<rect x="81.9" y="351" width="43.3" height="21.4" fill="none" stroke="#999" stroke-width="0.7"/>
<rect x="80.5" y="375.75" width="46.1" height="26.15" rx="1" fill="none" stroke="#111" stroke-width="1.25"/>
<rect x="81.9" y="377.15" width="43.3" height="23.35" fill="none" stroke="#999" stroke-width="0.7"/>
<rect x="80.5" y="403.6" width="46.1" height="20.7" rx="1" fill="none" stroke="#111" stroke-width="1.25"/>
<rect x="81.9" y="405" width="43.3" height="17.9" fill="none" stroke="#999" stroke-width="0.7"/>
<rect x="151.25" y="347" width="103.75" height="78.75" fill="none" stroke="#222" stroke-width="1.2"/>
<line x1="149.25" y1="349.62" x2="151.25" y2="349.62" stroke="#000" stroke-width="0.9"/>
<line x1="149.25" y1="352.25" x2="151.25" y2="352.25" stroke="#000" stroke-width="0.9"/>
<line x1="149.25" y1="354.88" x2="151.25" y2="354.88" stroke="#000" stroke-width="0.9"/>
<line x1="149.25" y1="357.5" x2="151.25" y2="357.5" stroke="#000" stroke-width="0.9"/>
<line x1="148.25" y1="360.12" x2="151.25" y2="360.12" stroke="#000" stroke-width="0.9"/>
<line x1="149.25" y1="362.75" x2="151.25" y2="362.75" stroke="#000" stroke-width="0.9"/>
<line x1="149.25" y1="365.38" x2="151.25" y2="365.38" stroke="#000" stroke-width="0.9"/>
<line x1="149.25" y1="368" x2="151.25" y2="368" stroke="#000" stroke-width="0.9"/>
<line x1="149.25" y1="370.62" x2="151.25" y2="370.62" stroke="#000" stroke-width="0.9"/>
<line x1="148.25" y1="373.25" x2="151.25" y2="373.25" stroke="#000" stroke-width="0.9"/>
<line x1="149.25" y1="375.88" x2="151.25" y2="375.88" stroke="#000" stroke-width="0.9"/>
<line x1="149.25" y1="378.5" x2="151.25" y2="378.5" stroke="#000" stroke-width="0.9"/>
<line x1="149.25" y1="381.12" x2="151.25" y2="381.12" stroke="#000" stroke-width="0.9"/>
<line x1="149.25" y1="383.75" x2="151.25" y2="383.75" stroke="#000" stroke-width="0.9"/>
<line x1="148.25" y1="386.38" x2="151.25" y2="386.38" stroke="#000" stroke-width="0.9"/>
<line x1="149.25" y1="389" x2="151.25" y2="389" stroke="#000" stroke-width="0.9"/>
<line x1="149.25" y1="391.62" x2="151.25" y2="391.62" stroke="#000" stroke-width="0.9"/>
<line x1="149.25" y1="394.25" x2="151.25" y2="394.25" stroke="#000" stroke-width="0.9"/>
<line x1="149.25" y1="396.88" x2="151.25" y2="396.88" stroke="#000" stroke-width="0.9"/>
<line x1="148.25" y1="399.5" x2="151.25" y2="399.5" stroke="#000" stroke-width="0.9"/>
<line x1="149.25" y1="402.12" x2="151.25" y2="402.12" stroke="#000" stroke-width="0.9"/>
<line x1="149.25" y1="404.75" x2="151.25" y2="404.75" stroke="#000" stroke-width="0.9"/>
<line x1="149.25" y1="407.38" x2="151.25" y2="407.38" stroke="#000" stroke-width="0.9"/>
<line x1="149.25" y1="410" x2="151.25" y2="410" stroke="#000" stroke-width="0.9"/>
<line x1="148.25" y1="412.62" x2="151.25" y2="412.62" stroke="#000" stroke-width="0.9"/>
<line x1="149.25" y1="415.25" x2="151.25" y2="415.25" stroke="#000" stroke-width="0.9"/>
<line x1="149.25" y1="417.88" x2="151.25" y2="417.88" stroke="#000" stroke-width="0.9"/>
<line x1="149.25" y1="420.5" x2="151.25" y2="420.5" stroke="#000" stroke-width="0.9"/>
<line x1="149.25" y1="423.12" x2="151.25" y2="423.12" stroke="#000" stroke-width="0.9"/>
<line x1="154.3" y1="425.75" x2="154.3" y2="427.75" stroke="#000" stroke-width="0.9"/>
<line x1="157.35" y1="425.75" x2="157.35" y2="427.75" stroke="#000" stroke-width="0.9"/>
<line x1="160.4" y1="425.75" x2="160.4" y2="427.75" stroke="#000" stroke-width="0.9"/>
<line x1="163.46" y1="425.75" x2="163.46" y2="427.75" stroke="#000" stroke-width="0.9"/>
<line x1="166.51" y1="425.75" x2="166.51" y2="428.75" stroke="#000" stroke-width="0.9"/>
<line x1="169.56" y1="425.75" x2="169.56" y2="427.75" stroke="#000" stroke-width="0.9"/>
<line x1="172.61" y1="425.75" x2="172.61" y2="427.75" stroke="#000" stroke-width="0.9"/>
<line x1="175.66" y1="425.75" x2="175.66" y2="427.75" stroke="#000" stroke-width="0.9"/>
<line x1="178.71" y1="425.75" x2="178.71" y2="427.75" stroke="#000" stroke-width="0.9"/>
<line x1="181.76" y1="425.75" x2="181.76" y2="428.75" stroke="#000" stroke-width="0.9"/>
<line x1="184.82" y1="425.75" x2="184.82" y2="427.75" stroke="#000" stroke-width="0.9"/>
<line x1="187.87" y1="425.75" x2="187.87" y2="427.75" stroke="#000" stroke-width="0.9"/>
<line x1="190.92" y1="425.75" x2="190.92" y2="427.75" stroke="#000" stroke-width="0.9"/>
<line x1="193.97" y1="425.75" x2="193.97" y2="427.75" stroke="#000" stroke-width="0.9"/>
<line x1="197.02" y1="425.75" x2="197.02" y2="428.75" stroke="#000" stroke-width="0.9"/>
<line x1="200.07" y1="425.75" x2="200.07" y2="427.75" stroke="#000" stroke-width="0.9"/>
<line x1="203.12" y1="425.75" x2="203.12" y2="427.75" stroke="#000" stroke-width="0.9"/>
<line x1="206.18" y1="425.75" x2="206.18" y2="427.75" stroke="#000" stroke-width="0.9"/>
<line x1="209.23" y1="425.75" x2="209.23" y2="427.75" stroke="#000" stroke-width="0.9"/>
<line x1="212.28" y1="425.75" x2="212.28" y2="428.75" stroke="#000" stroke-width="0.9"/>
<line x1="215.33" y1="425.75" x2="215.33" y2="427.75" stroke="#000" stroke-width="0.9"/>
<line x1="218.38" y1="425.75" x2="218.38" y2="427.75" stroke="#000" stroke-width="0.9"/>
<line x1="221.43" y1="425.75" x2="221.43" y2="427.75" stroke="#000" stroke-width="0.9"/>
<line x1="224.49" y1="425.75" x2="224.49" y2="427.75" stroke="#000" stroke-width="0.9"/>
<line x1="227.54" y1="425.75" x2="227.54" y2="428.75" stroke="#000" stroke-width="0.9"/>
<line x1="230.59" y1="425.75" x2="230.59" y2="427.75" stroke="#000" stroke-width="0.9"/>
<line x1="233.64" y1="425.75" x2="233.64" y2="427.75" stroke="#000" stroke-width="0.9"/>
<line x1="236.69" y1="425.75" x2="236.69" y2="427.75" stroke="#000" stroke-width="0.9"/>
<line x1="239.74" y1="425.75" x2="239.74" y2="427.75" stroke="#000" stroke-width="0.9"/>
<line x1="242.79" y1="425.75" x2="242.79" y2="428.75" stroke="#000" stroke-width="0.9"/>
<line x1="245.85" y1="425.75" x2="245.85" y2="427.75" stroke="#000" stroke-width="0.9"/>
<line x1="248.9" y1="425.75" x2="248.9" y2="427.75" stroke="#000" stroke-width="0.9"/>
<line x1="251.95" y1="425.75" x2="251.95" y2="427.75" stroke="#000" stroke-width="0.9"/>
<rect x="153" y="349.6" width="39.5" height="24.2" rx="1" fill="none" stroke="#111" stroke-width="1.25"/>
<rect x="154.4" y="351" width="36.7" height="21.4" fill="none" stroke="#999" stroke-width="0.7"/>
<rect x="153" y="375.75" width="39.5" height="26.15" rx="1" fill="none" stroke="#111" stroke-width="1.25"/>
<rect x="154.4" y="377.15" width="36.7" height="23.35" fill="none" stroke="#999" stroke-width="0.7"/>
<rect x="153" y="403.6" width="39.5" height="20.7" rx="1" fill="none" stroke="#111" stroke-width="1.25"/>
<rect x="154.4" y="405" width="36.7" height="17.9" fill="none" stroke="#999" stroke-width="0.7"/>
<rect x="194.5" y="349.6" width="45" height="24.2" rx="1" fill="none" stroke="#111" stroke-width="1.25"/>
<rect x="195.9" y="351" width="42.2" height="21.4" fill="none" stroke="#999" stroke-width="0.7"/>
<rect x="194.5" y="375.75" width="45" height="26.15" rx="1" fill="none" stroke="#111" stroke-width="1.25"/>
<rect x="195.9" y="377.15" width="42.2" height="23.35" fill="none" stroke="#999" stroke-width="0.7"/>
<rect x="194.5" y="403.6" width="45" height="20.7" rx="1" fill="none" stroke="#111" stroke-width="1.25"/>
<rect x="195.9" y="405" width="42.2" height="17.9" fill="none" stroke="#999" stroke-width="0.7"/>
<rect x="264.5" y="347.5" width="103" height="78" fill="none" stroke="#222" stroke-width="1.2"/>
<line x1="262.5" y1="350.1" x2="264.5" y2="350.1" stroke="#000" stroke-width="0.9"/>
<line x1="262.5" y1="352.7" x2="264.5" y2="352.7" stroke="#000" stroke-width="0.9"/>
<line x1="262.5" y1="355.3" x2="264.5" y2="355.3" stroke="#000" stroke-width="0.9"/>
<line x1="262.5" y1="357.9" x2="264.5" y2="357.9" stroke="#000" stroke-width="0.9"/>
<line x1="261.5" y1="360.5" x2="264.5" y2="360.5" stroke="#000" stroke-width="0.9"/>
<line x1="262.5" y1="363.1" x2="264.5" y2="363.1" stroke="#000" stroke-width="0.9"/>
<line x1="262.5" y1="365.7" x2="264.5" y2="365.7" stroke="#000" stroke-width="0.9"/>
<line x1="262.5" y1="368.3" x2="264.5" y2="368.3" stroke="#000" stroke-width="0.9"/>
<line x1="262.5" y1="370.9" x2="264.5" y2="370.9" stroke="#000" stroke-width="0.9"/>
<line x1="261.5" y1="373.5" x2="264.5" y2="373.5" stroke="#000" stroke-width="0.9"/>
<line x1="262.5" y1="376.1" x2="264.5" y2="376.1" stroke="#000" stroke-width="0.9"/>
<line x1="262.5" y1="378.7" x2="264.5" y2="378.7" stroke="#000" stroke-width="0.9"/>
<line x1="262.5" y1="381.3" x2="264.5" y2="381.3" stroke="#000" stroke-width="0.9"/>
<line x1="262.5" y1="383.9" x2="264.5" y2="383.9" stroke="#000" stroke-width="0.9"/>
<line x1="261.5" y1="386.5" x2="264.5" y2="386.5" stroke="#000" stroke-width="0.9"/>
<line x1="262.5" y1="389.1" x2="264.5" y2="389.1" stroke="#000" stroke-width="0.9"/>
<line x1="262.5" y1="391.7" x2="264.5" y2="391.7" stroke="#000" stroke-width="0.9"/>
<line x1="262.5" y1="394.3" x2="264.5" y2="394.3" stroke="#000" stroke-width="0.9"/>
<line x1="262.5" y1="396.9" x2="264.5" y2="396.9" stroke="#000" stroke-width="0.9"/>
<line x1="261.5" y1="399.5" x2="264.5" y2="399.5" stroke="#000" stroke-width="0.9"/>
<line x1="262.5" y1="402.1" x2="264.5" y2="402.1" stroke="#000" stroke-width="0.9"/>
<line x1="262.5" y1="404.7" x2="264.5" y2="404.7" stroke="#000" stroke-width="0.9"/>
<line x1="262.5" y1="407.3" x2="264.5" y2="407.3" stroke="#000" stroke-width="0.9"/>
<line x1="262.5" y1="409.9" x2="264.5" y2="409.9" stroke="#000" stroke-width="0.9"/>
<line x1="261.5" y1="412.5" x2="264.5" y2="412.5" stroke="#000" stroke-width="0.9"/>
<line x1="262.5" y1="415.1" x2="264.5" y2="415.1" stroke="#000" stroke-width="0.9"/>
<line x1="262.5" y1="417.7" x2="264.5" y2="417.7" stroke="#000" stroke-width="0.9"/>
<line x1="262.5" y1="420.3" x2="264.5" y2="420.3" stroke="#000" stroke-width="0.9"/>
<line x1="262.5" y1="422.9" x2="264.5" y2="422.9" stroke="#000" stroke-width="0.9"/>
<line x1="267.53" y1="425.5" x2="267.53" y2="427.5" stroke="#000" stroke-width="0.9"/>
<line x1="270.56" y1="425.5" x2="270.56" y2="427.5" stroke="#000" stroke-width="0.9"/>
<line x1="273.59" y1="425.5" x2="273.59" y2="427.5" stroke="#000" stroke-width="0.9"/>
<line x1="276.62" y1="425.5" x2="276.62" y2="427.5" stroke="#000" stroke-width="0.9"/>
<line x1="279.65" y1="425.5" x2="279.65" y2="428.5" stroke="#000" stroke-width="0.9"/>
<line x1="282.68" y1="425.5" x2="282.68" y2="427.5" stroke="#000" stroke-width="0.9"/>
<line x1="285.71" y1="425.5" x2="285.71" y2="427.5" stroke="#000" stroke-width="0.9"/>
<line x1="288.74" y1="425.5" x2="288.74" y2="427.5" stroke="#000" stroke-width="0.9"/>
<line x1="291.76" y1="425.5" x2="291.76" y2="427.5" stroke="#000" stroke-width="0.9"/>
<line x1="294.79" y1="425.5" x2="294.79" y2="428.5" stroke="#000" stroke-width="0.9"/>
<line x1="297.82" y1="425.5" x2="297.82" y2="427.5" stroke="#000" stroke-width="0.9"/>
<line x1="300.85" y1="425.5" x2="300.85" y2="427.5" stroke="#000" stroke-width="0.9"/>
<line x1="303.88" y1="425.5" x2="303.88" y2="427.5" stroke="#000" stroke-width="0.9"/>
<line x1="306.91" y1="425.5" x2="306.91" y2="427.5" stroke="#000" stroke-width="0.9"/>
<line x1="309.94" y1="425.5" x2="309.94" y2="428.5" stroke="#000" stroke-width="0.9"/>
<line x1="312.97" y1="425.5" x2="312.97" y2="427.5" stroke="#000" stroke-width="0.9"/>
<line x1="316" y1="425.5" x2="316" y2="427.5" stroke="#000" stroke-width="0.9"/>
<line x1="319.03" y1="425.5" x2="319.03" y2="427.5" stroke="#000" stroke-width="0.9"/>
<line x1="322.06" y1="425.5" x2="322.06" y2="427.5" stroke="#000" stroke-width="0.9"/>
<line x1="325.09" y1="425.5" x2="325.09" y2="428.5" stroke="#000" stroke-width="0.9"/>
<line x1="328.12" y1="425.5" x2="328.12" y2="427.5" stroke="#000" stroke-width="0.9"/>
<line x1="331.15" y1="425.5" x2="331.15" y2="427.5" stroke="#000" stroke-width="0.9"/>
<line x1="334.18" y1="425.5" x2="334.18" y2="427.5" stroke="#000" stroke-width="0.9"/>
<line x1="337.21" y1="425.5" x2="337.21" y2="427.5" stroke="#000" stroke-width="0.9"/>
<line x1="340.24" y1="425.5" x2="340.24" y2="428.5" stroke="#000" stroke-width="0.9"/>
<line x1="343.26" y1="425.5" x2="343.26" y2="427.5" stroke="#000" stroke-width="0.9"/>
<line x1="346.29" y1="425.5" x2="346.29" y2="427.5" stroke="#000" stroke-width="0.9"/>
<line x1="349.32" y1="425.5" x2="349.32" y2="427.5" stroke="#000" stroke-width="0.9"/>
<line x1="352.35" y1="425.5" x2="352.35" y2="427.5" stroke="#000" stroke-width="0.9"/>
<line x1="355.38" y1="425.5" x2="355.38" y2="428.5" stroke="#000" stroke-width="0.9"/>
<line x1="358.41" y1="425.5" x2="358.41" y2="427.5" stroke="#000" stroke-width="0.9"/>
<line x1="361.44" y1="425.5" x2="361.44" y2="427.5" stroke="#000" stroke-width="0.9"/>
<line x1="364.47" y1="425.5" x2="364.47" y2="427.5" stroke="#000" stroke-width="0.9"/>
<rect x="265.5" y="349.6" width="39.5" height="24.2" rx="1" fill="none" stroke="#111" stroke-width="1.25"/>
<rect x="266.9" y="351" width="36.7" height="21.4" fill="none" stroke="#999" stroke-width="0.7"/>
<rect x="265.5" y="375.75" width="39.5" height="26.15" rx="1" fill="none" stroke="#111" stroke-width="1.25"/>
<rect x="266.9" y="377.15" width="36.7" height="23.35" fill="none" stroke="#999" stroke-width="0.7"/>
<rect x="265.5" y="403.6" width="39.5" height="20.7" rx="1" fill="none" stroke="#111" stroke-width="1.25"/>
<rect x="266.9" y="405" width="36.7" height="17.9" fill="none" stroke="#999" stroke-width="0.7"/>
<rect x="307" y="349.6" width="45" height="24.2" rx="1" fill="none" stroke="#111" stroke-width="1.25"/>
<rect x="308.4" y="351" width="42.2" height="21.4" fill="none" stroke="#999" stroke-width="0.7"/>
<rect x="307" y="375.75" width="45" height="26.15" rx="1" fill="none" stroke="#111" stroke-width="1.25"/>
<rect x="308.4" y="377.15" width="42.2" height="23.35" fill="none" stroke="#999" stroke-width="0.7"/>
<rect x="307" y="403.6" width="45" height="20.7" rx="1" fill="none" stroke="#111" stroke-width="1.25"/>
<rect x="308.4" y="405" width="42.2" height="17.9" fill="none" stroke="#999" stroke-width="0.7"/>
<rect x="376.25" y="347.5" width="105" height="78.25" fill="none" stroke="#222" stroke-width="1.2"/>
<line x1="374.25" y1="350.11" x2="376.25" y2="350.11" stroke="#000" stroke-width="0.9"/>
<line x1="374.25" y1="352.72" x2="376.25" y2="352.72" stroke="#000" stroke-width="0.9"/>
<line x1="374.25" y1="355.32" x2="376.25" y2="355.32" stroke="#000" stroke-width="0.9"/>
<line x1="374.25" y1="357.93" x2="376.25" y2="357.93" stroke="#000" stroke-width="0.9"/>
<line x1="373.25" y1="360.54" x2="376.25" y2="360.54" stroke="#000" stroke-width="0.9"/>
<line x1="374.25" y1="363.15" x2="376.25" y2="363.15" stroke="#000" stroke-width="0.9"/>
<line x1="374.25" y1="365.76" x2="376.25" y2="365.76" stroke="#000" stroke-width="0.9"/>
<line x1="374.25" y1="368.37" x2="376.25" y2="368.37" stroke="#000" stroke-width="0.9"/>
<line x1="374.25" y1="370.98" x2="376.25" y2="370.98" stroke="#000" stroke-width="0.9"/>
<line x1="373.25" y1="373.58" x2="376.25" y2="373.58" stroke="#000" stroke-width="0.9"/>
<line x1="374.25" y1="376.19" x2="376.25" y2="376.19" stroke="#000" stroke-width="0.9"/>
<line x1="374.25" y1="378.8" x2="376.25" y2="378.8" stroke="#000" stroke-width="0.9"/>
<line x1="374.25" y1="381.41" x2="376.25" y2="381.41" stroke="#000" stroke-width="0.9"/>
<line x1="374.25" y1="384.02" x2="376.25" y2="384.02" stroke="#000" stroke-width="0.9"/>
<line x1="373.25" y1="386.62" x2="376.25" y2="386.62" stroke="#000" stroke-width="0.9"/>
<line x1="374.25" y1="389.23" x2="376.25" y2="389.23" stroke="#000" stroke-width="0.9"/>
<line x1="374.25" y1="391.84" x2="376.25" y2="391.84" stroke="#000" stroke-width="0.9"/>
<line x1="374.25" y1="394.45" x2="376.25" y2="394.45" stroke="#000" stroke-width="0.9"/>
<line x1="374.25" y1="397.06" x2="376.25" y2="397.06" stroke="#000" stroke-width="0.9"/>
<line x1="373.25" y1="399.67" x2="376.25" y2="399.67" stroke="#000" stroke-width="0.9"/>
<line x1="374.25" y1="402.27" x2="376.25" y2="402.27" stroke="#000" stroke-width="0.9"/>
<line x1="374.25" y1="404.88" x2="376.25" y2="404.88" stroke="#000" stroke-width="0.9"/>
<line x1="374.25" y1="407.49" x2="376.25" y2="407.49" stroke="#000" stroke-width="0.9"/>
<line x1="374.25" y1="410.1" x2="376.25" y2="410.1" stroke="#000" stroke-width="0.9"/>
<line x1="373.25" y1="412.71" x2="376.25" y2="412.71" stroke="#000" stroke-width="0.9"/>
<line x1="374.25" y1="415.32" x2="376.25" y2="415.32" stroke="#000" stroke-width="0.9"/>
<line x1="374.25" y1="417.93" x2="376.25" y2="417.93" stroke="#000" stroke-width="0.9"/>
<line x1="374.25" y1="420.53" x2="376.25" y2="420.53" stroke="#000" stroke-width="0.9"/>
<line x1="374.25" y1="423.14" x2="376.25" y2="423.14" stroke="#000" stroke-width="0.9"/>
<line x1="379.34" y1="425.75" x2="379.34" y2="427.75" stroke="#000" stroke-width="0.9"/>
<line x1="382.43" y1="425.75" x2="382.43" y2="427.75" stroke="#000" stroke-width="0.9"/>
<line x1="385.51" y1="425.75" x2="385.51" y2="427.75" stroke="#000" stroke-width="0.9"/>
<line x1="388.6" y1="425.75" x2="388.6" y2="427.75" stroke="#000" stroke-width="0.9"/>
<line x1="391.69" y1="425.75" x2="391.69" y2="428.75" stroke="#000" stroke-width="0.9"/>
<line x1="394.78" y1="425.75" x2="394.78" y2="427.75" stroke="#000" stroke-width="0.9"/>
<line x1="397.87" y1="425.75" x2="397.87" y2="427.75" stroke="#000" stroke-width="0.9"/>
<line x1="400.96" y1="425.75" x2="400.96" y2="427.75" stroke="#000" stroke-width="0.9"/>
<line x1="404.04" y1="425.75" x2="404.04" y2="427.75" stroke="#000" stroke-width="0.9"/>
<line x1="407.13" y1="425.75" x2="407.13" y2="428.75" stroke="#000" stroke-width="0.9"/>
<line x1="410.22" y1="425.75" x2="410.22" y2="427.75" stroke="#000" stroke-width="0.9"/>
<line x1="413.31" y1="425.75" x2="413.31" y2="427.75" stroke="#000" stroke-width="0.9"/>
<line x1="416.4" y1="425.75" x2="416.4" y2="427.75" stroke="#000" stroke-width="0.9"/>
<line x1="419.49" y1="425.75" x2="419.49" y2="427.75" stroke="#000" stroke-width="0.9"/>
<line x1="422.57" y1="425.75" x2="422.57" y2="428.75" stroke="#000" stroke-width="0.9"/>
<line x1="425.66" y1="425.75" x2="425.66" y2="427.75" stroke="#000" stroke-width="0.9"/>
<line x1="428.75" y1="425.75" x2="428.75" y2="427.75" stroke="#000" stroke-width="0.9"/>
<line x1="431.84" y1="425.75" x2="431.84" y2="427.75" stroke="#000" stroke-width="0.9"/>
<line x1="434.93" y1="425.75" x2="434.93" y2="427.75" stroke="#000" stroke-width="0.9"/>
<line x1="438.01" y1="425.75" x2="438.01" y2="428.75" stroke="#000" stroke-width="0.9"/>
<line x1="441.1" y1="425.75" x2="441.1" y2="427.75" stroke="#000" stroke-width="0.9"/>
<line x1="444.19" y1="425.75" x2="444.19" y2="427.75" stroke="#000" stroke-width="0.9"/>
<line x1="447.28" y1="425.75" x2="447.28" y2="427.75" stroke="#000" stroke-width="0.9"/>
<line x1="450.37" y1="425.75" x2="450.37" y2="427.75" stroke="#000" stroke-width="0.9"/>
<line x1="453.46" y1="425.75" x2="453.46" y2="428.75" stroke="#000" stroke-width="0.9"/>
<line x1="456.54" y1="425.75" x2="456.54" y2="427.75" stroke="#000" stroke-width="0.9"/>
<line x1="459.63" y1="425.75" x2="459.63" y2="427.75" stroke="#000" stroke-width="0.9"/>
<line x1="462.72" y1="425.75" x2="462.72" y2="427.75" stroke="#000" stroke-width="0.9"/>
<line x1="465.81" y1="425.75" x2="465.81" y2="427.75" stroke="#000" stroke-width="0.9"/>
<line x1="468.9" y1="425.75" x2="468.9" y2="428.75" stroke="#000" stroke-width="0.9"/>
<line x1="471.99" y1="425.75" x2="471.99" y2="427.75" stroke="#000" stroke-width="0.9"/>
<line x1="475.07" y1="425.75" x2="475.07" y2="427.75" stroke="#000" stroke-width="0.9"/>
<line x1="478.16" y1="425.75" x2="478.16" y2="427.75" stroke="#000" stroke-width="0.9"/>
<rect x="378.75" y="349.6" width="39.25" height="24.2" rx="1" fill="none" stroke="#111" stroke-width="1.25"/>
<rect x="380.15" y="351" width="36.45" height="21.4" fill="none" stroke="#999" stroke-width="0.7"/>
<rect x="378.75" y="375.75" width="39.25" height="26.15" rx="1" fill="none" stroke="#111" stroke-width="1.25"/>
<rect x="380.15" y="377.15" width="36.45" height="23.35" fill="none" stroke="#999" stroke-width="0.7"/>
<rect x="378.75" y="403.6" width="39.25" height="20.7" rx="1" fill="none" stroke="#111" stroke-width="1.25"/>
<rect x="380.15" y="405" width="36.45" height="17.9" fill="none" stroke="#999" stroke-width="0.7"/>
<rect x="420" y="349.6" width="45" height="24.2" rx="1" fill="none" stroke="#111" stroke-width="1.25"/>
<rect x="421.4" y="351" width="42.2" height="21.4" fill="none" stroke="#999" stroke-width="0.7"/>
<rect x="420" y="375.75" width="45" height="26.15" rx="1" fill="none" stroke="#111" stroke-width="1.25"/>
<rect x="421.4" y="377.15" width="42.2" height="23.35" fill="none" stroke="#999" stroke-width="0.7"/>
<rect x="420" y="403.6" width="45" height="20.7" rx="1" fill="none" stroke="#111" stroke-width="1.25"/>
<rect x="421.4" y="405" width="42.2" height="17.9" fill="none" stroke="#999" stroke-width="0.7"/>
<line x1="76" y1="420" x2="90.4" y2="420" stroke="#000" stroke-width="1"/>
<polygon points="72,420 77,418 77,422" fill="#000"/>
<line x1="27.4" y1="385" x2="27.4" y2="355.3" stroke="#000" stroke-width="1.2"/>
<polygon points="27.4,349.8 24.6,356.3 30.2,356.3" fill="#000"/>
<line x1="87" y1="440.5" x2="154.8" y2="440.5" stroke="#000" stroke-width="1.1"/>
<polygon points="160.3,440.5 153.8,437.7 153.8,443.3" fill="#000"/>
<line x1="58.4" y1="483.4" x2="58.4" y2="602" stroke="#000" stroke-width="1.6"/>
<line x1="54.2" y1="601.4" x2="58.4" y2="601.4" stroke="#000" stroke-width="1.4"/>
<line x1="54.2" y1="581.9" x2="58.4" y2="581.9" stroke="#000" stroke-width="1.4"/>
<line x1="54.2" y1="562.4" x2="58.4" y2="562.4" stroke="#000" stroke-width="1.4"/>
<line x1="54.2" y1="542.9" x2="58.4" y2="542.9" stroke="#000" stroke-width="1.4"/>
<line x1="54.2" y1="523.4" x2="58.4" y2="523.4" stroke="#000" stroke-width="1.4"/>
<line x1="54.2" y1="503.9" x2="58.4" y2="503.9" stroke="#000" stroke-width="1.4"/>
<line x1="54.2" y1="484.4" x2="58.4" y2="484.4" stroke="#000" stroke-width="1.4"/>
<line x1="57.6" y1="601.2" x2="222.4" y2="601.2" stroke="#000" stroke-width="1.6"/>
<rect x="63" y="599.45" width="7.7" height="1.95" fill="#000"/>
<rect x="70.7" y="599.45" width="7.7" height="1.95" fill="#000"/>
<rect x="78.4" y="599.45" width="7.7" height="1.95" fill="#000"/>
<line x1="99.6" y1="564.93" x2="99.6" y2="562.59" stroke="#000" stroke-width="1.1"/>
<line x1="97" y1="562.59" x2="102.2" y2="562.59" stroke="#000" stroke-width="1.3"/>
<rect x="96.35" y="565.53" width="6.5" height="35.87" fill="#111" stroke="#000" stroke-width="1.2"/>
<line x1="107.3" y1="586" x2="107.3" y2="585.22" stroke="#000" stroke-width="1.1"/>
<line x1="104.7" y1="585.22" x2="109.9" y2="585.22" stroke="#000" stroke-width="1.3"/>
<rect x="104.05" y="586.6" width="6.5" height="14.8" fill="#888" stroke="#000" stroke-width="1.2"/>
<line x1="115" y1="590.28" x2="115" y2="589.31" stroke="#000" stroke-width="1.1"/>
<line x1="112.4" y1="589.31" x2="117.6" y2="589.31" stroke="#000" stroke-width="1.3"/>
<rect x="111.75" y="590.88" width="6.5" height="10.51" fill="#fff" stroke="#000" stroke-width="1.2"/>
<line x1="132.35" y1="575.07" x2="132.35" y2="574.68" stroke="#000" stroke-width="1.1"/>
<line x1="129.75" y1="574.68" x2="134.95" y2="574.68" stroke="#000" stroke-width="1.3"/>
<rect x="129.1" y="575.67" width="6.5" height="25.73" fill="#111" stroke="#000" stroke-width="1.2"/>
<line x1="140.05" y1="578.39" x2="140.05" y2="577.8" stroke="#000" stroke-width="1.1"/>
<line x1="137.45" y1="577.8" x2="142.65" y2="577.8" stroke="#000" stroke-width="1.3"/>
<rect x="136.8" y="578.99" width="6.5" height="22.41" fill="#888" stroke="#000" stroke-width="1.2"/>
<line x1="147.75" y1="561.81" x2="147.75" y2="559.86" stroke="#000" stroke-width="1.1"/>
<line x1="145.15" y1="559.86" x2="150.35" y2="559.86" stroke="#000" stroke-width="1.3"/>
<rect x="144.5" y="562.41" width="6.5" height="38.99" fill="#fff" stroke="#000" stroke-width="1.2"/>
<line x1="165.1" y1="563.76" x2="165.1" y2="562.79" stroke="#000" stroke-width="1.1"/>
<line x1="162.5" y1="562.79" x2="167.7" y2="562.79" stroke="#000" stroke-width="1.3"/>
<rect x="161.85" y="564.37" width="6.5" height="37.03" fill="#111" stroke="#000" stroke-width="1.2"/>
<line x1="172.8" y1="544.85" x2="172.8" y2="540.56" stroke="#000" stroke-width="1.1"/>
<line x1="170.2" y1="540.56" x2="175.4" y2="540.56" stroke="#000" stroke-width="1.3"/>
<rect x="169.55" y="545.45" width="6.5" height="55.95" fill="#888" stroke="#000" stroke-width="1.2"/>
<line x1="180.5" y1="558.3" x2="180.5" y2="553.43" stroke="#000" stroke-width="1.1"/>
<line x1="177.9" y1="553.43" x2="183.1" y2="553.43" stroke="#000" stroke-width="1.3"/>
<rect x="177.25" y="558.9" width="6.5" height="42.5" fill="#fff" stroke="#000" stroke-width="1.2"/>
<line x1="197.85" y1="515.4" x2="197.85" y2="511.89" stroke="#000" stroke-width="1.1"/>
<line x1="195.25" y1="511.89" x2="200.45" y2="511.89" stroke="#000" stroke-width="1.3"/>
<rect x="194.6" y="516" width="6.5" height="85.39" fill="#111" stroke="#000" stroke-width="1.2"/>
<line x1="205.55" y1="512.09" x2="205.55" y2="506.63" stroke="#000" stroke-width="1.1"/>
<line x1="202.95" y1="506.63" x2="208.15" y2="506.63" stroke="#000" stroke-width="1.3"/>
<rect x="202.3" y="512.69" width="6.5" height="88.71" fill="#888" stroke="#000" stroke-width="1.2"/>
<line x1="213.25" y1="508.77" x2="213.25" y2="501.75" stroke="#000" stroke-width="1.1"/>
<line x1="210.65" y1="501.75" x2="215.85" y2="501.75" stroke="#000" stroke-width="1.3"/>
<rect x="210" y="509.38" width="6.5" height="92.02" fill="#fff" stroke="#000" stroke-width="1.2"/>
<rect x="96" y="493.4" width="11.4" height="6" fill="#111" stroke="#000" stroke-width="1.4"/>
<rect x="96" y="504.3" width="11.4" height="5.6" fill="#888" stroke="#000" stroke-width="1.4"/>
<rect x="96" y="514.9" width="11.4" height="5.5" fill="#fff" stroke="#000" stroke-width="1.4"/>
<line x1="281.2" y1="492.8" x2="281.2" y2="601" stroke="#000" stroke-width="1.6"/>
<line x1="277.2" y1="600.3" x2="281.2" y2="600.3" stroke="#000" stroke-width="1.4"/>
<line x1="277.2" y1="579.1" x2="281.2" y2="579.1" stroke="#000" stroke-width="1.4"/>
<line x1="277.2" y1="557.9" x2="281.2" y2="557.9" stroke="#000" stroke-width="1.4"/>
<line x1="277.2" y1="536.7" x2="281.2" y2="536.7" stroke="#000" stroke-width="1.4"/>
<line x1="277.2" y1="515.5" x2="281.2" y2="515.5" stroke="#000" stroke-width="1.4"/>
<line x1="277.2" y1="494.3" x2="281.2" y2="494.3" stroke="#000" stroke-width="1.4"/>
<line x1="280.4" y1="600.3" x2="374.3" y2="600.3" stroke="#000" stroke-width="1.6"/>
<line x1="292.85" y1="516.3" x2="292.85" y2="512.5" stroke="#000" stroke-width="1.3"/>
<line x1="290.25" y1="512.5" x2="295.45" y2="512.5" stroke="#000" stroke-width="1.4"/>
<rect x="287.4" y="516.3" width="10.9" height="84" fill="#1c1c1c"/>
<line x1="315.9" y1="532.3" x2="315.9" y2="527.5" stroke="#000" stroke-width="1.3"/>
<line x1="313.3" y1="527.5" x2="318.5" y2="527.5" stroke="#000" stroke-width="1.4"/>
<rect x="310.6" y="532.3" width="10.6" height="68" fill="#1c1c1c"/>
<line x1="339.7" y1="568.2" x2="339.7" y2="563.5" stroke="#000" stroke-width="1.3"/>
<line x1="337.1" y1="563.5" x2="342.3" y2="563.5" stroke="#000" stroke-width="1.4"/>
<rect x="334.2" y="568.2" width="11" height="32.1" fill="#1c1c1c"/>
<line x1="362.6" y1="568.6" x2="362.6" y2="566.5" stroke="#000" stroke-width="1.3"/>
<line x1="360" y1="566.5" x2="365.2" y2="566.5" stroke="#000" stroke-width="1.4"/>
<rect x="357" y="568.6" width="11.2" height="31.7" fill="#1c1c1c"/>
<line x1="276" y1="616.4" x2="348.3" y2="616.4" stroke="#000" stroke-width="1.1"/>
<line x1="352.8" y1="616.4" x2="374.3" y2="616.4" stroke="#000" stroke-width="1.1"/>
<line x1="428.5" y1="481.3" x2="428.5" y2="601.4" stroke="#000" stroke-width="1.6"/>
<line x1="424.4" y1="600.6" x2="428.5" y2="600.6" stroke="#000" stroke-width="1.4"/>
<line x1="424.4" y1="563.2" x2="428.5" y2="563.2" stroke="#000" stroke-width="1.4"/>
<line x1="424.4" y1="525.8" x2="428.5" y2="525.8" stroke="#000" stroke-width="1.4"/>
<line x1="424.4" y1="488.4" x2="428.5" y2="488.4" stroke="#000" stroke-width="1.4"/>
<line x1="427.7" y1="600.6" x2="506.5" y2="600.6" stroke="#000" stroke-width="1.6"/>
<line x1="438.15" y1="521.2" x2="438.15" y2="515.8" stroke="#000" stroke-width="1.3"/>
<line x1="435.35" y1="515.8" x2="440.95" y2="515.8" stroke="#000" stroke-width="1.5"/>
<rect x="431.7" y="521.2" width="12.9" height="79.4" fill="#000"/>
<line x1="458.1" y1="585.8" x2="458.1" y2="585" stroke="#000" stroke-width="1.3"/>
<line x1="455.3" y1="585" x2="460.9" y2="585" stroke="#000" stroke-width="1.5"/>
<rect x="451.4" y="585.8" width="13.4" height="14.8" fill="#000"/>
<line x1="478.55" y1="492.9" x2="478.55" y2="490.2" stroke="#000" stroke-width="1.3"/>
<line x1="475.75" y1="490.2" x2="481.35" y2="490.2" stroke="#000" stroke-width="1.5"/>
<rect x="472.1" y="492.9" width="12.9" height="107.7" fill="#000"/>
<line x1="498.45" y1="588.5" x2="498.45" y2="587" stroke="#000" stroke-width="1.3"/>
<line x1="495.65" y1="587" x2="501.25" y2="587" stroke="#000" stroke-width="1.5"/>
<rect x="491.7" y="588.5" width="13.5" height="12.1" fill="#000"/>
<line x1="429" y1="615.6" x2="470.2" y2="615.6" stroke="#000" stroke-width="1.1"/>
<line x1="472.9" y1="615.6" x2="511.4" y2="615.6" stroke="#000" stroke-width="1.1"/>
<path d="M315.8 523.4L315.8 520.5M315.8 523.4L318.56 522.5M315.8 523.4L317.5 525.75M315.8 523.4L314.1 525.75M315.8 523.4L313.04 522.5" stroke="#000" stroke-width="1.5" stroke-linecap="round" fill="none"/>
<path d="M338.6 559.4L338.6 556.5M338.6 559.4L341.36 558.5M338.6 559.4L340.3 561.75M338.6 559.4L336.9 561.75M338.6 559.4L335.84 558.5" stroke="#000" stroke-width="1.5" stroke-linecap="round" fill="none"/>
<path d="M363 562.6L363 559.7M363 562.6L365.76 561.7M363 562.6L364.7 564.95M363 562.6L361.3 564.95M363 562.6L360.24 561.7" stroke="#000" stroke-width="1.5" stroke-linecap="round" fill="none"/>
<path d="M100.4 556.8L100.4 555.2M100.4 556.8L101.92 556.31M100.4 556.8L101.34 558.09M100.4 556.8L99.46 558.09M100.4 556.8L98.88 556.31" stroke="#000" stroke-width="1.1" stroke-linecap="round" fill="none"/>
<path d="M108.1 576.8L108.1 575.2M108.1 576.8L109.62 576.31M108.1 576.8L109.04 578.09M108.1 576.8L107.16 578.09M108.1 576.8L106.58 576.31" stroke="#000" stroke-width="1.1" stroke-linecap="round" fill="none"/>
<path d="M115.3 582.6L115.3 581M115.3 582.6L116.82 582.11M115.3 582.6L116.24 583.89M115.3 582.6L114.36 583.89M115.3 582.6L113.78 582.11" stroke="#000" stroke-width="1.1" stroke-linecap="round" fill="none"/>
<path d="M147 553.8L147 552.2M147 553.8L148.52 553.31M147 553.8L147.94 555.09M147 553.8L146.06 555.09M147 553.8L145.48 553.31" stroke="#000" stroke-width="1.1" stroke-linecap="round" fill="none"/>
<path d="M172.3 534.1L172.3 532.5M172.3 534.1L173.82 533.61M172.3 534.1L173.24 535.39M172.3 534.1L171.36 535.39M172.3 534.1L170.78 533.61" stroke="#000" stroke-width="1.1" stroke-linecap="round" fill="none"/>
<text x="-0.01" y="17.45" font-size="24.5" font-weight="bold" textLength="17.59" lengthAdjust="spacingAndGlyphs" class="k">A</text>
<text x="44.8" y="22.2" font-size="13" textLength="42.7" lengthAdjust="spacingAndGlyphs" class="k">4w +/+</text>
<text x="138" y="22.2" font-size="13" textLength="44" lengthAdjust="spacingAndGlyphs" class="k">4w Z/Z</text>
<text x="220.87" y="22.29" font-size="13" textLength="62.13" lengthAdjust="spacingAndGlyphs" class="k">20mo +/+</text>
<text x="28.54" y="36.4" font-size="9.6" textLength="18.44" lengthAdjust="spacingAndGlyphs">9.62</text>
<text x="112.2" y="36.2" font-size="9.3" text-anchor="end" textLength="17.6" lengthAdjust="spacingAndGlyphs">3.31</text>
<text x="121.61" y="35.42" font-size="8.6" textLength="14.58" lengthAdjust="spacingAndGlyphs">1.91</text>
<text x="206.6" y="34.78" font-size="8.6" text-anchor="end" textLength="14.93" lengthAdjust="spacingAndGlyphs">4.41</text>
<text x="214.8" y="35.2" font-size="8.3" textLength="16.5" lengthAdjust="spacingAndGlyphs">0.19</text>
<text x="301.4" y="35.66" font-size="8.3" text-anchor="end" textLength="14.74" lengthAdjust="spacingAndGlyphs">0.49</text>
<text x="18.97" y="116.56" font-size="12.38" textLength="48.38" lengthAdjust="spacingAndGlyphs" transform="rotate(-90 18.97 116.56)" class="k">EpCam</text>
<text x="27.63" y="129.35" font-size="13.86" textLength="29.63" lengthAdjust="spacingAndGlyphs" class="k">Ly51</text>
<text x="311.56" y="17.45" font-size="24.5" font-weight="bold" textLength="17.57" lengthAdjust="spacingAndGlyphs" class="k">B</text>
<text x="348.39" y="34.97" font-size="13.7" text-anchor="end" textLength="18.99" lengthAdjust="spacingAndGlyphs" class="k">2.0</text>
<text x="348.63" y="76.04" font-size="13.7" text-anchor="end" textLength="18.65" lengthAdjust="spacingAndGlyphs" class="k">1.0</text>
<text x="348.59" y="113.39" font-size="13.7" text-anchor="end" textLength="19.13" lengthAdjust="spacingAndGlyphs" class="k">0.0</text>
<text x="325.8" y="114.51" font-size="12.97" textLength="91.06" lengthAdjust="spacingAndGlyphs" transform="rotate(-90 325.8 114.51)" class="k">mTEC : cTEC</text>
<text x="352.51" y="126.28" font-size="10.8" textLength="17.77" lengthAdjust="spacingAndGlyphs" class="k">+/+</text>
<text x="374.45" y="126.28" font-size="10.8" textLength="17.83" lengthAdjust="spacingAndGlyphs" class="k">Z/Z</text>
<text x="398.02" y="126.28" font-size="10.8" textLength="16.07" lengthAdjust="spacingAndGlyphs" class="k">+/+</text>
<text x="419.86" y="126.28" font-size="10.8" textLength="18.63" lengthAdjust="spacingAndGlyphs" class="k">Z/Z</text>
<text x="443.42" y="126.28" font-size="10.8" textLength="16.02" lengthAdjust="spacingAndGlyphs" class="k">+/+</text>
<text x="465.29" y="126.28" font-size="10.8" textLength="18.23" lengthAdjust="spacingAndGlyphs" class="k">Z/Z</text>
<text x="489.54" y="126.28" font-size="10.8" textLength="17.71" lengthAdjust="spacingAndGlyphs" class="k">+/+</text>
<text x="363" y="141.2" font-size="11.6" textLength="13.69" lengthAdjust="spacingAndGlyphs" class="k">3d</text>
<text x="407.1" y="141.2" font-size="11.6" textLength="16" lengthAdjust="spacingAndGlyphs" class="k">2w</text>
<text x="450.4" y="141.2" font-size="11.6" textLength="15.91" lengthAdjust="spacingAndGlyphs" class="k">4w</text>
<text x="488.5" y="141.2" font-size="11.6" textLength="33" lengthAdjust="spacingAndGlyphs" class="k">20mo</text>
<text x="0.99" y="185.95" font-size="24.5" font-weight="bold" textLength="16.42" lengthAdjust="spacingAndGlyphs" class="k">C</text>
<text x="61.54" y="180.94" font-size="13.6" textLength="20.1" lengthAdjust="spacingAndGlyphs" class="k">+/Z</text>
<text x="156.1" y="180.94" font-size="13.6" textLength="20.84" lengthAdjust="spacingAndGlyphs" class="k">Z/Z</text>
<text x="243.97" y="180.94" font-size="13.6" textLength="27.95" lengthAdjust="spacingAndGlyphs" class="k">Z/nu</text>
<text x="64.42" y="207.57" font-size="10.2" textLength="20.81" lengthAdjust="spacingAndGlyphs">35.4</text>
<text x="91.35" y="199.09" font-size="10.2" textLength="19.64" lengthAdjust="spacingAndGlyphs">20.9</text>
<text x="156.37" y="206.93" font-size="10.2" textLength="20.96" lengthAdjust="spacingAndGlyphs">39.5</text>
<text x="183.08" y="199.86" font-size="10.2" textLength="20.11" lengthAdjust="spacingAndGlyphs">12.2</text>
<text x="250.47" y="207.1" font-size="10.2" textLength="20.57" lengthAdjust="spacingAndGlyphs">38.3</text>
<text x="279.8" y="200.22" font-size="10.2" textLength="14.37" lengthAdjust="spacingAndGlyphs">6.4</text>
<text x="26.71" y="269.79" font-size="13.62" textLength="39.44" lengthAdjust="spacingAndGlyphs" class="k">MHCII</text>
<text x="329.71" y="185.22" font-size="24.5" font-weight="bold" textLength="17.67" lengthAdjust="spacingAndGlyphs" class="k">D</text>
<text x="368.99" y="292.74" font-size="12" text-anchor="end" textLength="7.86" lengthAdjust="spacingAndGlyphs" class="k">0</text>
<text x="368.6" y="262.8" font-size="12" text-anchor="end" textLength="13.36" lengthAdjust="spacingAndGlyphs" class="k">10</text>
<text x="368.63" y="236.41" font-size="12" text-anchor="end" textLength="14.11" lengthAdjust="spacingAndGlyphs" class="k">20</text>
<text x="368.87" y="211.2" font-size="12" text-anchor="end" textLength="14.55" lengthAdjust="spacingAndGlyphs" class="k">30</text>
<text x="368.6" y="183.9" font-size="12" text-anchor="end" textLength="13.36" lengthAdjust="spacingAndGlyphs" class="k">40</text>
<text x="381.77" y="300.59" font-size="10" textLength="23.88" lengthAdjust="spacingAndGlyphs">CD45</text>
<text x="420.3" y="301.9" font-size="10" textLength="22.31" lengthAdjust="spacingAndGlyphs">CD45</text>
<text x="445.89" y="301.97" font-size="10" textLength="34.24" lengthAdjust="spacingAndGlyphs">MHCII</text>
<text x="480.17" y="296.38" font-size="9.6" textLength="8.32" lengthAdjust="spacingAndGlyphs">hi</text>
<text x="-2.45" y="345.99" font-size="24.5" font-weight="bold" textLength="15.74" lengthAdjust="spacingAndGlyphs" class="k">E</text>
<text x="60.31" y="342.78" font-size="12.2" textLength="51.49" lengthAdjust="spacingAndGlyphs" class="k">1mo +/Z</text>
<text x="170.36" y="342.78" font-size="12.2" textLength="51.4" lengthAdjust="spacingAndGlyphs" class="k">1mo Z/Z</text>
<text x="282.1" y="342.94" font-size="12.2" textLength="59.43" lengthAdjust="spacingAndGlyphs" class="k">1mo Z/nu</text>
<text x="392.04" y="342.94" font-size="12.2" textLength="59.13" lengthAdjust="spacingAndGlyphs" class="k">13mo +/Z</text>
<text x="42.9" y="359.64" font-size="9.8" textLength="11.76" lengthAdjust="spacingAndGlyphs">R1</text>
<text x="43.96" y="386.96" font-size="9.8" textLength="12.79" lengthAdjust="spacingAndGlyphs">R3</text>
<text x="128.73" y="361.21" font-size="9.8" textLength="11.65" lengthAdjust="spacingAndGlyphs">R2</text>
<text x="127.83" y="384.9" font-size="9.8" textLength="11.64" lengthAdjust="spacingAndGlyphs">R4</text>
<text x="92.26" y="422.73" font-size="9.8" textLength="11.92" lengthAdjust="spacingAndGlyphs">R5</text>
<text x="31.1" y="425.62" font-size="14.04" textLength="39.84" lengthAdjust="spacingAndGlyphs" transform="rotate(-90 31.1 425.62)" class="k">MHCII</text>
<text x="38.21" y="445.22" font-size="14.87" textLength="40.7" lengthAdjust="spacingAndGlyphs" class="k">UEA-1</text>
<text x="-0.24" y="490.97" font-size="24.5" font-weight="bold" textLength="14.68" lengthAdjust="spacingAndGlyphs" class="k">F</text>
<text x="53.96" y="606.87" font-size="12.3" text-anchor="end" textLength="7.98" lengthAdjust="spacingAndGlyphs" class="k">0</text>
<text x="54" y="587.5" font-size="12.3" text-anchor="end" textLength="13.69" lengthAdjust="spacingAndGlyphs" class="k">10</text>
<text x="54.01" y="567.96" font-size="12.3" text-anchor="end" textLength="13.93" lengthAdjust="spacingAndGlyphs" class="k">20</text>
<text x="54" y="548.7" font-size="12.3" text-anchor="end" textLength="13.69" lengthAdjust="spacingAndGlyphs" class="k">30</text>
<text x="54.08" y="530.33" font-size="12.3" text-anchor="end" textLength="13.72" lengthAdjust="spacingAndGlyphs" class="k">40</text>
<text x="54.04" y="510.57" font-size="12.3" text-anchor="end" textLength="14.28" lengthAdjust="spacingAndGlyphs" class="k">50</text>
<text x="54.17" y="490.3" font-size="12.5" text-anchor="end" textLength="14.32" lengthAdjust="spacingAndGlyphs" class="k">60</text>
<text x="70.33" y="615.37" font-size="11.6" textLength="14.57" lengthAdjust="spacingAndGlyphs" class="k">R1</text>
<text x="100.94" y="615.37" font-size="11.6" textLength="16.03" lengthAdjust="spacingAndGlyphs" class="k">R2</text>
<text x="132.78" y="615.37" font-size="11.6" textLength="15.87" lengthAdjust="spacingAndGlyphs" class="k">R3</text>
<text x="164.45" y="615.37" font-size="11.6" textLength="16.75" lengthAdjust="spacingAndGlyphs" class="k">R4</text>
<text x="197.86" y="615.37" font-size="11.6" textLength="16.65" lengthAdjust="spacingAndGlyphs" class="k">R5</text>
<text x="33.2" y="598" font-size="14" textLength="100" lengthAdjust="spacingAndGlyphs" transform="rotate(-90 33.2 598)" class="k">% within TSCs</text>
<text x="238.06" y="491.32" font-size="22" font-weight="bold" textLength="19.46" lengthAdjust="spacingAndGlyphs" class="k">G</text>
<text x="272.88" y="603.58" font-size="11" text-anchor="end" textLength="6.92" lengthAdjust="spacingAndGlyphs" class="k">0</text>
<text x="272.8" y="582.6" font-size="11" text-anchor="end" textLength="7.03" lengthAdjust="spacingAndGlyphs" class="k">3</text>
<text x="272.94" y="561.79" font-size="11" text-anchor="end" textLength="7.24" lengthAdjust="spacingAndGlyphs" class="k">6</text>
<text x="272.78" y="540.58" font-size="11" text-anchor="end" textLength="7.08" lengthAdjust="spacingAndGlyphs" class="k">9</text>
<text x="272.81" y="520.54" font-size="11" text-anchor="end" textLength="13.27" lengthAdjust="spacingAndGlyphs" class="k">12</text>
<text x="272.9" y="499.11" font-size="11" text-anchor="end" textLength="13.55" lengthAdjust="spacingAndGlyphs" class="k">15</text>
<text x="276.56" y="613.34" font-size="10.8" textLength="16.85" lengthAdjust="spacingAndGlyphs" class="k">+/Z</text>
<text x="300.65" y="613.34" font-size="10.8" textLength="18.73" lengthAdjust="spacingAndGlyphs" class="k">Z/Z</text>
<text x="327.1" y="612.81" font-size="10.8" textLength="24.27" lengthAdjust="spacingAndGlyphs" class="k">Z/nu</text>
<text x="354.08" y="612.81" font-size="10.8" textLength="19.21" lengthAdjust="spacingAndGlyphs" class="k">+/Z</text>
<text x="300.6" y="627.7" font-size="10.8" textLength="23.57" lengthAdjust="spacingAndGlyphs" class="k">1mo</text>
<text x="351.37" y="627.91" font-size="11.2" textLength="30.01" lengthAdjust="spacingAndGlyphs" class="k">13mo</text>
<text x="388.82" y="490.51" font-size="22" font-weight="bold" textLength="19.4" lengthAdjust="spacingAndGlyphs" class="k">H</text>
<text x="422.14" y="603.69" font-size="10.3" text-anchor="end" textLength="14.2" lengthAdjust="spacingAndGlyphs">0.0</text>
<text x="422" y="566.5" font-size="10.3" text-anchor="end" textLength="14.33" lengthAdjust="spacingAndGlyphs">0.5</text>
<text x="422.02" y="529.81" font-size="10.3" text-anchor="end" textLength="14.74" lengthAdjust="spacingAndGlyphs">1.0</text>
<text x="422.03" y="492.63" font-size="10.3" text-anchor="end" textLength="14.74" lengthAdjust="spacingAndGlyphs">1.5</text>
<text x="431.66" y="614.03" font-size="10.8" textLength="8.41" lengthAdjust="spacingAndGlyphs" class="k">hi</text>
<text x="449.23" y="614.03" font-size="10.8" textLength="19.99" lengthAdjust="spacingAndGlyphs" class="k">m/lo</text>
<text x="473.4" y="614.03" font-size="10.8" textLength="9.47" lengthAdjust="spacingAndGlyphs" class="k">hi</text>
<text x="491.9" y="614.03" font-size="10.8" textLength="20" lengthAdjust="spacingAndGlyphs" class="k">m/lo</text>
<text x="436.42" y="626.81" font-size="10.2" textLength="31.67" lengthAdjust="spacingAndGlyphs">MHCII</text>
<text x="478.48" y="626.81" font-size="10.2" textLength="31.96" lengthAdjust="spacingAndGlyphs">UEA-1</text>
<text x="404.39" y="578.9" font-size="12.93" textLength="73.09" lengthAdjust="spacingAndGlyphs" transform="rotate(-90 404.39 578.9)" class="k">Foxn1 level</text>
<text x="440.83" y="190.12" font-size="10.8" font-weight="bold" textLength="7.85" lengthAdjust="spacingAndGlyphs" class="k">+</text>
<text x="458.1" y="189.1" font-size="10.6" font-weight="bold" textLength="6.48" lengthAdjust="spacingAndGlyphs" class="k">Z</text>
<text x="441.1" y="198.8" font-size="10.6" font-weight="bold" textLength="6.48" lengthAdjust="spacingAndGlyphs" class="k">Z</text>
<text x="456.7" y="198.8" font-size="10.6" font-weight="bold" textLength="6.48" lengthAdjust="spacingAndGlyphs" class="k">Z</text>
<text x="441.05" y="209.69" font-size="10.6" font-weight="bold" textLength="6.29" lengthAdjust="spacingAndGlyphs" class="k">Z</text>
<text x="456.43" y="209.72" font-size="10.6" font-weight="bold" textLength="14.27" lengthAdjust="spacingAndGlyphs" class="k">nu</text>
<text x="111.21" y="500.71" font-size="10.8" font-weight="bold" textLength="8.05" lengthAdjust="spacingAndGlyphs" class="k">+</text>
<text x="129.67" y="500.94" font-size="10.6" font-weight="bold" textLength="6.53" lengthAdjust="spacingAndGlyphs" class="k">Z</text>
<text x="111.28" y="510.88" font-size="10.6" font-weight="bold" textLength="6.64" lengthAdjust="spacingAndGlyphs" class="k">Z</text>
<text x="128.05" y="510.88" font-size="10.6" font-weight="bold" textLength="6.29" lengthAdjust="spacingAndGlyphs" class="k">Z</text>
<text x="111.3" y="521.3" font-size="10.6" font-weight="bold" textLength="6.48" lengthAdjust="spacingAndGlyphs" class="k">Z</text>
<text x="127.19" y="521.86" font-size="10.6" font-weight="bold" textLength="15.6" lengthAdjust="spacingAndGlyphs" class="k">nu</text>
<text x="345.77" y="277.9" font-size="13.44" textLength="64.93" lengthAdjust="spacingAndGlyphs" transform="rotate(-90 345.77 277.9)" class="k">cell # (x10</text>
<text x="341.2" y="213.16" font-size="13.68" textLength="7.55" lengthAdjust="spacingAndGlyphs" transform="rotate(-90 341.2 213.16)" class="k">3</text>
<text x="345.3" y="205.1" font-size="13.52" textLength="4.78" lengthAdjust="spacingAndGlyphs" transform="rotate(-90 345.3 205.1)" class="k">)</text>
<text x="256.69" y="591.85" font-size="12.2" textLength="63.86" lengthAdjust="spacingAndGlyphs" transform="rotate(-90 256.69 591.85)" class="k">% of UEA-1</text>
<text x="251.9" y="526.5" font-size="11.5" textLength="8.95" lengthAdjust="spacingAndGlyphs" transform="rotate(-90 251.9 526.5)" class="k">hi</text>
<line x1="455.55" y1="181.1" x2="450.65" y2="190.5" stroke="#000" stroke-width="1.9"/>
<line x1="455.15" y1="191.1" x2="449.55" y2="200.2" stroke="#000" stroke-width="1.9"/>
<line x1="454.45" y1="201.2" x2="449.55" y2="210.2" stroke="#000" stroke-width="1.9"/>
<line x1="127.25" y1="492.3" x2="122.45" y2="501.6" stroke="#000" stroke-width="1.9"/>
<line x1="126.15" y1="503.3" x2="120.25" y2="512.2" stroke="#000" stroke-width="1.9"/>
<line x1="125.05" y1="513.6" x2="119.85" y2="523.5" stroke="#000" stroke-width="1.9"/>
<line x1="406.4" y1="293.7" x2="408.8" y2="293.7" stroke="#000" stroke-width="1.1"/>
<line x1="443.5" y1="294.4" x2="446" y2="294.4" stroke="#000" stroke-width="1.1"/></svg></body></html>
